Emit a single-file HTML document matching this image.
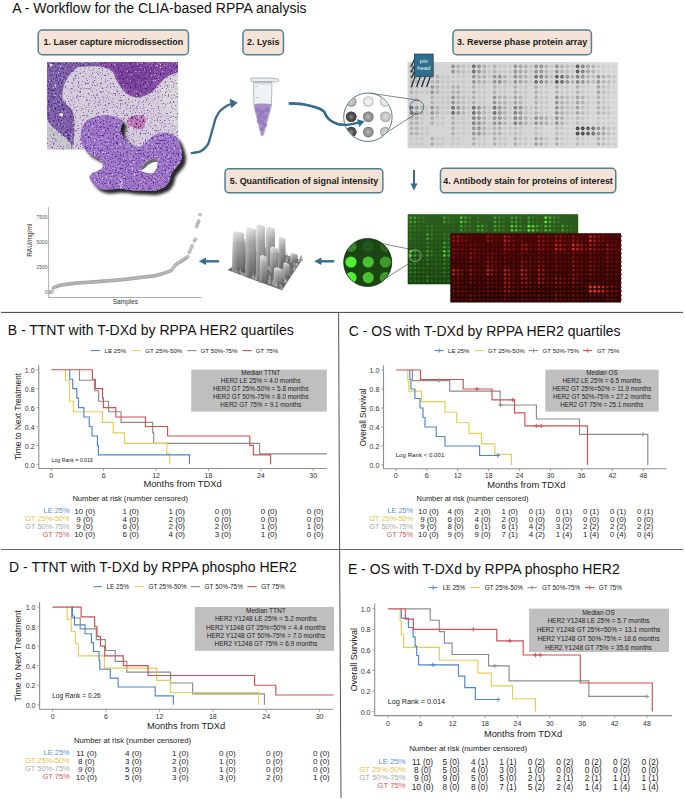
<!DOCTYPE html>
<html><head><meta charset="utf-8"><title>Figure</title>
<style>
html,body{margin:0;padding:0;background:#fff;}
svg{display:block;}
svg text{font-family:"Liberation Sans", sans-serif;}
</style></head>
<body>
<svg width="685" height="799" viewBox="0 0 685 799">
<rect x="0" y="0" width="685" height="799" fill="#ffffff"/>
<text x="12.20" y="12.70" font-size="14" fill="#111" text-anchor="start" font-weight="normal" >A - Workflow for the CLIA-based RPPA analysis</text>
<rect x="38.25" y="30.05" width="150.20" height="24.60" rx="4" ry="4" fill="#f4e3d6" stroke="#4f8196" stroke-width="1.5"/>
<text x="113.35" y="45.45" font-size="8.95" fill="#1a1a1a" text-anchor="middle" font-weight="bold" >1. Laser capture microdissection</text>
<rect x="242.95" y="30.05" width="40.50" height="24.60" rx="4" ry="4" fill="#f4e3d6" stroke="#4f8196" stroke-width="1.5"/>
<text x="263.20" y="45.45" font-size="8.95" fill="#1a1a1a" text-anchor="middle" font-weight="bold" >2. Lysis</text>
<rect x="452.95" y="30.05" width="138.50" height="24.60" rx="4" ry="4" fill="#f4e3d6" stroke="#4f8196" stroke-width="1.5"/>
<text x="522.20" y="45.45" font-size="8.95" fill="#1a1a1a" text-anchor="middle" font-weight="bold" >3. Reverse phase protein array</text>
<rect x="225.05" y="168.65" width="157.80" height="24.20" rx="4" ry="4" fill="#f4e3d6" stroke="#4f8196" stroke-width="1.5"/>
<text x="303.95" y="183.85" font-size="8.95" fill="#1a1a1a" text-anchor="middle" font-weight="bold" >5. Quantification of signal intensity</text>
<rect x="440.45" y="168.25" width="175.30" height="24.60" rx="4" ry="4" fill="#f4e3d6" stroke="#4f8196" stroke-width="1.5"/>
<text x="528.10" y="183.65" font-size="8.95" fill="#1a1a1a" text-anchor="middle" font-weight="bold" >4. Antibody stain for proteins of interest</text>
<defs>
<filter id="speck" x="0" y="0" width="100%" height="100%" color-interpolation-filters="sRGB">
 <feTurbulence type="fractalNoise" baseFrequency="0.6" numOctaves="2" seed="7" result="n"/>
 <feColorMatrix in="n" type="matrix" values="0 0 0 0 0.27  0 0 0 0 0.14  0 0 0 0 0.48  6.5 0 0 0 -3.6" result="m"/>
 <feComposite in="m" in2="SourceGraphic" operator="in" result="c"/>
 <feTurbulence type="fractalNoise" baseFrequency="0.55" numOctaves="2" seed="19" result="n2"/>
 <feColorMatrix in="n2" type="matrix" values="0 0 0 0 0.88  0 0 0 0 0.84  0 0 0 0 0.92  5 0 0 0 -3.1" result="m2"/>
 <feComposite in="m2" in2="SourceGraphic" operator="in" result="c2"/>
 <feMerge><feMergeNode in="SourceGraphic"/><feMergeNode in="c2"/><feMergeNode in="c"/></feMerge>
</filter>
<filter id="speckC" x="0" y="0" width="100%" height="100%" color-interpolation-filters="sRGB">
 <feTurbulence type="fractalNoise" baseFrequency="0.6" numOctaves="2" seed="5" result="n"/>
 <feColorMatrix in="n" type="matrix" values="0 0 0 0 0.36  0 0 0 0 0.18  0 0 0 0 0.60  6 0 0 0 -3.3" result="m"/>
 <feComposite in="m" in2="SourceGraphic" operator="in" result="c"/>
 <feTurbulence type="fractalNoise" baseFrequency="0.5" numOctaves="2" seed="23" result="n2"/>
 <feColorMatrix in="n2" type="matrix" values="0 0 0 0 0.86  0 0 0 0 0.80  0 0 0 0 0.92  5 0 0 0 -3.0" result="m2"/>
 <feComposite in="m2" in2="SourceGraphic" operator="in" result="c2"/>
 <feMerge><feMergeNode in="SourceGraphic"/><feMergeNode in="c2"/><feMergeNode in="c"/></feMerge>
</filter>
<filter id="speckL" x="0" y="0" width="100%" height="100%" color-interpolation-filters="sRGB">
 <feTurbulence type="fractalNoise" baseFrequency="0.6" numOctaves="2" seed="3" result="n"/>
 <feColorMatrix in="n" type="matrix" values="0 0 0 0 0.50  0 0 0 0 0.36  0 0 0 0 0.70  6 0 0 0 -3.45" result="m"/>
 <feComposite in="m" in2="SourceGraphic" operator="in" result="c"/>
 <feMerge><feMergeNode in="SourceGraphic"/><feMergeNode in="c"/></feMerge>
</filter>
<filter id="shadow" x="-20%" y="-20%" width="150%" height="150%">
 <feGaussianBlur in="SourceAlpha" stdDeviation="1.6"/>
 <feOffset dx="3.6" dy="4.0" result="ob"/>
 <feComponentTransfer><feFuncA type="linear" slope="0.85"/></feComponentTransfer>
 <feMerge><feMergeNode/><feMergeNode in="SourceGraphic"/></feMerge>
</filter>
<clipPath id="heclip"><rect x="46.9" y="62.1" width="131.3" height="87.3"/></clipPath>
<linearGradient id="prism" x1="0" y1="0" x2="0" y2="1">
 <stop offset="0" stop-color="#e4e4e4"/><stop offset="0.3" stop-color="#a8a8a8"/><stop offset="1" stop-color="#626262"/>
</linearGradient>
<linearGradient id="prism2" x1="0" y1="0" x2="1" y2="0">
 <stop offset="0" stop-color="#ffffff" stop-opacity="0.35"/><stop offset="0.5" stop-color="#ffffff" stop-opacity="0"/><stop offset="1" stop-color="#000" stop-opacity="0.18"/>
</linearGradient>
<radialGradient id="sph" cx="0.5" cy="0.5" r="0.5">
 <stop offset="0" stop-color="#fff" stop-opacity="0.4"/><stop offset="0.6" stop-color="#fff" stop-opacity="0.08"/><stop offset="1" stop-color="#000" stop-opacity="0.28"/>
</radialGradient>
<linearGradient id="greenbg" x1="0" y1="0" x2="0" y2="1">
 <stop offset="0" stop-color="#2b5f1d"/><stop offset="1" stop-color="#17430d"/>
</linearGradient>
<linearGradient id="redbg" x1="0" y1="0" x2="0" y2="1">
 <stop offset="0" stop-color="#440606"/><stop offset="1" stop-color="#240202"/>
</linearGradient>
<linearGradient id="graybg" x1="0" y1="0" x2="1" y2="0">
 <stop offset="0" stop-color="#d4d4d4"/><stop offset="1" stop-color="#dcdcdc"/>
</linearGradient>
</defs>
<g clip-path="url(#heclip)">
<g filter="url(#speck)">
<rect x="46.9" y="62.1" width="131.3" height="87.3" fill="#7f62aa"/>
<path d="M98,62.1 L178.2,62.1 L178.2,73 L173,74 L168,76 L163,80 L158,86 L152,92 L145,96 L136,97.5 L128,95 L122,89 L117,80 L113,72 L108,68 L100,66 Z" fill="#8a4ea6"/>
<path d="M116,64 C128,63 146,64 156,68 C152,78 144,88 132,90 C122,90 117,80 116,64 Z" fill="#7a3f9a" opacity="0.7"/>
</g>
<g filter="url(#speckL)">
<path d="M78.6,66.9 C84,66.2 94,65.8 100,66.5 C104,67 108,68 113,72 C115,76 118,84 122,89 C125,93 130,96.5 136,97.5 C141,98 147,95 152,92 C156,89 160,83 163,80 C166,77 170,75 173,74 L178.2,72 L178.2,149.4 L72,149.4 L73,143 C73.8,140 74.4,135 74.5,129.1 C74.6,124 74.6,120 74,117.6 C73.5,114 73,112 71.6,109.5 C70,107 67.5,105.5 65.9,103.8 C63.5,101 62.3,99 62.4,96.9 C62.3,94 62.4,91 63,88.8 C64,85 65.5,82 67,79.6 C68.5,76 70.5,73.5 72.8,71.5 C74.5,69.5 76.5,67.8 78.6,66.9 Z" fill="#d6cfdb"/>
<path d="M46.9,119.9 C50,124 53,128 55.5,129.1 C59,132 61,134 63.6,136 C66,138 68.5,141 70.5,143 L72,149.4 L46.9,149.4 Z" fill="#cacaca"/>
<path d="M178.2,73 L178.2,128 C174,124 168,116 163,106 C159,98 160,90 165,84 C169,79 174,75 178.2,73 Z" fill="#d9d9d9"/>
</g>
<ellipse cx="61.3" cy="114.7" rx="2" ry="1.7" fill="#eeeaf2"/><ellipse cx="55.5" cy="85.5" rx="1.1" ry="1" fill="#e6e0ee"/><ellipse cx="51" cy="65" rx="1.5" ry="1.2" fill="#e6e0ee"/>
<g filter="url(#speck)"><path d="M127,121 C129,116 137,114 144,115.5 C147,118 146,124 143,128 C140,131 136,129 133,127 C130,126 127,125 127,121 Z" fill="#c67ab6"/></g>
</g>
<g filter="url(#shadow)"><g filter="url(#speckC)"><path d="M81.4,129.3 C84,122 88,119 91,118.8 C96,116 100,115.3 103.3,115.3 C108,115 113,115.5 116.4,117 C120,118.5 123,120.5 122.6,123.1 C121.5,126 120.5,128.5 120.8,131 C121.5,134 122.5,136 124.3,138 C127,141 130,144 133.1,145 C136,146.5 138,147 140.1,146.8 C144,145 147,141 150.6,138 C154,135 158,133 161.1,132.8 C165,132.5 169,133 172.5,134.5 C176,136.5 178,139 178.6,141.5 C180.5,146 182,151 182.1,155.5 C182,159 180.5,162 178.6,164.3 C176,168 173,170.5 171.6,173.1 C170.5,175.5 170.5,178 169.9,180.1 C168.5,183 166.5,185.5 164.6,187.1 C160,189.5 156,190.5 152.3,190.9 C146,191 141,190.8 136.6,190.6 C131,190.2 127,189.2 122.6,188.8 C116,188.6 110,189.5 105,189.7 C99,189 95,187 92.8,183.6 C90.5,181 89.5,179 89.3,176.6 C90,174.5 92,173 94.5,172.2 C97.5,171 100.5,170 102.4,167.8 C103,165.5 103,163 101.5,160.8 C98,158 93,156.5 89.3,153.8 C86,151.5 83.5,148.5 82.3,145 C80.5,140 80.5,134 81.4,129.3 Z" fill="#9f78c8"/><path d="M92,124 C100,119 112,119 118,124 C116,132 108,137 98,137 C92,135 89,129 92,124 Z" fill="#a274c6" opacity="0.8"/><path d="M140,176 C150,174 160,176 166,180 C160,187 148,189 140,186 Z" fill="#a274c6" opacity="0.8"/><path d="M121,178 C122.8,180 123.5,185 123,189 L120,189 C119.5,185 119.8,181 121,178 Z" fill="#c6b4dc"/></g></g>
<path d="M141,170.5 C143,164 148,159.5 153,158.8 C156,158.5 157.5,160 157.6,162 C157.8,166 156.5,170 154,172.5 C150,173.5 145,173.5 141,170.5 Z" fill="#ffffff"/>
<path d="M141,170.5 C143,164 148,159.5 153,158.8 C156,158.5 157.5,160 157.6,162 C154,161.5 150,163 147,166 C145,168 143,170 141,170.5 Z" fill="#6a6a6a"/>
<path d="M190.90,153.20 C192.58,152.85 198.23,152.47 201.00,151.10 C203.77,149.73 206.03,147.05 207.50,145.00 C208.97,142.95 208.83,141.87 209.80,138.80 C210.77,135.73 212.28,130.10 213.30,126.60 C214.32,123.10 214.73,120.43 215.90,117.80 C217.07,115.17 218.40,112.85 220.30,110.80 C222.20,108.75 225.32,106.65 227.30,105.50 C229.28,104.35 231.38,104.17 232.20,103.90" fill="none" stroke="#346d8d" stroke-width="2.3"/>
<path d="M237.6,102.7 L229.6,98.6 L231.3,108.2 Z" fill="#346d8d"/>
<path d="M288.80,103.40 C291.27,103.55 299.07,103.63 303.60,104.30 C308.13,104.97 312.68,106.27 316.00,107.40 C319.32,108.53 321.83,109.75 323.50,111.10 C325.17,112.45 324.97,114.05 326.00,115.50 C327.03,116.95 327.85,118.42 329.70,119.80 C331.55,121.18 334.22,122.97 337.10,123.80 C339.98,124.63 343.43,125.00 347.00,124.80 C350.57,124.60 356.58,122.97 358.50,122.60" fill="none" stroke="#346d8d" stroke-width="2.3"/>
<path d="M364.6,121.2 L356.9,119.2 L359.3,127.0 Z" fill="#346d8d"/>
<path d="M414,170 L414,184.5" stroke="#346d8d" stroke-width="2"/><path d="M410.5,183.5 L417.5,183.5 L414,190.5 Z" fill="#346d8d"/>
<path d="M320.7,261.3 L334.2,261.3" stroke="#346d8d" stroke-width="2.4"/><path d="M314.2,261.3 L321.4,257.6 L321.4,265 Z" fill="#346d8d"/>
<path d="M205.3,261.3 L219.0,261.3" stroke="#346d8d" stroke-width="2.4"/><path d="M198.8,261.3 L206.0,257.6 L206.0,265 Z" fill="#346d8d"/>
<path d="M253.4,82.5 L272,82.5 L271.4,106 L263.6,134.8 C263,136.4 261.6,136.4 261,134.8 L254,106 Z" fill="#eef3f3" stroke="#9aa4a8" stroke-width="0.7"/>
<path d="M254.2,104 C258,103.2 266,103.2 271.2,104 L271,106 L263.4,134.6 C262.8,136 261.8,136 261.2,134.6 L254.2,106 Z" fill="#a98fcc"/>
<circle cx="257.5" cy="110" r="2.2" fill="#9a7cc2" stroke="#8a6cb2" stroke-width="0.5"/>
<circle cx="262" cy="112" r="2.2" fill="#9a7cc2" stroke="#8a6cb2" stroke-width="0.5"/>
<circle cx="267" cy="110" r="2.2" fill="#9a7cc2" stroke="#8a6cb2" stroke-width="0.5"/>
<circle cx="259.5" cy="116" r="2.1" fill="#9a7cc2" stroke="#8a6cb2" stroke-width="0.5"/>
<circle cx="264.5" cy="117" r="2.1" fill="#9a7cc2" stroke="#8a6cb2" stroke-width="0.5"/>
<circle cx="262" cy="122" r="2.0" fill="#9a7cc2" stroke="#8a6cb2" stroke-width="0.5"/>
<circle cx="259" cy="121" r="1.8" fill="#9a7cc2" stroke="#8a6cb2" stroke-width="0.5"/>
<circle cx="265" cy="125" r="1.7" fill="#9a7cc2" stroke="#8a6cb2" stroke-width="0.5"/>
<circle cx="262" cy="129" r="1.5" fill="#9a7cc2" stroke="#8a6cb2" stroke-width="0.5"/>
<rect x="251" y="78" width="22.5" height="3.6" rx="0.8" fill="#eceff0" stroke="#8f9a9e" stroke-width="0.7"/>
<path d="M273.5,78.6 L278,78.8 C279.2,79.3 279.2,81.4 278,81.8 L273.5,81.8" fill="#e8eced" stroke="#8f9a9e" stroke-width="0.6"/>
<path d="M254.5,84 L270.5,84" stroke="#b7c0c3" stroke-width="0.6"/>
<path d="M255.5,86.5 L258,86.5 M255.5,97.5 L259,97.5" stroke="#8f9a9e" stroke-width="0.5"/>
<rect x="407.5" y="62.0" width="210.5" height="86.3" fill="url(#graybg)"/>
<circle cx="411.54" cy="66.38" r="1.45" fill="#a3a3a3" stroke="#7b7b7b" stroke-width="0.8"/>
<circle cx="416.73" cy="66.38" r="1.45" fill="#a3a3a3" stroke="#7b7b7b" stroke-width="0.8"/>
<circle cx="421.92" cy="66.38" r="1.45" fill="#b9b9b9" stroke="#a3a3a3" stroke-width="0.8"/>
<circle cx="427.11" cy="66.38" r="1.45" fill="#b9b9b9" stroke="#a3a3a3" stroke-width="0.8"/>
<circle cx="432.30" cy="66.38" r="1.45" fill="#cbcbcb" stroke="#c3c3c3" stroke-width="0.8"/>
<circle cx="437.49" cy="66.38" r="1.45" fill="#d4d4d4" stroke="#d4d4d4" stroke-width="0.8"/>
<circle cx="442.68" cy="66.38" r="1.45" fill="#d4d4d4" stroke="#d4d4d4" stroke-width="0.8"/>
<circle cx="447.87" cy="66.38" r="1.45" fill="#d4d4d4" stroke="#d4d4d4" stroke-width="0.8"/>
<circle cx="453.06" cy="66.38" r="1.45" fill="#a3a3a3" stroke="#7b7b7b" stroke-width="0.8"/>
<circle cx="458.25" cy="66.38" r="1.45" fill="#b9b9b9" stroke="#a3a3a3" stroke-width="0.8"/>
<circle cx="463.44" cy="66.38" r="1.45" fill="#c3c3c3" stroke="#b4b4b4" stroke-width="0.8"/>
<circle cx="468.63" cy="66.38" r="1.45" fill="#cbcbcb" stroke="#c3c3c3" stroke-width="0.8"/>
<circle cx="473.82" cy="66.38" r="1.45" fill="#888888" stroke="#4b4b4b" stroke-width="0.8"/>
<circle cx="479.01" cy="66.38" r="1.45" fill="#a3a3a3" stroke="#7b7b7b" stroke-width="0.8"/>
<circle cx="484.20" cy="66.38" r="1.45" fill="#b9b9b9" stroke="#a3a3a3" stroke-width="0.8"/>
<circle cx="489.39" cy="66.38" r="1.45" fill="#cbcbcb" stroke="#c3c3c3" stroke-width="0.8"/>
<circle cx="494.58" cy="66.38" r="1.45" fill="#b9b9b9" stroke="#a3a3a3" stroke-width="0.8"/>
<circle cx="499.77" cy="66.38" r="1.45" fill="#cbcbcb" stroke="#c3c3c3" stroke-width="0.8"/>
<circle cx="504.96" cy="66.38" r="1.45" fill="#cbcbcb" stroke="#c3c3c3" stroke-width="0.8"/>
<circle cx="510.15" cy="66.38" r="1.45" fill="#cbcbcb" stroke="#c3c3c3" stroke-width="0.8"/>
<circle cx="515.35" cy="66.38" r="1.45" fill="#a3a3a3" stroke="#7b7b7b" stroke-width="0.8"/>
<circle cx="520.53" cy="66.38" r="1.45" fill="#afafaf" stroke="#909090" stroke-width="0.8"/>
<circle cx="525.72" cy="66.38" r="1.45" fill="#b9b9b9" stroke="#a3a3a3" stroke-width="0.8"/>
<circle cx="530.91" cy="66.38" r="1.45" fill="#cbcbcb" stroke="#c3c3c3" stroke-width="0.8"/>
<circle cx="536.11" cy="66.38" r="1.45" fill="#a3a3a3" stroke="#7b7b7b" stroke-width="0.8"/>
<circle cx="541.29" cy="66.38" r="1.45" fill="#a3a3a3" stroke="#7b7b7b" stroke-width="0.8"/>
<circle cx="546.48" cy="66.38" r="1.45" fill="#b9b9b9" stroke="#a3a3a3" stroke-width="0.8"/>
<circle cx="551.67" cy="66.38" r="1.45" fill="#cbcbcb" stroke="#c3c3c3" stroke-width="0.8"/>
<circle cx="556.87" cy="66.38" r="1.45" fill="#a3a3a3" stroke="#7b7b7b" stroke-width="0.8"/>
<circle cx="562.05" cy="66.38" r="1.45" fill="#b9b9b9" stroke="#a3a3a3" stroke-width="0.8"/>
<circle cx="567.25" cy="66.38" r="1.45" fill="#c3c3c3" stroke="#b4b4b4" stroke-width="0.8"/>
<circle cx="572.43" cy="66.38" r="1.45" fill="#cbcbcb" stroke="#c3c3c3" stroke-width="0.8"/>
<circle cx="577.62" cy="66.38" r="1.45" fill="#7a7a7a" stroke="#303030" stroke-width="0.8"/>
<circle cx="582.81" cy="66.38" r="1.45" fill="#969696" stroke="#646464" stroke-width="0.8"/>
<circle cx="588.00" cy="66.38" r="1.45" fill="#afafaf" stroke="#909090" stroke-width="0.8"/>
<circle cx="593.19" cy="66.38" r="1.45" fill="#b9b9b9" stroke="#a3a3a3" stroke-width="0.8"/>
<circle cx="598.38" cy="66.38" r="1.45" fill="#cbcbcb" stroke="#c3c3c3" stroke-width="0.8"/>
<circle cx="603.57" cy="66.38" r="1.45" fill="#d1d1d1" stroke="#cecece" stroke-width="0.8"/>
<circle cx="608.76" cy="66.38" r="1.45" fill="#d4d4d4" stroke="#d4d4d4" stroke-width="0.8"/>
<circle cx="613.95" cy="66.38" r="1.45" fill="#d4d4d4" stroke="#d4d4d4" stroke-width="0.8"/>
<circle cx="411.54" cy="71.55" r="1.45" fill="#a3a3a3" stroke="#7b7b7b" stroke-width="0.8"/>
<circle cx="416.73" cy="71.55" r="1.45" fill="#a3a3a3" stroke="#7b7b7b" stroke-width="0.8"/>
<circle cx="421.92" cy="71.55" r="1.45" fill="#b9b9b9" stroke="#a3a3a3" stroke-width="0.8"/>
<circle cx="427.11" cy="71.55" r="1.45" fill="#b9b9b9" stroke="#a3a3a3" stroke-width="0.8"/>
<circle cx="432.30" cy="71.55" r="1.45" fill="#cbcbcb" stroke="#c3c3c3" stroke-width="0.8"/>
<circle cx="437.49" cy="71.55" r="1.45" fill="#d4d4d4" stroke="#d4d4d4" stroke-width="0.8"/>
<circle cx="442.68" cy="71.55" r="1.45" fill="#d4d4d4" stroke="#d4d4d4" stroke-width="0.8"/>
<circle cx="447.87" cy="71.55" r="1.45" fill="#d4d4d4" stroke="#d4d4d4" stroke-width="0.8"/>
<circle cx="453.06" cy="71.55" r="1.45" fill="#a3a3a3" stroke="#7b7b7b" stroke-width="0.8"/>
<circle cx="458.25" cy="71.55" r="1.45" fill="#b9b9b9" stroke="#a3a3a3" stroke-width="0.8"/>
<circle cx="463.44" cy="71.55" r="1.45" fill="#c3c3c3" stroke="#b4b4b4" stroke-width="0.8"/>
<circle cx="468.63" cy="71.55" r="1.45" fill="#cbcbcb" stroke="#c3c3c3" stroke-width="0.8"/>
<circle cx="473.82" cy="71.55" r="1.45" fill="#888888" stroke="#4b4b4b" stroke-width="0.8"/>
<circle cx="479.01" cy="71.55" r="1.45" fill="#a3a3a3" stroke="#7b7b7b" stroke-width="0.8"/>
<circle cx="484.20" cy="71.55" r="1.45" fill="#b9b9b9" stroke="#a3a3a3" stroke-width="0.8"/>
<circle cx="489.39" cy="71.55" r="1.45" fill="#cbcbcb" stroke="#c3c3c3" stroke-width="0.8"/>
<circle cx="494.58" cy="71.55" r="1.45" fill="#b9b9b9" stroke="#a3a3a3" stroke-width="0.8"/>
<circle cx="499.77" cy="71.55" r="1.45" fill="#cbcbcb" stroke="#c3c3c3" stroke-width="0.8"/>
<circle cx="504.96" cy="71.55" r="1.45" fill="#cbcbcb" stroke="#c3c3c3" stroke-width="0.8"/>
<circle cx="510.15" cy="71.55" r="1.45" fill="#cbcbcb" stroke="#c3c3c3" stroke-width="0.8"/>
<circle cx="515.35" cy="71.55" r="1.45" fill="#a3a3a3" stroke="#7b7b7b" stroke-width="0.8"/>
<circle cx="520.53" cy="71.55" r="1.45" fill="#afafaf" stroke="#909090" stroke-width="0.8"/>
<circle cx="525.72" cy="71.55" r="1.45" fill="#b9b9b9" stroke="#a3a3a3" stroke-width="0.8"/>
<circle cx="530.91" cy="71.55" r="1.45" fill="#cbcbcb" stroke="#c3c3c3" stroke-width="0.8"/>
<circle cx="536.11" cy="71.55" r="1.45" fill="#a3a3a3" stroke="#7b7b7b" stroke-width="0.8"/>
<circle cx="541.29" cy="71.55" r="1.45" fill="#a3a3a3" stroke="#7b7b7b" stroke-width="0.8"/>
<circle cx="546.48" cy="71.55" r="1.45" fill="#b9b9b9" stroke="#a3a3a3" stroke-width="0.8"/>
<circle cx="551.67" cy="71.55" r="1.45" fill="#cbcbcb" stroke="#c3c3c3" stroke-width="0.8"/>
<circle cx="556.87" cy="71.55" r="1.45" fill="#a3a3a3" stroke="#7b7b7b" stroke-width="0.8"/>
<circle cx="562.05" cy="71.55" r="1.45" fill="#b9b9b9" stroke="#a3a3a3" stroke-width="0.8"/>
<circle cx="567.25" cy="71.55" r="1.45" fill="#c3c3c3" stroke="#b4b4b4" stroke-width="0.8"/>
<circle cx="572.43" cy="71.55" r="1.45" fill="#cbcbcb" stroke="#c3c3c3" stroke-width="0.8"/>
<circle cx="577.62" cy="71.55" r="1.45" fill="#7a7a7a" stroke="#303030" stroke-width="0.8"/>
<circle cx="582.81" cy="71.55" r="1.45" fill="#969696" stroke="#646464" stroke-width="0.8"/>
<circle cx="588.00" cy="71.55" r="1.45" fill="#afafaf" stroke="#909090" stroke-width="0.8"/>
<circle cx="593.19" cy="71.55" r="1.45" fill="#b9b9b9" stroke="#a3a3a3" stroke-width="0.8"/>
<circle cx="598.38" cy="71.55" r="1.45" fill="#cbcbcb" stroke="#c3c3c3" stroke-width="0.8"/>
<circle cx="603.57" cy="71.55" r="1.45" fill="#d1d1d1" stroke="#cecece" stroke-width="0.8"/>
<circle cx="608.76" cy="71.55" r="1.45" fill="#d4d4d4" stroke="#d4d4d4" stroke-width="0.8"/>
<circle cx="613.95" cy="71.55" r="1.45" fill="#d4d4d4" stroke="#d4d4d4" stroke-width="0.8"/>
<circle cx="411.54" cy="76.72" r="1.45" fill="#b9b9b9" stroke="#a3a3a3" stroke-width="0.8"/>
<circle cx="416.73" cy="76.72" r="1.45" fill="#b9b9b9" stroke="#a3a3a3" stroke-width="0.8"/>
<circle cx="421.92" cy="76.72" r="1.45" fill="#c3c3c3" stroke="#b4b4b4" stroke-width="0.8"/>
<circle cx="427.11" cy="76.72" r="1.45" fill="#cbcbcb" stroke="#c3c3c3" stroke-width="0.8"/>
<circle cx="432.30" cy="76.72" r="1.45" fill="#b9b9b9" stroke="#a3a3a3" stroke-width="0.8"/>
<circle cx="437.49" cy="76.72" r="1.45" fill="#b9b9b9" stroke="#a3a3a3" stroke-width="0.8"/>
<circle cx="442.68" cy="76.72" r="1.45" fill="#cbcbcb" stroke="#c3c3c3" stroke-width="0.8"/>
<circle cx="447.87" cy="76.72" r="1.45" fill="#cbcbcb" stroke="#c3c3c3" stroke-width="0.8"/>
<circle cx="453.06" cy="76.72" r="1.45" fill="#cbcbcb" stroke="#c3c3c3" stroke-width="0.8"/>
<circle cx="458.25" cy="76.72" r="1.45" fill="#cbcbcb" stroke="#c3c3c3" stroke-width="0.8"/>
<circle cx="463.44" cy="76.72" r="1.45" fill="#cbcbcb" stroke="#c3c3c3" stroke-width="0.8"/>
<circle cx="468.63" cy="76.72" r="1.45" fill="#d1d1d1" stroke="#cecece" stroke-width="0.8"/>
<circle cx="473.82" cy="76.72" r="1.45" fill="#a3a3a3" stroke="#7b7b7b" stroke-width="0.8"/>
<circle cx="479.01" cy="76.72" r="1.45" fill="#b9b9b9" stroke="#a3a3a3" stroke-width="0.8"/>
<circle cx="484.20" cy="76.72" r="1.45" fill="#b9b9b9" stroke="#a3a3a3" stroke-width="0.8"/>
<circle cx="489.39" cy="76.72" r="1.45" fill="#cbcbcb" stroke="#c3c3c3" stroke-width="0.8"/>
<circle cx="494.58" cy="76.72" r="1.45" fill="#a3a3a3" stroke="#7b7b7b" stroke-width="0.8"/>
<circle cx="499.77" cy="76.72" r="1.45" fill="#a3a3a3" stroke="#7b7b7b" stroke-width="0.8"/>
<circle cx="504.96" cy="76.72" r="1.45" fill="#b9b9b9" stroke="#a3a3a3" stroke-width="0.8"/>
<circle cx="510.15" cy="76.72" r="1.45" fill="#cbcbcb" stroke="#c3c3c3" stroke-width="0.8"/>
<circle cx="515.35" cy="76.72" r="1.45" fill="#a3a3a3" stroke="#7b7b7b" stroke-width="0.8"/>
<circle cx="520.53" cy="76.72" r="1.45" fill="#afafaf" stroke="#909090" stroke-width="0.8"/>
<circle cx="525.72" cy="76.72" r="1.45" fill="#b9b9b9" stroke="#a3a3a3" stroke-width="0.8"/>
<circle cx="530.91" cy="76.72" r="1.45" fill="#cbcbcb" stroke="#c3c3c3" stroke-width="0.8"/>
<circle cx="536.11" cy="76.72" r="1.45" fill="#888888" stroke="#4b4b4b" stroke-width="0.8"/>
<circle cx="541.29" cy="76.72" r="1.45" fill="#969696" stroke="#646464" stroke-width="0.8"/>
<circle cx="546.48" cy="76.72" r="1.45" fill="#afafaf" stroke="#909090" stroke-width="0.8"/>
<circle cx="551.67" cy="76.72" r="1.45" fill="#c3c3c3" stroke="#b4b4b4" stroke-width="0.8"/>
<circle cx="556.87" cy="76.72" r="1.45" fill="#7a7a7a" stroke="#303030" stroke-width="0.8"/>
<circle cx="562.05" cy="76.72" r="1.45" fill="#888888" stroke="#4b4b4b" stroke-width="0.8"/>
<circle cx="567.25" cy="76.72" r="1.45" fill="#a3a3a3" stroke="#7b7b7b" stroke-width="0.8"/>
<circle cx="572.43" cy="76.72" r="1.45" fill="#b9b9b9" stroke="#a3a3a3" stroke-width="0.8"/>
<circle cx="577.62" cy="76.72" r="1.45" fill="#969696" stroke="#646464" stroke-width="0.8"/>
<circle cx="582.81" cy="76.72" r="1.45" fill="#a3a3a3" stroke="#7b7b7b" stroke-width="0.8"/>
<circle cx="588.00" cy="76.72" r="1.45" fill="#b9b9b9" stroke="#a3a3a3" stroke-width="0.8"/>
<circle cx="593.19" cy="76.72" r="1.45" fill="#c3c3c3" stroke="#b4b4b4" stroke-width="0.8"/>
<circle cx="598.38" cy="76.72" r="1.45" fill="#a3a3a3" stroke="#7b7b7b" stroke-width="0.8"/>
<circle cx="603.57" cy="76.72" r="1.45" fill="#b9b9b9" stroke="#a3a3a3" stroke-width="0.8"/>
<circle cx="608.76" cy="76.72" r="1.45" fill="#c3c3c3" stroke="#b4b4b4" stroke-width="0.8"/>
<circle cx="613.95" cy="76.72" r="1.45" fill="#cbcbcb" stroke="#c3c3c3" stroke-width="0.8"/>
<circle cx="411.54" cy="81.89" r="1.45" fill="#b9b9b9" stroke="#a3a3a3" stroke-width="0.8"/>
<circle cx="416.73" cy="81.89" r="1.45" fill="#b9b9b9" stroke="#a3a3a3" stroke-width="0.8"/>
<circle cx="421.92" cy="81.89" r="1.45" fill="#c3c3c3" stroke="#b4b4b4" stroke-width="0.8"/>
<circle cx="427.11" cy="81.89" r="1.45" fill="#cbcbcb" stroke="#c3c3c3" stroke-width="0.8"/>
<circle cx="432.30" cy="81.89" r="1.45" fill="#b9b9b9" stroke="#a3a3a3" stroke-width="0.8"/>
<circle cx="437.49" cy="81.89" r="1.45" fill="#b9b9b9" stroke="#a3a3a3" stroke-width="0.8"/>
<circle cx="442.68" cy="81.89" r="1.45" fill="#cbcbcb" stroke="#c3c3c3" stroke-width="0.8"/>
<circle cx="447.87" cy="81.89" r="1.45" fill="#cbcbcb" stroke="#c3c3c3" stroke-width="0.8"/>
<circle cx="453.06" cy="81.89" r="1.45" fill="#cbcbcb" stroke="#c3c3c3" stroke-width="0.8"/>
<circle cx="458.25" cy="81.89" r="1.45" fill="#cbcbcb" stroke="#c3c3c3" stroke-width="0.8"/>
<circle cx="463.44" cy="81.89" r="1.45" fill="#cbcbcb" stroke="#c3c3c3" stroke-width="0.8"/>
<circle cx="468.63" cy="81.89" r="1.45" fill="#d1d1d1" stroke="#cecece" stroke-width="0.8"/>
<circle cx="473.82" cy="81.89" r="1.45" fill="#a3a3a3" stroke="#7b7b7b" stroke-width="0.8"/>
<circle cx="479.01" cy="81.89" r="1.45" fill="#b9b9b9" stroke="#a3a3a3" stroke-width="0.8"/>
<circle cx="484.20" cy="81.89" r="1.45" fill="#b9b9b9" stroke="#a3a3a3" stroke-width="0.8"/>
<circle cx="489.39" cy="81.89" r="1.45" fill="#cbcbcb" stroke="#c3c3c3" stroke-width="0.8"/>
<circle cx="494.58" cy="81.89" r="1.45" fill="#a3a3a3" stroke="#7b7b7b" stroke-width="0.8"/>
<circle cx="499.77" cy="81.89" r="1.45" fill="#a3a3a3" stroke="#7b7b7b" stroke-width="0.8"/>
<circle cx="504.96" cy="81.89" r="1.45" fill="#b9b9b9" stroke="#a3a3a3" stroke-width="0.8"/>
<circle cx="510.15" cy="81.89" r="1.45" fill="#cbcbcb" stroke="#c3c3c3" stroke-width="0.8"/>
<circle cx="515.35" cy="81.89" r="1.45" fill="#a3a3a3" stroke="#7b7b7b" stroke-width="0.8"/>
<circle cx="520.53" cy="81.89" r="1.45" fill="#afafaf" stroke="#909090" stroke-width="0.8"/>
<circle cx="525.72" cy="81.89" r="1.45" fill="#b9b9b9" stroke="#a3a3a3" stroke-width="0.8"/>
<circle cx="530.91" cy="81.89" r="1.45" fill="#cbcbcb" stroke="#c3c3c3" stroke-width="0.8"/>
<circle cx="536.11" cy="81.89" r="1.45" fill="#888888" stroke="#4b4b4b" stroke-width="0.8"/>
<circle cx="541.29" cy="81.89" r="1.45" fill="#969696" stroke="#646464" stroke-width="0.8"/>
<circle cx="546.48" cy="81.89" r="1.45" fill="#afafaf" stroke="#909090" stroke-width="0.8"/>
<circle cx="551.67" cy="81.89" r="1.45" fill="#c3c3c3" stroke="#b4b4b4" stroke-width="0.8"/>
<circle cx="556.87" cy="81.89" r="1.45" fill="#7a7a7a" stroke="#303030" stroke-width="0.8"/>
<circle cx="562.05" cy="81.89" r="1.45" fill="#888888" stroke="#4b4b4b" stroke-width="0.8"/>
<circle cx="567.25" cy="81.89" r="1.45" fill="#a3a3a3" stroke="#7b7b7b" stroke-width="0.8"/>
<circle cx="572.43" cy="81.89" r="1.45" fill="#b9b9b9" stroke="#a3a3a3" stroke-width="0.8"/>
<circle cx="577.62" cy="81.89" r="1.45" fill="#969696" stroke="#646464" stroke-width="0.8"/>
<circle cx="582.81" cy="81.89" r="1.45" fill="#a3a3a3" stroke="#7b7b7b" stroke-width="0.8"/>
<circle cx="588.00" cy="81.89" r="1.45" fill="#b9b9b9" stroke="#a3a3a3" stroke-width="0.8"/>
<circle cx="593.19" cy="81.89" r="1.45" fill="#c3c3c3" stroke="#b4b4b4" stroke-width="0.8"/>
<circle cx="598.38" cy="81.89" r="1.45" fill="#a3a3a3" stroke="#7b7b7b" stroke-width="0.8"/>
<circle cx="603.57" cy="81.89" r="1.45" fill="#b9b9b9" stroke="#a3a3a3" stroke-width="0.8"/>
<circle cx="608.76" cy="81.89" r="1.45" fill="#c3c3c3" stroke="#b4b4b4" stroke-width="0.8"/>
<circle cx="613.95" cy="81.89" r="1.45" fill="#cbcbcb" stroke="#c3c3c3" stroke-width="0.8"/>
<circle cx="411.54" cy="87.06" r="1.45" fill="#b9b9b9" stroke="#a3a3a3" stroke-width="0.8"/>
<circle cx="416.73" cy="87.06" r="1.45" fill="#c3c3c3" stroke="#b4b4b4" stroke-width="0.8"/>
<circle cx="421.92" cy="87.06" r="1.45" fill="#cbcbcb" stroke="#c3c3c3" stroke-width="0.8"/>
<circle cx="427.11" cy="87.06" r="1.45" fill="#cbcbcb" stroke="#c3c3c3" stroke-width="0.8"/>
<circle cx="432.30" cy="87.06" r="1.45" fill="#a3a3a3" stroke="#7b7b7b" stroke-width="0.8"/>
<circle cx="437.49" cy="87.06" r="1.45" fill="#b9b9b9" stroke="#a3a3a3" stroke-width="0.8"/>
<circle cx="442.68" cy="87.06" r="1.45" fill="#cbcbcb" stroke="#c3c3c3" stroke-width="0.8"/>
<circle cx="447.87" cy="87.06" r="1.45" fill="#cbcbcb" stroke="#c3c3c3" stroke-width="0.8"/>
<circle cx="453.06" cy="87.06" r="1.45" fill="#b9b9b9" stroke="#a3a3a3" stroke-width="0.8"/>
<circle cx="458.25" cy="87.06" r="1.45" fill="#b9b9b9" stroke="#a3a3a3" stroke-width="0.8"/>
<circle cx="463.44" cy="87.06" r="1.45" fill="#cbcbcb" stroke="#c3c3c3" stroke-width="0.8"/>
<circle cx="468.63" cy="87.06" r="1.45" fill="#d1d1d1" stroke="#cecece" stroke-width="0.8"/>
<circle cx="473.82" cy="87.06" r="1.45" fill="#b9b9b9" stroke="#a3a3a3" stroke-width="0.8"/>
<circle cx="479.01" cy="87.06" r="1.45" fill="#cbcbcb" stroke="#c3c3c3" stroke-width="0.8"/>
<circle cx="484.20" cy="87.06" r="1.45" fill="#cbcbcb" stroke="#c3c3c3" stroke-width="0.8"/>
<circle cx="489.39" cy="87.06" r="1.45" fill="#d4d4d4" stroke="#d4d4d4" stroke-width="0.8"/>
<circle cx="494.58" cy="87.06" r="1.45" fill="#b9b9b9" stroke="#a3a3a3" stroke-width="0.8"/>
<circle cx="499.77" cy="87.06" r="1.45" fill="#cbcbcb" stroke="#c3c3c3" stroke-width="0.8"/>
<circle cx="504.96" cy="87.06" r="1.45" fill="#cbcbcb" stroke="#c3c3c3" stroke-width="0.8"/>
<circle cx="510.15" cy="87.06" r="1.45" fill="#d4d4d4" stroke="#d4d4d4" stroke-width="0.8"/>
<circle cx="515.35" cy="87.06" r="1.45" fill="#b9b9b9" stroke="#a3a3a3" stroke-width="0.8"/>
<circle cx="520.53" cy="87.06" r="1.45" fill="#cbcbcb" stroke="#c3c3c3" stroke-width="0.8"/>
<circle cx="525.72" cy="87.06" r="1.45" fill="#cbcbcb" stroke="#c3c3c3" stroke-width="0.8"/>
<circle cx="530.91" cy="87.06" r="1.45" fill="#d4d4d4" stroke="#d4d4d4" stroke-width="0.8"/>
<circle cx="536.11" cy="87.06" r="1.45" fill="#b9b9b9" stroke="#a3a3a3" stroke-width="0.8"/>
<circle cx="541.29" cy="87.06" r="1.45" fill="#cbcbcb" stroke="#c3c3c3" stroke-width="0.8"/>
<circle cx="546.48" cy="87.06" r="1.45" fill="#cbcbcb" stroke="#c3c3c3" stroke-width="0.8"/>
<circle cx="551.67" cy="87.06" r="1.45" fill="#d4d4d4" stroke="#d4d4d4" stroke-width="0.8"/>
<circle cx="556.87" cy="87.06" r="1.45" fill="#b9b9b9" stroke="#a3a3a3" stroke-width="0.8"/>
<circle cx="562.05" cy="87.06" r="1.45" fill="#cbcbcb" stroke="#c3c3c3" stroke-width="0.8"/>
<circle cx="567.25" cy="87.06" r="1.45" fill="#cbcbcb" stroke="#c3c3c3" stroke-width="0.8"/>
<circle cx="572.43" cy="87.06" r="1.45" fill="#d1d1d1" stroke="#cecece" stroke-width="0.8"/>
<circle cx="577.62" cy="87.06" r="1.45" fill="#b9b9b9" stroke="#a3a3a3" stroke-width="0.8"/>
<circle cx="582.81" cy="87.06" r="1.45" fill="#cbcbcb" stroke="#c3c3c3" stroke-width="0.8"/>
<circle cx="588.00" cy="87.06" r="1.45" fill="#d1d1d1" stroke="#cecece" stroke-width="0.8"/>
<circle cx="593.19" cy="87.06" r="1.45" fill="#d4d4d4" stroke="#d4d4d4" stroke-width="0.8"/>
<circle cx="598.38" cy="87.06" r="1.45" fill="#afafaf" stroke="#909090" stroke-width="0.8"/>
<circle cx="603.57" cy="87.06" r="1.45" fill="#c3c3c3" stroke="#b4b4b4" stroke-width="0.8"/>
<circle cx="608.76" cy="87.06" r="1.45" fill="#cbcbcb" stroke="#c3c3c3" stroke-width="0.8"/>
<circle cx="613.95" cy="87.06" r="1.45" fill="#d1d1d1" stroke="#cecece" stroke-width="0.8"/>
<circle cx="411.54" cy="92.22" r="1.45" fill="#b9b9b9" stroke="#a3a3a3" stroke-width="0.8"/>
<circle cx="416.73" cy="92.22" r="1.45" fill="#c3c3c3" stroke="#b4b4b4" stroke-width="0.8"/>
<circle cx="421.92" cy="92.22" r="1.45" fill="#cbcbcb" stroke="#c3c3c3" stroke-width="0.8"/>
<circle cx="427.11" cy="92.22" r="1.45" fill="#cbcbcb" stroke="#c3c3c3" stroke-width="0.8"/>
<circle cx="432.30" cy="92.22" r="1.45" fill="#a3a3a3" stroke="#7b7b7b" stroke-width="0.8"/>
<circle cx="437.49" cy="92.22" r="1.45" fill="#b9b9b9" stroke="#a3a3a3" stroke-width="0.8"/>
<circle cx="442.68" cy="92.22" r="1.45" fill="#cbcbcb" stroke="#c3c3c3" stroke-width="0.8"/>
<circle cx="447.87" cy="92.22" r="1.45" fill="#cbcbcb" stroke="#c3c3c3" stroke-width="0.8"/>
<circle cx="453.06" cy="92.22" r="1.45" fill="#b9b9b9" stroke="#a3a3a3" stroke-width="0.8"/>
<circle cx="458.25" cy="92.22" r="1.45" fill="#b9b9b9" stroke="#a3a3a3" stroke-width="0.8"/>
<circle cx="463.44" cy="92.22" r="1.45" fill="#cbcbcb" stroke="#c3c3c3" stroke-width="0.8"/>
<circle cx="468.63" cy="92.22" r="1.45" fill="#d1d1d1" stroke="#cecece" stroke-width="0.8"/>
<circle cx="473.82" cy="92.22" r="1.45" fill="#b9b9b9" stroke="#a3a3a3" stroke-width="0.8"/>
<circle cx="479.01" cy="92.22" r="1.45" fill="#cbcbcb" stroke="#c3c3c3" stroke-width="0.8"/>
<circle cx="484.20" cy="92.22" r="1.45" fill="#cbcbcb" stroke="#c3c3c3" stroke-width="0.8"/>
<circle cx="489.39" cy="92.22" r="1.45" fill="#d4d4d4" stroke="#d4d4d4" stroke-width="0.8"/>
<circle cx="494.58" cy="92.22" r="1.45" fill="#b9b9b9" stroke="#a3a3a3" stroke-width="0.8"/>
<circle cx="499.77" cy="92.22" r="1.45" fill="#cbcbcb" stroke="#c3c3c3" stroke-width="0.8"/>
<circle cx="504.96" cy="92.22" r="1.45" fill="#cbcbcb" stroke="#c3c3c3" stroke-width="0.8"/>
<circle cx="510.15" cy="92.22" r="1.45" fill="#d4d4d4" stroke="#d4d4d4" stroke-width="0.8"/>
<circle cx="515.35" cy="92.22" r="1.45" fill="#b9b9b9" stroke="#a3a3a3" stroke-width="0.8"/>
<circle cx="520.53" cy="92.22" r="1.45" fill="#cbcbcb" stroke="#c3c3c3" stroke-width="0.8"/>
<circle cx="525.72" cy="92.22" r="1.45" fill="#cbcbcb" stroke="#c3c3c3" stroke-width="0.8"/>
<circle cx="530.91" cy="92.22" r="1.45" fill="#d4d4d4" stroke="#d4d4d4" stroke-width="0.8"/>
<circle cx="536.11" cy="92.22" r="1.45" fill="#b9b9b9" stroke="#a3a3a3" stroke-width="0.8"/>
<circle cx="541.29" cy="92.22" r="1.45" fill="#cbcbcb" stroke="#c3c3c3" stroke-width="0.8"/>
<circle cx="546.48" cy="92.22" r="1.45" fill="#cbcbcb" stroke="#c3c3c3" stroke-width="0.8"/>
<circle cx="551.67" cy="92.22" r="1.45" fill="#d4d4d4" stroke="#d4d4d4" stroke-width="0.8"/>
<circle cx="556.87" cy="92.22" r="1.45" fill="#b9b9b9" stroke="#a3a3a3" stroke-width="0.8"/>
<circle cx="562.05" cy="92.22" r="1.45" fill="#cbcbcb" stroke="#c3c3c3" stroke-width="0.8"/>
<circle cx="567.25" cy="92.22" r="1.45" fill="#cbcbcb" stroke="#c3c3c3" stroke-width="0.8"/>
<circle cx="572.43" cy="92.22" r="1.45" fill="#d1d1d1" stroke="#cecece" stroke-width="0.8"/>
<circle cx="577.62" cy="92.22" r="1.45" fill="#b9b9b9" stroke="#a3a3a3" stroke-width="0.8"/>
<circle cx="582.81" cy="92.22" r="1.45" fill="#cbcbcb" stroke="#c3c3c3" stroke-width="0.8"/>
<circle cx="588.00" cy="92.22" r="1.45" fill="#d1d1d1" stroke="#cecece" stroke-width="0.8"/>
<circle cx="593.19" cy="92.22" r="1.45" fill="#d4d4d4" stroke="#d4d4d4" stroke-width="0.8"/>
<circle cx="598.38" cy="92.22" r="1.45" fill="#afafaf" stroke="#909090" stroke-width="0.8"/>
<circle cx="603.57" cy="92.22" r="1.45" fill="#c3c3c3" stroke="#b4b4b4" stroke-width="0.8"/>
<circle cx="608.76" cy="92.22" r="1.45" fill="#cbcbcb" stroke="#c3c3c3" stroke-width="0.8"/>
<circle cx="613.95" cy="92.22" r="1.45" fill="#d1d1d1" stroke="#cecece" stroke-width="0.8"/>
<circle cx="411.54" cy="97.39" r="1.45" fill="#cbcbcb" stroke="#c3c3c3" stroke-width="0.8"/>
<circle cx="416.73" cy="97.39" r="1.45" fill="#cbcbcb" stroke="#c3c3c3" stroke-width="0.8"/>
<circle cx="421.92" cy="97.39" r="1.45" fill="#d4d4d4" stroke="#d4d4d4" stroke-width="0.8"/>
<circle cx="427.11" cy="97.39" r="1.45" fill="#d4d4d4" stroke="#d4d4d4" stroke-width="0.8"/>
<circle cx="432.30" cy="97.39" r="1.45" fill="#b9b9b9" stroke="#a3a3a3" stroke-width="0.8"/>
<circle cx="437.49" cy="97.39" r="1.45" fill="#cbcbcb" stroke="#c3c3c3" stroke-width="0.8"/>
<circle cx="442.68" cy="97.39" r="1.45" fill="#cbcbcb" stroke="#c3c3c3" stroke-width="0.8"/>
<circle cx="447.87" cy="97.39" r="1.45" fill="#cbcbcb" stroke="#c3c3c3" stroke-width="0.8"/>
<circle cx="453.06" cy="97.39" r="1.45" fill="#a3a3a3" stroke="#7b7b7b" stroke-width="0.8"/>
<circle cx="458.25" cy="97.39" r="1.45" fill="#b9b9b9" stroke="#a3a3a3" stroke-width="0.8"/>
<circle cx="463.44" cy="97.39" r="1.45" fill="#c3c3c3" stroke="#b4b4b4" stroke-width="0.8"/>
<circle cx="468.63" cy="97.39" r="1.45" fill="#cbcbcb" stroke="#c3c3c3" stroke-width="0.8"/>
<circle cx="473.82" cy="97.39" r="1.45" fill="#b9b9b9" stroke="#a3a3a3" stroke-width="0.8"/>
<circle cx="479.01" cy="97.39" r="1.45" fill="#cbcbcb" stroke="#c3c3c3" stroke-width="0.8"/>
<circle cx="484.20" cy="97.39" r="1.45" fill="#cbcbcb" stroke="#c3c3c3" stroke-width="0.8"/>
<circle cx="489.39" cy="97.39" r="1.45" fill="#d4d4d4" stroke="#d4d4d4" stroke-width="0.8"/>
<circle cx="494.58" cy="97.39" r="1.45" fill="#a3a3a3" stroke="#7b7b7b" stroke-width="0.8"/>
<circle cx="499.77" cy="97.39" r="1.45" fill="#b9b9b9" stroke="#a3a3a3" stroke-width="0.8"/>
<circle cx="504.96" cy="97.39" r="1.45" fill="#b9b9b9" stroke="#a3a3a3" stroke-width="0.8"/>
<circle cx="510.15" cy="97.39" r="1.45" fill="#cbcbcb" stroke="#c3c3c3" stroke-width="0.8"/>
<circle cx="515.35" cy="97.39" r="1.45" fill="#afafaf" stroke="#909090" stroke-width="0.8"/>
<circle cx="520.53" cy="97.39" r="1.45" fill="#b9b9b9" stroke="#a3a3a3" stroke-width="0.8"/>
<circle cx="525.72" cy="97.39" r="1.45" fill="#cbcbcb" stroke="#c3c3c3" stroke-width="0.8"/>
<circle cx="530.91" cy="97.39" r="1.45" fill="#d4d4d4" stroke="#d4d4d4" stroke-width="0.8"/>
<circle cx="536.11" cy="97.39" r="1.45" fill="#b9b9b9" stroke="#a3a3a3" stroke-width="0.8"/>
<circle cx="541.29" cy="97.39" r="1.45" fill="#cbcbcb" stroke="#c3c3c3" stroke-width="0.8"/>
<circle cx="546.48" cy="97.39" r="1.45" fill="#cbcbcb" stroke="#c3c3c3" stroke-width="0.8"/>
<circle cx="551.67" cy="97.39" r="1.45" fill="#d4d4d4" stroke="#d4d4d4" stroke-width="0.8"/>
<circle cx="556.87" cy="97.39" r="1.45" fill="#a3a3a3" stroke="#7b7b7b" stroke-width="0.8"/>
<circle cx="562.05" cy="97.39" r="1.45" fill="#b9b9b9" stroke="#a3a3a3" stroke-width="0.8"/>
<circle cx="567.25" cy="97.39" r="1.45" fill="#c3c3c3" stroke="#b4b4b4" stroke-width="0.8"/>
<circle cx="572.43" cy="97.39" r="1.45" fill="#cbcbcb" stroke="#c3c3c3" stroke-width="0.8"/>
<circle cx="577.62" cy="97.39" r="1.45" fill="#afafaf" stroke="#909090" stroke-width="0.8"/>
<circle cx="582.81" cy="97.39" r="1.45" fill="#b9b9b9" stroke="#a3a3a3" stroke-width="0.8"/>
<circle cx="588.00" cy="97.39" r="1.45" fill="#cbcbcb" stroke="#c3c3c3" stroke-width="0.8"/>
<circle cx="593.19" cy="97.39" r="1.45" fill="#d1d1d1" stroke="#cecece" stroke-width="0.8"/>
<circle cx="598.38" cy="97.39" r="1.45" fill="#b9b9b9" stroke="#a3a3a3" stroke-width="0.8"/>
<circle cx="603.57" cy="97.39" r="1.45" fill="#cbcbcb" stroke="#c3c3c3" stroke-width="0.8"/>
<circle cx="608.76" cy="97.39" r="1.45" fill="#d1d1d1" stroke="#cecece" stroke-width="0.8"/>
<circle cx="613.95" cy="97.39" r="1.45" fill="#d4d4d4" stroke="#d4d4d4" stroke-width="0.8"/>
<circle cx="411.54" cy="102.56" r="1.45" fill="#cbcbcb" stroke="#c3c3c3" stroke-width="0.8"/>
<circle cx="416.73" cy="102.56" r="1.45" fill="#cbcbcb" stroke="#c3c3c3" stroke-width="0.8"/>
<circle cx="421.92" cy="102.56" r="1.45" fill="#d4d4d4" stroke="#d4d4d4" stroke-width="0.8"/>
<circle cx="427.11" cy="102.56" r="1.45" fill="#d4d4d4" stroke="#d4d4d4" stroke-width="0.8"/>
<circle cx="432.30" cy="102.56" r="1.45" fill="#b9b9b9" stroke="#a3a3a3" stroke-width="0.8"/>
<circle cx="437.49" cy="102.56" r="1.45" fill="#cbcbcb" stroke="#c3c3c3" stroke-width="0.8"/>
<circle cx="442.68" cy="102.56" r="1.45" fill="#cbcbcb" stroke="#c3c3c3" stroke-width="0.8"/>
<circle cx="447.87" cy="102.56" r="1.45" fill="#cbcbcb" stroke="#c3c3c3" stroke-width="0.8"/>
<circle cx="453.06" cy="102.56" r="1.45" fill="#a3a3a3" stroke="#7b7b7b" stroke-width="0.8"/>
<circle cx="458.25" cy="102.56" r="1.45" fill="#b9b9b9" stroke="#a3a3a3" stroke-width="0.8"/>
<circle cx="463.44" cy="102.56" r="1.45" fill="#c3c3c3" stroke="#b4b4b4" stroke-width="0.8"/>
<circle cx="468.63" cy="102.56" r="1.45" fill="#cbcbcb" stroke="#c3c3c3" stroke-width="0.8"/>
<circle cx="473.82" cy="102.56" r="1.45" fill="#b9b9b9" stroke="#a3a3a3" stroke-width="0.8"/>
<circle cx="479.01" cy="102.56" r="1.45" fill="#cbcbcb" stroke="#c3c3c3" stroke-width="0.8"/>
<circle cx="484.20" cy="102.56" r="1.45" fill="#cbcbcb" stroke="#c3c3c3" stroke-width="0.8"/>
<circle cx="489.39" cy="102.56" r="1.45" fill="#d4d4d4" stroke="#d4d4d4" stroke-width="0.8"/>
<circle cx="494.58" cy="102.56" r="1.45" fill="#a3a3a3" stroke="#7b7b7b" stroke-width="0.8"/>
<circle cx="499.77" cy="102.56" r="1.45" fill="#b9b9b9" stroke="#a3a3a3" stroke-width="0.8"/>
<circle cx="504.96" cy="102.56" r="1.45" fill="#b9b9b9" stroke="#a3a3a3" stroke-width="0.8"/>
<circle cx="510.15" cy="102.56" r="1.45" fill="#cbcbcb" stroke="#c3c3c3" stroke-width="0.8"/>
<circle cx="515.35" cy="102.56" r="1.45" fill="#afafaf" stroke="#909090" stroke-width="0.8"/>
<circle cx="520.53" cy="102.56" r="1.45" fill="#b9b9b9" stroke="#a3a3a3" stroke-width="0.8"/>
<circle cx="525.72" cy="102.56" r="1.45" fill="#cbcbcb" stroke="#c3c3c3" stroke-width="0.8"/>
<circle cx="530.91" cy="102.56" r="1.45" fill="#d4d4d4" stroke="#d4d4d4" stroke-width="0.8"/>
<circle cx="536.11" cy="102.56" r="1.45" fill="#b9b9b9" stroke="#a3a3a3" stroke-width="0.8"/>
<circle cx="541.29" cy="102.56" r="1.45" fill="#cbcbcb" stroke="#c3c3c3" stroke-width="0.8"/>
<circle cx="546.48" cy="102.56" r="1.45" fill="#cbcbcb" stroke="#c3c3c3" stroke-width="0.8"/>
<circle cx="551.67" cy="102.56" r="1.45" fill="#d4d4d4" stroke="#d4d4d4" stroke-width="0.8"/>
<circle cx="556.87" cy="102.56" r="1.45" fill="#a3a3a3" stroke="#7b7b7b" stroke-width="0.8"/>
<circle cx="562.05" cy="102.56" r="1.45" fill="#b9b9b9" stroke="#a3a3a3" stroke-width="0.8"/>
<circle cx="567.25" cy="102.56" r="1.45" fill="#c3c3c3" stroke="#b4b4b4" stroke-width="0.8"/>
<circle cx="572.43" cy="102.56" r="1.45" fill="#cbcbcb" stroke="#c3c3c3" stroke-width="0.8"/>
<circle cx="577.62" cy="102.56" r="1.45" fill="#afafaf" stroke="#909090" stroke-width="0.8"/>
<circle cx="582.81" cy="102.56" r="1.45" fill="#b9b9b9" stroke="#a3a3a3" stroke-width="0.8"/>
<circle cx="588.00" cy="102.56" r="1.45" fill="#cbcbcb" stroke="#c3c3c3" stroke-width="0.8"/>
<circle cx="593.19" cy="102.56" r="1.45" fill="#d1d1d1" stroke="#cecece" stroke-width="0.8"/>
<circle cx="598.38" cy="102.56" r="1.45" fill="#b9b9b9" stroke="#a3a3a3" stroke-width="0.8"/>
<circle cx="603.57" cy="102.56" r="1.45" fill="#cbcbcb" stroke="#c3c3c3" stroke-width="0.8"/>
<circle cx="608.76" cy="102.56" r="1.45" fill="#d1d1d1" stroke="#cecece" stroke-width="0.8"/>
<circle cx="613.95" cy="102.56" r="1.45" fill="#d4d4d4" stroke="#d4d4d4" stroke-width="0.8"/>
<circle cx="411.54" cy="107.73" r="1.45" fill="#888888" stroke="#4b4b4b" stroke-width="0.8"/>
<circle cx="416.73" cy="107.73" r="1.45" fill="#a3a3a3" stroke="#7b7b7b" stroke-width="0.8"/>
<circle cx="421.92" cy="107.73" r="1.45" fill="#b9b9b9" stroke="#a3a3a3" stroke-width="0.8"/>
<circle cx="427.11" cy="107.73" r="1.45" fill="#cbcbcb" stroke="#c3c3c3" stroke-width="0.8"/>
<circle cx="432.30" cy="107.73" r="1.45" fill="#a3a3a3" stroke="#7b7b7b" stroke-width="0.8"/>
<circle cx="437.49" cy="107.73" r="1.45" fill="#b9b9b9" stroke="#a3a3a3" stroke-width="0.8"/>
<circle cx="442.68" cy="107.73" r="1.45" fill="#cbcbcb" stroke="#c3c3c3" stroke-width="0.8"/>
<circle cx="447.87" cy="107.73" r="1.45" fill="#cbcbcb" stroke="#c3c3c3" stroke-width="0.8"/>
<circle cx="453.06" cy="107.73" r="1.45" fill="#888888" stroke="#4b4b4b" stroke-width="0.8"/>
<circle cx="458.25" cy="107.73" r="1.45" fill="#a3a3a3" stroke="#7b7b7b" stroke-width="0.8"/>
<circle cx="463.44" cy="107.73" r="1.45" fill="#b9b9b9" stroke="#a3a3a3" stroke-width="0.8"/>
<circle cx="468.63" cy="107.73" r="1.45" fill="#cbcbcb" stroke="#c3c3c3" stroke-width="0.8"/>
<circle cx="473.82" cy="107.73" r="1.45" fill="#888888" stroke="#4b4b4b" stroke-width="0.8"/>
<circle cx="479.01" cy="107.73" r="1.45" fill="#a3a3a3" stroke="#7b7b7b" stroke-width="0.8"/>
<circle cx="484.20" cy="107.73" r="1.45" fill="#b9b9b9" stroke="#a3a3a3" stroke-width="0.8"/>
<circle cx="489.39" cy="107.73" r="1.45" fill="#cbcbcb" stroke="#c3c3c3" stroke-width="0.8"/>
<circle cx="494.58" cy="107.73" r="1.45" fill="#888888" stroke="#4b4b4b" stroke-width="0.8"/>
<circle cx="499.77" cy="107.73" r="1.45" fill="#a3a3a3" stroke="#7b7b7b" stroke-width="0.8"/>
<circle cx="504.96" cy="107.73" r="1.45" fill="#b9b9b9" stroke="#a3a3a3" stroke-width="0.8"/>
<circle cx="510.15" cy="107.73" r="1.45" fill="#cbcbcb" stroke="#c3c3c3" stroke-width="0.8"/>
<circle cx="515.35" cy="107.73" r="1.45" fill="#969696" stroke="#646464" stroke-width="0.8"/>
<circle cx="520.53" cy="107.73" r="1.45" fill="#a3a3a3" stroke="#7b7b7b" stroke-width="0.8"/>
<circle cx="525.72" cy="107.73" r="1.45" fill="#c3c3c3" stroke="#b4b4b4" stroke-width="0.8"/>
<circle cx="530.91" cy="107.73" r="1.45" fill="#cbcbcb" stroke="#c3c3c3" stroke-width="0.8"/>
<circle cx="536.11" cy="107.73" r="1.45" fill="#b9b9b9" stroke="#a3a3a3" stroke-width="0.8"/>
<circle cx="541.29" cy="107.73" r="1.45" fill="#cbcbcb" stroke="#c3c3c3" stroke-width="0.8"/>
<circle cx="546.48" cy="107.73" r="1.45" fill="#cbcbcb" stroke="#c3c3c3" stroke-width="0.8"/>
<circle cx="551.67" cy="107.73" r="1.45" fill="#d4d4d4" stroke="#d4d4d4" stroke-width="0.8"/>
<circle cx="556.87" cy="107.73" r="1.45" fill="#a3a3a3" stroke="#7b7b7b" stroke-width="0.8"/>
<circle cx="562.05" cy="107.73" r="1.45" fill="#b9b9b9" stroke="#a3a3a3" stroke-width="0.8"/>
<circle cx="567.25" cy="107.73" r="1.45" fill="#c3c3c3" stroke="#b4b4b4" stroke-width="0.8"/>
<circle cx="572.43" cy="107.73" r="1.45" fill="#cbcbcb" stroke="#c3c3c3" stroke-width="0.8"/>
<circle cx="577.62" cy="107.73" r="1.45" fill="#afafaf" stroke="#909090" stroke-width="0.8"/>
<circle cx="582.81" cy="107.73" r="1.45" fill="#c3c3c3" stroke="#b4b4b4" stroke-width="0.8"/>
<circle cx="588.00" cy="107.73" r="1.45" fill="#cbcbcb" stroke="#c3c3c3" stroke-width="0.8"/>
<circle cx="593.19" cy="107.73" r="1.45" fill="#d4d4d4" stroke="#d4d4d4" stroke-width="0.8"/>
<circle cx="598.38" cy="107.73" r="1.45" fill="#b9b9b9" stroke="#a3a3a3" stroke-width="0.8"/>
<circle cx="603.57" cy="107.73" r="1.45" fill="#c3c3c3" stroke="#b4b4b4" stroke-width="0.8"/>
<circle cx="608.76" cy="107.73" r="1.45" fill="#cbcbcb" stroke="#c3c3c3" stroke-width="0.8"/>
<circle cx="613.95" cy="107.73" r="1.45" fill="#d4d4d4" stroke="#d4d4d4" stroke-width="0.8"/>
<circle cx="411.54" cy="112.91" r="1.45" fill="#888888" stroke="#4b4b4b" stroke-width="0.8"/>
<circle cx="416.73" cy="112.91" r="1.45" fill="#a3a3a3" stroke="#7b7b7b" stroke-width="0.8"/>
<circle cx="421.92" cy="112.91" r="1.45" fill="#b9b9b9" stroke="#a3a3a3" stroke-width="0.8"/>
<circle cx="427.11" cy="112.91" r="1.45" fill="#cbcbcb" stroke="#c3c3c3" stroke-width="0.8"/>
<circle cx="432.30" cy="112.91" r="1.45" fill="#a3a3a3" stroke="#7b7b7b" stroke-width="0.8"/>
<circle cx="437.49" cy="112.91" r="1.45" fill="#b9b9b9" stroke="#a3a3a3" stroke-width="0.8"/>
<circle cx="442.68" cy="112.91" r="1.45" fill="#cbcbcb" stroke="#c3c3c3" stroke-width="0.8"/>
<circle cx="447.87" cy="112.91" r="1.45" fill="#cbcbcb" stroke="#c3c3c3" stroke-width="0.8"/>
<circle cx="453.06" cy="112.91" r="1.45" fill="#888888" stroke="#4b4b4b" stroke-width="0.8"/>
<circle cx="458.25" cy="112.91" r="1.45" fill="#a3a3a3" stroke="#7b7b7b" stroke-width="0.8"/>
<circle cx="463.44" cy="112.91" r="1.45" fill="#b9b9b9" stroke="#a3a3a3" stroke-width="0.8"/>
<circle cx="468.63" cy="112.91" r="1.45" fill="#cbcbcb" stroke="#c3c3c3" stroke-width="0.8"/>
<circle cx="473.82" cy="112.91" r="1.45" fill="#888888" stroke="#4b4b4b" stroke-width="0.8"/>
<circle cx="479.01" cy="112.91" r="1.45" fill="#a3a3a3" stroke="#7b7b7b" stroke-width="0.8"/>
<circle cx="484.20" cy="112.91" r="1.45" fill="#b9b9b9" stroke="#a3a3a3" stroke-width="0.8"/>
<circle cx="489.39" cy="112.91" r="1.45" fill="#cbcbcb" stroke="#c3c3c3" stroke-width="0.8"/>
<circle cx="494.58" cy="112.91" r="1.45" fill="#888888" stroke="#4b4b4b" stroke-width="0.8"/>
<circle cx="499.77" cy="112.91" r="1.45" fill="#a3a3a3" stroke="#7b7b7b" stroke-width="0.8"/>
<circle cx="504.96" cy="112.91" r="1.45" fill="#b9b9b9" stroke="#a3a3a3" stroke-width="0.8"/>
<circle cx="510.15" cy="112.91" r="1.45" fill="#cbcbcb" stroke="#c3c3c3" stroke-width="0.8"/>
<circle cx="515.35" cy="112.91" r="1.45" fill="#969696" stroke="#646464" stroke-width="0.8"/>
<circle cx="520.53" cy="112.91" r="1.45" fill="#a3a3a3" stroke="#7b7b7b" stroke-width="0.8"/>
<circle cx="525.72" cy="112.91" r="1.45" fill="#c3c3c3" stroke="#b4b4b4" stroke-width="0.8"/>
<circle cx="530.91" cy="112.91" r="1.45" fill="#cbcbcb" stroke="#c3c3c3" stroke-width="0.8"/>
<circle cx="536.11" cy="112.91" r="1.45" fill="#b9b9b9" stroke="#a3a3a3" stroke-width="0.8"/>
<circle cx="541.29" cy="112.91" r="1.45" fill="#cbcbcb" stroke="#c3c3c3" stroke-width="0.8"/>
<circle cx="546.48" cy="112.91" r="1.45" fill="#cbcbcb" stroke="#c3c3c3" stroke-width="0.8"/>
<circle cx="551.67" cy="112.91" r="1.45" fill="#d4d4d4" stroke="#d4d4d4" stroke-width="0.8"/>
<circle cx="556.87" cy="112.91" r="1.45" fill="#a3a3a3" stroke="#7b7b7b" stroke-width="0.8"/>
<circle cx="562.05" cy="112.91" r="1.45" fill="#b9b9b9" stroke="#a3a3a3" stroke-width="0.8"/>
<circle cx="567.25" cy="112.91" r="1.45" fill="#c3c3c3" stroke="#b4b4b4" stroke-width="0.8"/>
<circle cx="572.43" cy="112.91" r="1.45" fill="#cbcbcb" stroke="#c3c3c3" stroke-width="0.8"/>
<circle cx="577.62" cy="112.91" r="1.45" fill="#afafaf" stroke="#909090" stroke-width="0.8"/>
<circle cx="582.81" cy="112.91" r="1.45" fill="#c3c3c3" stroke="#b4b4b4" stroke-width="0.8"/>
<circle cx="588.00" cy="112.91" r="1.45" fill="#cbcbcb" stroke="#c3c3c3" stroke-width="0.8"/>
<circle cx="593.19" cy="112.91" r="1.45" fill="#d4d4d4" stroke="#d4d4d4" stroke-width="0.8"/>
<circle cx="598.38" cy="112.91" r="1.45" fill="#b9b9b9" stroke="#a3a3a3" stroke-width="0.8"/>
<circle cx="603.57" cy="112.91" r="1.45" fill="#c3c3c3" stroke="#b4b4b4" stroke-width="0.8"/>
<circle cx="608.76" cy="112.91" r="1.45" fill="#cbcbcb" stroke="#c3c3c3" stroke-width="0.8"/>
<circle cx="613.95" cy="112.91" r="1.45" fill="#d4d4d4" stroke="#d4d4d4" stroke-width="0.8"/>
<circle cx="411.54" cy="118.08" r="1.45" fill="#b9b9b9" stroke="#a3a3a3" stroke-width="0.8"/>
<circle cx="416.73" cy="118.08" r="1.45" fill="#b9b9b9" stroke="#a3a3a3" stroke-width="0.8"/>
<circle cx="421.92" cy="118.08" r="1.45" fill="#cbcbcb" stroke="#c3c3c3" stroke-width="0.8"/>
<circle cx="427.11" cy="118.08" r="1.45" fill="#d4d4d4" stroke="#d4d4d4" stroke-width="0.8"/>
<circle cx="432.30" cy="118.08" r="1.45" fill="#b9b9b9" stroke="#a3a3a3" stroke-width="0.8"/>
<circle cx="437.49" cy="118.08" r="1.45" fill="#cbcbcb" stroke="#c3c3c3" stroke-width="0.8"/>
<circle cx="442.68" cy="118.08" r="1.45" fill="#cbcbcb" stroke="#c3c3c3" stroke-width="0.8"/>
<circle cx="447.87" cy="118.08" r="1.45" fill="#d4d4d4" stroke="#d4d4d4" stroke-width="0.8"/>
<circle cx="453.06" cy="118.08" r="1.45" fill="#b9b9b9" stroke="#a3a3a3" stroke-width="0.8"/>
<circle cx="458.25" cy="118.08" r="1.45" fill="#cbcbcb" stroke="#c3c3c3" stroke-width="0.8"/>
<circle cx="463.44" cy="118.08" r="1.45" fill="#cbcbcb" stroke="#c3c3c3" stroke-width="0.8"/>
<circle cx="468.63" cy="118.08" r="1.45" fill="#d1d1d1" stroke="#cecece" stroke-width="0.8"/>
<circle cx="473.82" cy="118.08" r="1.45" fill="#969696" stroke="#646464" stroke-width="0.8"/>
<circle cx="479.01" cy="118.08" r="1.45" fill="#a3a3a3" stroke="#7b7b7b" stroke-width="0.8"/>
<circle cx="484.20" cy="118.08" r="1.45" fill="#b9b9b9" stroke="#a3a3a3" stroke-width="0.8"/>
<circle cx="489.39" cy="118.08" r="1.45" fill="#cbcbcb" stroke="#c3c3c3" stroke-width="0.8"/>
<circle cx="494.58" cy="118.08" r="1.45" fill="#a3a3a3" stroke="#7b7b7b" stroke-width="0.8"/>
<circle cx="499.77" cy="118.08" r="1.45" fill="#a3a3a3" stroke="#7b7b7b" stroke-width="0.8"/>
<circle cx="504.96" cy="118.08" r="1.45" fill="#b9b9b9" stroke="#a3a3a3" stroke-width="0.8"/>
<circle cx="510.15" cy="118.08" r="1.45" fill="#cbcbcb" stroke="#c3c3c3" stroke-width="0.8"/>
<circle cx="515.35" cy="118.08" r="1.45" fill="#969696" stroke="#646464" stroke-width="0.8"/>
<circle cx="520.53" cy="118.08" r="1.45" fill="#a3a3a3" stroke="#7b7b7b" stroke-width="0.8"/>
<circle cx="525.72" cy="118.08" r="1.45" fill="#b9b9b9" stroke="#a3a3a3" stroke-width="0.8"/>
<circle cx="530.91" cy="118.08" r="1.45" fill="#cbcbcb" stroke="#c3c3c3" stroke-width="0.8"/>
<circle cx="536.11" cy="118.08" r="1.45" fill="#a3a3a3" stroke="#7b7b7b" stroke-width="0.8"/>
<circle cx="541.29" cy="118.08" r="1.45" fill="#afafaf" stroke="#909090" stroke-width="0.8"/>
<circle cx="546.48" cy="118.08" r="1.45" fill="#b9b9b9" stroke="#a3a3a3" stroke-width="0.8"/>
<circle cx="551.67" cy="118.08" r="1.45" fill="#cbcbcb" stroke="#c3c3c3" stroke-width="0.8"/>
<circle cx="556.87" cy="118.08" r="1.45" fill="#a3a3a3" stroke="#7b7b7b" stroke-width="0.8"/>
<circle cx="562.05" cy="118.08" r="1.45" fill="#b9b9b9" stroke="#a3a3a3" stroke-width="0.8"/>
<circle cx="567.25" cy="118.08" r="1.45" fill="#cbcbcb" stroke="#c3c3c3" stroke-width="0.8"/>
<circle cx="572.43" cy="118.08" r="1.45" fill="#d1d1d1" stroke="#cecece" stroke-width="0.8"/>
<circle cx="577.62" cy="118.08" r="1.45" fill="#c3c3c3" stroke="#b4b4b4" stroke-width="0.8"/>
<circle cx="582.81" cy="118.08" r="1.45" fill="#cbcbcb" stroke="#c3c3c3" stroke-width="0.8"/>
<circle cx="588.00" cy="118.08" r="1.45" fill="#d1d1d1" stroke="#cecece" stroke-width="0.8"/>
<circle cx="593.19" cy="118.08" r="1.45" fill="#d4d4d4" stroke="#d4d4d4" stroke-width="0.8"/>
<circle cx="598.38" cy="118.08" r="1.45" fill="#cbcbcb" stroke="#c3c3c3" stroke-width="0.8"/>
<circle cx="603.57" cy="118.08" r="1.45" fill="#d1d1d1" stroke="#cecece" stroke-width="0.8"/>
<circle cx="608.76" cy="118.08" r="1.45" fill="#d1d1d1" stroke="#cecece" stroke-width="0.8"/>
<circle cx="613.95" cy="118.08" r="1.45" fill="#d4d4d4" stroke="#d4d4d4" stroke-width="0.8"/>
<circle cx="411.54" cy="123.25" r="1.45" fill="#b9b9b9" stroke="#a3a3a3" stroke-width="0.8"/>
<circle cx="416.73" cy="123.25" r="1.45" fill="#b9b9b9" stroke="#a3a3a3" stroke-width="0.8"/>
<circle cx="421.92" cy="123.25" r="1.45" fill="#cbcbcb" stroke="#c3c3c3" stroke-width="0.8"/>
<circle cx="427.11" cy="123.25" r="1.45" fill="#d4d4d4" stroke="#d4d4d4" stroke-width="0.8"/>
<circle cx="432.30" cy="123.25" r="1.45" fill="#b9b9b9" stroke="#a3a3a3" stroke-width="0.8"/>
<circle cx="437.49" cy="123.25" r="1.45" fill="#cbcbcb" stroke="#c3c3c3" stroke-width="0.8"/>
<circle cx="442.68" cy="123.25" r="1.45" fill="#cbcbcb" stroke="#c3c3c3" stroke-width="0.8"/>
<circle cx="447.87" cy="123.25" r="1.45" fill="#d4d4d4" stroke="#d4d4d4" stroke-width="0.8"/>
<circle cx="453.06" cy="123.25" r="1.45" fill="#b9b9b9" stroke="#a3a3a3" stroke-width="0.8"/>
<circle cx="458.25" cy="123.25" r="1.45" fill="#cbcbcb" stroke="#c3c3c3" stroke-width="0.8"/>
<circle cx="463.44" cy="123.25" r="1.45" fill="#cbcbcb" stroke="#c3c3c3" stroke-width="0.8"/>
<circle cx="468.63" cy="123.25" r="1.45" fill="#d1d1d1" stroke="#cecece" stroke-width="0.8"/>
<circle cx="473.82" cy="123.25" r="1.45" fill="#969696" stroke="#646464" stroke-width="0.8"/>
<circle cx="479.01" cy="123.25" r="1.45" fill="#a3a3a3" stroke="#7b7b7b" stroke-width="0.8"/>
<circle cx="484.20" cy="123.25" r="1.45" fill="#b9b9b9" stroke="#a3a3a3" stroke-width="0.8"/>
<circle cx="489.39" cy="123.25" r="1.45" fill="#cbcbcb" stroke="#c3c3c3" stroke-width="0.8"/>
<circle cx="494.58" cy="123.25" r="1.45" fill="#a3a3a3" stroke="#7b7b7b" stroke-width="0.8"/>
<circle cx="499.77" cy="123.25" r="1.45" fill="#a3a3a3" stroke="#7b7b7b" stroke-width="0.8"/>
<circle cx="504.96" cy="123.25" r="1.45" fill="#b9b9b9" stroke="#a3a3a3" stroke-width="0.8"/>
<circle cx="510.15" cy="123.25" r="1.45" fill="#cbcbcb" stroke="#c3c3c3" stroke-width="0.8"/>
<circle cx="515.35" cy="123.25" r="1.45" fill="#969696" stroke="#646464" stroke-width="0.8"/>
<circle cx="520.53" cy="123.25" r="1.45" fill="#a3a3a3" stroke="#7b7b7b" stroke-width="0.8"/>
<circle cx="525.72" cy="123.25" r="1.45" fill="#b9b9b9" stroke="#a3a3a3" stroke-width="0.8"/>
<circle cx="530.91" cy="123.25" r="1.45" fill="#cbcbcb" stroke="#c3c3c3" stroke-width="0.8"/>
<circle cx="536.11" cy="123.25" r="1.45" fill="#a3a3a3" stroke="#7b7b7b" stroke-width="0.8"/>
<circle cx="541.29" cy="123.25" r="1.45" fill="#afafaf" stroke="#909090" stroke-width="0.8"/>
<circle cx="546.48" cy="123.25" r="1.45" fill="#b9b9b9" stroke="#a3a3a3" stroke-width="0.8"/>
<circle cx="551.67" cy="123.25" r="1.45" fill="#cbcbcb" stroke="#c3c3c3" stroke-width="0.8"/>
<circle cx="556.87" cy="123.25" r="1.45" fill="#a3a3a3" stroke="#7b7b7b" stroke-width="0.8"/>
<circle cx="562.05" cy="123.25" r="1.45" fill="#b9b9b9" stroke="#a3a3a3" stroke-width="0.8"/>
<circle cx="567.25" cy="123.25" r="1.45" fill="#cbcbcb" stroke="#c3c3c3" stroke-width="0.8"/>
<circle cx="572.43" cy="123.25" r="1.45" fill="#d1d1d1" stroke="#cecece" stroke-width="0.8"/>
<circle cx="577.62" cy="123.25" r="1.45" fill="#c3c3c3" stroke="#b4b4b4" stroke-width="0.8"/>
<circle cx="582.81" cy="123.25" r="1.45" fill="#cbcbcb" stroke="#c3c3c3" stroke-width="0.8"/>
<circle cx="588.00" cy="123.25" r="1.45" fill="#d1d1d1" stroke="#cecece" stroke-width="0.8"/>
<circle cx="593.19" cy="123.25" r="1.45" fill="#d4d4d4" stroke="#d4d4d4" stroke-width="0.8"/>
<circle cx="598.38" cy="123.25" r="1.45" fill="#cbcbcb" stroke="#c3c3c3" stroke-width="0.8"/>
<circle cx="603.57" cy="123.25" r="1.45" fill="#d1d1d1" stroke="#cecece" stroke-width="0.8"/>
<circle cx="608.76" cy="123.25" r="1.45" fill="#d1d1d1" stroke="#cecece" stroke-width="0.8"/>
<circle cx="613.95" cy="123.25" r="1.45" fill="#d4d4d4" stroke="#d4d4d4" stroke-width="0.8"/>
<circle cx="411.54" cy="128.41" r="1.45" fill="#b9b9b9" stroke="#a3a3a3" stroke-width="0.8"/>
<circle cx="416.73" cy="128.41" r="1.45" fill="#b9b9b9" stroke="#a3a3a3" stroke-width="0.8"/>
<circle cx="421.92" cy="128.41" r="1.45" fill="#cbcbcb" stroke="#c3c3c3" stroke-width="0.8"/>
<circle cx="427.11" cy="128.41" r="1.45" fill="#cbcbcb" stroke="#c3c3c3" stroke-width="0.8"/>
<circle cx="432.30" cy="128.41" r="1.45" fill="#d4d4d4" stroke="#d4d4d4" stroke-width="0.8"/>
<circle cx="437.49" cy="128.41" r="1.45" fill="#d4d4d4" stroke="#d4d4d4" stroke-width="0.8"/>
<circle cx="442.68" cy="128.41" r="1.45" fill="#d4d4d4" stroke="#d4d4d4" stroke-width="0.8"/>
<circle cx="447.87" cy="128.41" r="1.45" fill="#d4d4d4" stroke="#d4d4d4" stroke-width="0.8"/>
<circle cx="453.06" cy="128.41" r="1.45" fill="#b9b9b9" stroke="#a3a3a3" stroke-width="0.8"/>
<circle cx="458.25" cy="128.41" r="1.45" fill="#cbcbcb" stroke="#c3c3c3" stroke-width="0.8"/>
<circle cx="463.44" cy="128.41" r="1.45" fill="#cbcbcb" stroke="#c3c3c3" stroke-width="0.8"/>
<circle cx="468.63" cy="128.41" r="1.45" fill="#d1d1d1" stroke="#cecece" stroke-width="0.8"/>
<circle cx="473.82" cy="128.41" r="1.45" fill="#a3a3a3" stroke="#7b7b7b" stroke-width="0.8"/>
<circle cx="479.01" cy="128.41" r="1.45" fill="#a3a3a3" stroke="#7b7b7b" stroke-width="0.8"/>
<circle cx="484.20" cy="128.41" r="1.45" fill="#b9b9b9" stroke="#a3a3a3" stroke-width="0.8"/>
<circle cx="489.39" cy="128.41" r="1.45" fill="#cbcbcb" stroke="#c3c3c3" stroke-width="0.8"/>
<circle cx="494.58" cy="128.41" r="1.45" fill="#b9b9b9" stroke="#a3a3a3" stroke-width="0.8"/>
<circle cx="499.77" cy="128.41" r="1.45" fill="#b9b9b9" stroke="#a3a3a3" stroke-width="0.8"/>
<circle cx="504.96" cy="128.41" r="1.45" fill="#cbcbcb" stroke="#c3c3c3" stroke-width="0.8"/>
<circle cx="510.15" cy="128.41" r="1.45" fill="#cbcbcb" stroke="#c3c3c3" stroke-width="0.8"/>
<circle cx="515.35" cy="128.41" r="1.45" fill="#c3c3c3" stroke="#b4b4b4" stroke-width="0.8"/>
<circle cx="520.53" cy="128.41" r="1.45" fill="#cbcbcb" stroke="#c3c3c3" stroke-width="0.8"/>
<circle cx="525.72" cy="128.41" r="1.45" fill="#d4d4d4" stroke="#d4d4d4" stroke-width="0.8"/>
<circle cx="530.91" cy="128.41" r="1.45" fill="#d4d4d4" stroke="#d4d4d4" stroke-width="0.8"/>
<circle cx="536.11" cy="128.41" r="1.45" fill="#c3c3c3" stroke="#b4b4b4" stroke-width="0.8"/>
<circle cx="541.29" cy="128.41" r="1.45" fill="#cbcbcb" stroke="#c3c3c3" stroke-width="0.8"/>
<circle cx="546.48" cy="128.41" r="1.45" fill="#d4d4d4" stroke="#d4d4d4" stroke-width="0.8"/>
<circle cx="551.67" cy="128.41" r="1.45" fill="#d4d4d4" stroke="#d4d4d4" stroke-width="0.8"/>
<circle cx="556.87" cy="128.41" r="1.45" fill="#c3c3c3" stroke="#b4b4b4" stroke-width="0.8"/>
<circle cx="562.05" cy="128.41" r="1.45" fill="#cbcbcb" stroke="#c3c3c3" stroke-width="0.8"/>
<circle cx="567.25" cy="128.41" r="1.45" fill="#d1d1d1" stroke="#cecece" stroke-width="0.8"/>
<circle cx="572.43" cy="128.41" r="1.45" fill="#d4d4d4" stroke="#d4d4d4" stroke-width="0.8"/>
<circle cx="577.62" cy="128.41" r="1.45" fill="#6a6a6a" stroke="#141414" stroke-width="0.8"/>
<circle cx="582.81" cy="128.41" r="1.45" fill="#6a6a6a" stroke="#141414" stroke-width="0.8"/>
<circle cx="588.00" cy="128.41" r="1.45" fill="#7a7a7a" stroke="#303030" stroke-width="0.8"/>
<circle cx="593.19" cy="128.41" r="1.45" fill="#888888" stroke="#4b4b4b" stroke-width="0.8"/>
<circle cx="598.38" cy="128.41" r="1.45" fill="#a3a3a3" stroke="#7b7b7b" stroke-width="0.8"/>
<circle cx="603.57" cy="128.41" r="1.45" fill="#afafaf" stroke="#909090" stroke-width="0.8"/>
<circle cx="608.76" cy="128.41" r="1.45" fill="#c3c3c3" stroke="#b4b4b4" stroke-width="0.8"/>
<circle cx="613.95" cy="128.41" r="1.45" fill="#cbcbcb" stroke="#c3c3c3" stroke-width="0.8"/>
<circle cx="411.54" cy="133.58" r="1.45" fill="#b9b9b9" stroke="#a3a3a3" stroke-width="0.8"/>
<circle cx="416.73" cy="133.58" r="1.45" fill="#b9b9b9" stroke="#a3a3a3" stroke-width="0.8"/>
<circle cx="421.92" cy="133.58" r="1.45" fill="#cbcbcb" stroke="#c3c3c3" stroke-width="0.8"/>
<circle cx="427.11" cy="133.58" r="1.45" fill="#cbcbcb" stroke="#c3c3c3" stroke-width="0.8"/>
<circle cx="432.30" cy="133.58" r="1.45" fill="#d4d4d4" stroke="#d4d4d4" stroke-width="0.8"/>
<circle cx="437.49" cy="133.58" r="1.45" fill="#d4d4d4" stroke="#d4d4d4" stroke-width="0.8"/>
<circle cx="442.68" cy="133.58" r="1.45" fill="#d4d4d4" stroke="#d4d4d4" stroke-width="0.8"/>
<circle cx="447.87" cy="133.58" r="1.45" fill="#d4d4d4" stroke="#d4d4d4" stroke-width="0.8"/>
<circle cx="453.06" cy="133.58" r="1.45" fill="#b9b9b9" stroke="#a3a3a3" stroke-width="0.8"/>
<circle cx="458.25" cy="133.58" r="1.45" fill="#cbcbcb" stroke="#c3c3c3" stroke-width="0.8"/>
<circle cx="463.44" cy="133.58" r="1.45" fill="#cbcbcb" stroke="#c3c3c3" stroke-width="0.8"/>
<circle cx="468.63" cy="133.58" r="1.45" fill="#d1d1d1" stroke="#cecece" stroke-width="0.8"/>
<circle cx="473.82" cy="133.58" r="1.45" fill="#a3a3a3" stroke="#7b7b7b" stroke-width="0.8"/>
<circle cx="479.01" cy="133.58" r="1.45" fill="#a3a3a3" stroke="#7b7b7b" stroke-width="0.8"/>
<circle cx="484.20" cy="133.58" r="1.45" fill="#b9b9b9" stroke="#a3a3a3" stroke-width="0.8"/>
<circle cx="489.39" cy="133.58" r="1.45" fill="#cbcbcb" stroke="#c3c3c3" stroke-width="0.8"/>
<circle cx="494.58" cy="133.58" r="1.45" fill="#b9b9b9" stroke="#a3a3a3" stroke-width="0.8"/>
<circle cx="499.77" cy="133.58" r="1.45" fill="#b9b9b9" stroke="#a3a3a3" stroke-width="0.8"/>
<circle cx="504.96" cy="133.58" r="1.45" fill="#cbcbcb" stroke="#c3c3c3" stroke-width="0.8"/>
<circle cx="510.15" cy="133.58" r="1.45" fill="#cbcbcb" stroke="#c3c3c3" stroke-width="0.8"/>
<circle cx="515.35" cy="133.58" r="1.45" fill="#c3c3c3" stroke="#b4b4b4" stroke-width="0.8"/>
<circle cx="520.53" cy="133.58" r="1.45" fill="#cbcbcb" stroke="#c3c3c3" stroke-width="0.8"/>
<circle cx="525.72" cy="133.58" r="1.45" fill="#d4d4d4" stroke="#d4d4d4" stroke-width="0.8"/>
<circle cx="530.91" cy="133.58" r="1.45" fill="#d4d4d4" stroke="#d4d4d4" stroke-width="0.8"/>
<circle cx="536.11" cy="133.58" r="1.45" fill="#c3c3c3" stroke="#b4b4b4" stroke-width="0.8"/>
<circle cx="541.29" cy="133.58" r="1.45" fill="#cbcbcb" stroke="#c3c3c3" stroke-width="0.8"/>
<circle cx="546.48" cy="133.58" r="1.45" fill="#d4d4d4" stroke="#d4d4d4" stroke-width="0.8"/>
<circle cx="551.67" cy="133.58" r="1.45" fill="#d4d4d4" stroke="#d4d4d4" stroke-width="0.8"/>
<circle cx="556.87" cy="133.58" r="1.45" fill="#c3c3c3" stroke="#b4b4b4" stroke-width="0.8"/>
<circle cx="562.05" cy="133.58" r="1.45" fill="#cbcbcb" stroke="#c3c3c3" stroke-width="0.8"/>
<circle cx="567.25" cy="133.58" r="1.45" fill="#d1d1d1" stroke="#cecece" stroke-width="0.8"/>
<circle cx="572.43" cy="133.58" r="1.45" fill="#d4d4d4" stroke="#d4d4d4" stroke-width="0.8"/>
<circle cx="577.62" cy="133.58" r="1.45" fill="#6a6a6a" stroke="#141414" stroke-width="0.8"/>
<circle cx="582.81" cy="133.58" r="1.45" fill="#6a6a6a" stroke="#141414" stroke-width="0.8"/>
<circle cx="588.00" cy="133.58" r="1.45" fill="#7a7a7a" stroke="#303030" stroke-width="0.8"/>
<circle cx="593.19" cy="133.58" r="1.45" fill="#888888" stroke="#4b4b4b" stroke-width="0.8"/>
<circle cx="598.38" cy="133.58" r="1.45" fill="#a3a3a3" stroke="#7b7b7b" stroke-width="0.8"/>
<circle cx="603.57" cy="133.58" r="1.45" fill="#afafaf" stroke="#909090" stroke-width="0.8"/>
<circle cx="608.76" cy="133.58" r="1.45" fill="#c3c3c3" stroke="#b4b4b4" stroke-width="0.8"/>
<circle cx="613.95" cy="133.58" r="1.45" fill="#cbcbcb" stroke="#c3c3c3" stroke-width="0.8"/>
<circle cx="411.54" cy="138.75" r="1.45" fill="#cbcbcb" stroke="#c3c3c3" stroke-width="0.8"/>
<circle cx="416.73" cy="138.75" r="1.45" fill="#cbcbcb" stroke="#c3c3c3" stroke-width="0.8"/>
<circle cx="421.92" cy="138.75" r="1.45" fill="#cbcbcb" stroke="#c3c3c3" stroke-width="0.8"/>
<circle cx="427.11" cy="138.75" r="1.45" fill="#d4d4d4" stroke="#d4d4d4" stroke-width="0.8"/>
<circle cx="432.30" cy="138.75" r="1.45" fill="#b9b9b9" stroke="#a3a3a3" stroke-width="0.8"/>
<circle cx="437.49" cy="138.75" r="1.45" fill="#cbcbcb" stroke="#c3c3c3" stroke-width="0.8"/>
<circle cx="442.68" cy="138.75" r="1.45" fill="#cbcbcb" stroke="#c3c3c3" stroke-width="0.8"/>
<circle cx="447.87" cy="138.75" r="1.45" fill="#d4d4d4" stroke="#d4d4d4" stroke-width="0.8"/>
<circle cx="453.06" cy="138.75" r="1.45" fill="#cbcbcb" stroke="#c3c3c3" stroke-width="0.8"/>
<circle cx="458.25" cy="138.75" r="1.45" fill="#cbcbcb" stroke="#c3c3c3" stroke-width="0.8"/>
<circle cx="463.44" cy="138.75" r="1.45" fill="#d1d1d1" stroke="#cecece" stroke-width="0.8"/>
<circle cx="468.63" cy="138.75" r="1.45" fill="#d4d4d4" stroke="#d4d4d4" stroke-width="0.8"/>
<circle cx="473.82" cy="138.75" r="1.45" fill="#b9b9b9" stroke="#a3a3a3" stroke-width="0.8"/>
<circle cx="479.01" cy="138.75" r="1.45" fill="#cbcbcb" stroke="#c3c3c3" stroke-width="0.8"/>
<circle cx="484.20" cy="138.75" r="1.45" fill="#cbcbcb" stroke="#c3c3c3" stroke-width="0.8"/>
<circle cx="489.39" cy="138.75" r="1.45" fill="#d4d4d4" stroke="#d4d4d4" stroke-width="0.8"/>
<circle cx="494.58" cy="138.75" r="1.45" fill="#b9b9b9" stroke="#a3a3a3" stroke-width="0.8"/>
<circle cx="499.77" cy="138.75" r="1.45" fill="#cbcbcb" stroke="#c3c3c3" stroke-width="0.8"/>
<circle cx="504.96" cy="138.75" r="1.45" fill="#cbcbcb" stroke="#c3c3c3" stroke-width="0.8"/>
<circle cx="510.15" cy="138.75" r="1.45" fill="#d4d4d4" stroke="#d4d4d4" stroke-width="0.8"/>
<circle cx="515.35" cy="138.75" r="1.45" fill="#b9b9b9" stroke="#a3a3a3" stroke-width="0.8"/>
<circle cx="520.53" cy="138.75" r="1.45" fill="#cbcbcb" stroke="#c3c3c3" stroke-width="0.8"/>
<circle cx="525.72" cy="138.75" r="1.45" fill="#cbcbcb" stroke="#c3c3c3" stroke-width="0.8"/>
<circle cx="530.91" cy="138.75" r="1.45" fill="#d4d4d4" stroke="#d4d4d4" stroke-width="0.8"/>
<circle cx="536.11" cy="138.75" r="1.45" fill="#afafaf" stroke="#909090" stroke-width="0.8"/>
<circle cx="541.29" cy="138.75" r="1.45" fill="#b9b9b9" stroke="#a3a3a3" stroke-width="0.8"/>
<circle cx="546.48" cy="138.75" r="1.45" fill="#cbcbcb" stroke="#c3c3c3" stroke-width="0.8"/>
<circle cx="551.67" cy="138.75" r="1.45" fill="#d4d4d4" stroke="#d4d4d4" stroke-width="0.8"/>
<circle cx="556.87" cy="138.75" r="1.45" fill="#b9b9b9" stroke="#a3a3a3" stroke-width="0.8"/>
<circle cx="562.05" cy="138.75" r="1.45" fill="#cbcbcb" stroke="#c3c3c3" stroke-width="0.8"/>
<circle cx="567.25" cy="138.75" r="1.45" fill="#d1d1d1" stroke="#cecece" stroke-width="0.8"/>
<circle cx="572.43" cy="138.75" r="1.45" fill="#d4d4d4" stroke="#d4d4d4" stroke-width="0.8"/>
<circle cx="577.62" cy="138.75" r="1.45" fill="#c3c3c3" stroke="#b4b4b4" stroke-width="0.8"/>
<circle cx="582.81" cy="138.75" r="1.45" fill="#cbcbcb" stroke="#c3c3c3" stroke-width="0.8"/>
<circle cx="588.00" cy="138.75" r="1.45" fill="#d1d1d1" stroke="#cecece" stroke-width="0.8"/>
<circle cx="593.19" cy="138.75" r="1.45" fill="#d4d4d4" stroke="#d4d4d4" stroke-width="0.8"/>
<circle cx="598.38" cy="138.75" r="1.45" fill="#b9b9b9" stroke="#a3a3a3" stroke-width="0.8"/>
<circle cx="603.57" cy="138.75" r="1.45" fill="#c3c3c3" stroke="#b4b4b4" stroke-width="0.8"/>
<circle cx="608.76" cy="138.75" r="1.45" fill="#cbcbcb" stroke="#c3c3c3" stroke-width="0.8"/>
<circle cx="613.95" cy="138.75" r="1.45" fill="#d1d1d1" stroke="#cecece" stroke-width="0.8"/>
<circle cx="411.54" cy="143.93" r="1.45" fill="#cbcbcb" stroke="#c3c3c3" stroke-width="0.8"/>
<circle cx="416.73" cy="143.93" r="1.45" fill="#cbcbcb" stroke="#c3c3c3" stroke-width="0.8"/>
<circle cx="421.92" cy="143.93" r="1.45" fill="#cbcbcb" stroke="#c3c3c3" stroke-width="0.8"/>
<circle cx="427.11" cy="143.93" r="1.45" fill="#d4d4d4" stroke="#d4d4d4" stroke-width="0.8"/>
<circle cx="432.30" cy="143.93" r="1.45" fill="#b9b9b9" stroke="#a3a3a3" stroke-width="0.8"/>
<circle cx="437.49" cy="143.93" r="1.45" fill="#cbcbcb" stroke="#c3c3c3" stroke-width="0.8"/>
<circle cx="442.68" cy="143.93" r="1.45" fill="#cbcbcb" stroke="#c3c3c3" stroke-width="0.8"/>
<circle cx="447.87" cy="143.93" r="1.45" fill="#d4d4d4" stroke="#d4d4d4" stroke-width="0.8"/>
<circle cx="453.06" cy="143.93" r="1.45" fill="#cbcbcb" stroke="#c3c3c3" stroke-width="0.8"/>
<circle cx="458.25" cy="143.93" r="1.45" fill="#cbcbcb" stroke="#c3c3c3" stroke-width="0.8"/>
<circle cx="463.44" cy="143.93" r="1.45" fill="#d1d1d1" stroke="#cecece" stroke-width="0.8"/>
<circle cx="468.63" cy="143.93" r="1.45" fill="#d4d4d4" stroke="#d4d4d4" stroke-width="0.8"/>
<circle cx="473.82" cy="143.93" r="1.45" fill="#b9b9b9" stroke="#a3a3a3" stroke-width="0.8"/>
<circle cx="479.01" cy="143.93" r="1.45" fill="#cbcbcb" stroke="#c3c3c3" stroke-width="0.8"/>
<circle cx="484.20" cy="143.93" r="1.45" fill="#cbcbcb" stroke="#c3c3c3" stroke-width="0.8"/>
<circle cx="489.39" cy="143.93" r="1.45" fill="#d4d4d4" stroke="#d4d4d4" stroke-width="0.8"/>
<circle cx="494.58" cy="143.93" r="1.45" fill="#b9b9b9" stroke="#a3a3a3" stroke-width="0.8"/>
<circle cx="499.77" cy="143.93" r="1.45" fill="#cbcbcb" stroke="#c3c3c3" stroke-width="0.8"/>
<circle cx="504.96" cy="143.93" r="1.45" fill="#cbcbcb" stroke="#c3c3c3" stroke-width="0.8"/>
<circle cx="510.15" cy="143.93" r="1.45" fill="#d4d4d4" stroke="#d4d4d4" stroke-width="0.8"/>
<circle cx="515.35" cy="143.93" r="1.45" fill="#b9b9b9" stroke="#a3a3a3" stroke-width="0.8"/>
<circle cx="520.53" cy="143.93" r="1.45" fill="#cbcbcb" stroke="#c3c3c3" stroke-width="0.8"/>
<circle cx="525.72" cy="143.93" r="1.45" fill="#cbcbcb" stroke="#c3c3c3" stroke-width="0.8"/>
<circle cx="530.91" cy="143.93" r="1.45" fill="#d4d4d4" stroke="#d4d4d4" stroke-width="0.8"/>
<circle cx="536.11" cy="143.93" r="1.45" fill="#afafaf" stroke="#909090" stroke-width="0.8"/>
<circle cx="541.29" cy="143.93" r="1.45" fill="#b9b9b9" stroke="#a3a3a3" stroke-width="0.8"/>
<circle cx="546.48" cy="143.93" r="1.45" fill="#cbcbcb" stroke="#c3c3c3" stroke-width="0.8"/>
<circle cx="551.67" cy="143.93" r="1.45" fill="#d4d4d4" stroke="#d4d4d4" stroke-width="0.8"/>
<circle cx="556.87" cy="143.93" r="1.45" fill="#b9b9b9" stroke="#a3a3a3" stroke-width="0.8"/>
<circle cx="562.05" cy="143.93" r="1.45" fill="#cbcbcb" stroke="#c3c3c3" stroke-width="0.8"/>
<circle cx="567.25" cy="143.93" r="1.45" fill="#d1d1d1" stroke="#cecece" stroke-width="0.8"/>
<circle cx="572.43" cy="143.93" r="1.45" fill="#d4d4d4" stroke="#d4d4d4" stroke-width="0.8"/>
<circle cx="577.62" cy="143.93" r="1.45" fill="#c3c3c3" stroke="#b4b4b4" stroke-width="0.8"/>
<circle cx="582.81" cy="143.93" r="1.45" fill="#cbcbcb" stroke="#c3c3c3" stroke-width="0.8"/>
<circle cx="588.00" cy="143.93" r="1.45" fill="#d1d1d1" stroke="#cecece" stroke-width="0.8"/>
<circle cx="593.19" cy="143.93" r="1.45" fill="#d4d4d4" stroke="#d4d4d4" stroke-width="0.8"/>
<circle cx="598.38" cy="143.93" r="1.45" fill="#b9b9b9" stroke="#a3a3a3" stroke-width="0.8"/>
<circle cx="603.57" cy="143.93" r="1.45" fill="#c3c3c3" stroke="#b4b4b4" stroke-width="0.8"/>
<circle cx="608.76" cy="143.93" r="1.45" fill="#cbcbcb" stroke="#c3c3c3" stroke-width="0.8"/>
<circle cx="613.95" cy="143.93" r="1.45" fill="#d1d1d1" stroke="#cecece" stroke-width="0.8"/>
<g stroke="#1d2a30" stroke-width="1.3"><path d="M415.1,76.6 L411.4,87"/><path d="M420.3,76.6 L416.6,87"/><path d="M425.3,76.6 L421.6,87"/><path d="M430.3,76.6 L426.6,87"/><path d="M414.4,59.5 L411.3,66"/><path d="M414.4,66 L411.3,72"/><path d="M414.4,72 L411.3,78"/></g>
<rect x="414.4" y="54" width="18.8" height="22.3" fill="#2f6f8e" stroke="#1d3440" stroke-width="0.7"/>
<text x="423.80" y="62.60" font-size="5.9" fill="#eef4f7" text-anchor="middle" font-weight="normal" >pin</text>
<text x="423.80" y="70.40" font-size="5.9" fill="#eef4f7" text-anchor="middle" font-weight="normal" >head</text>
<circle cx="416.8" cy="107.2" r="7" fill="none" stroke="#2f5868" stroke-width="0.7"/>
<path d="M370,93.2 L419,100.3 M385,133.5 L416,113.7" stroke="#333" stroke-width="0.6"/>
<circle cx="367.9" cy="117.2" r="24.2" fill="#ffffff" stroke="#2f5868" stroke-width="0.8"/>
<clipPath id="gc"><circle cx="367.9" cy="117.2" r="23.8"/></clipPath><g clip-path="url(#gc)">
<circle cx="351.2" cy="101.5" r="5.3" fill="#b4b4b4"/><circle cx="351.2" cy="101.5" r="5.3" fill="url(#sph)"/>
<circle cx="368.3" cy="101.5" r="5.3" fill="#e8e8e8"/><circle cx="368.3" cy="101.5" r="5.3" fill="url(#sph)"/>
<circle cx="385.4" cy="101.5" r="5.3" fill="#e4e4e4"/><circle cx="385.4" cy="101.5" r="5.3" fill="url(#sph)"/>
<circle cx="351.2" cy="116.8" r="5.3" fill="#3a3a3a"/><circle cx="351.2" cy="116.8" r="5.3" fill="url(#sph)"/>
<circle cx="368.3" cy="116.8" r="5.3" fill="#8c8c8c"/><circle cx="368.3" cy="116.8" r="5.3" fill="url(#sph)"/>
<circle cx="385.4" cy="116.8" r="5.3" fill="#c4c4c4"/><circle cx="385.4" cy="116.8" r="5.3" fill="url(#sph)"/>
<circle cx="351.2" cy="132.1" r="5.3" fill="#404040"/><circle cx="351.2" cy="132.1" r="5.3" fill="url(#sph)"/>
<circle cx="368.3" cy="132.1" r="5.3" fill="#8c8c8c"/><circle cx="368.3" cy="132.1" r="5.3" fill="url(#sph)"/>
<circle cx="385.4" cy="132.1" r="5.3" fill="#bcbcbc"/><circle cx="385.4" cy="132.1" r="5.3" fill="url(#sph)"/>
</g>
<path d="M288.80,103.40 C291.27,103.55 299.07,103.63 303.60,104.30 C308.13,104.97 312.68,106.27 316.00,107.40 C319.32,108.53 321.83,109.75 323.50,111.10 C325.17,112.45 324.97,114.05 326.00,115.50 C327.03,116.95 327.85,118.42 329.70,119.80 C331.55,121.18 334.22,122.97 337.10,123.80 C339.98,124.63 343.43,125.00 347.00,124.80 C350.57,124.60 356.58,122.97 358.50,122.60" fill="none" stroke="#346d8d" stroke-width="2.3"/>
<path d="M364.6,121.2 L356.9,119.2 L359.3,127.0 Z" fill="#346d8d"/>
<rect x="407.7" y="214.2" width="170.5" height="70.1" fill="url(#greenbg)"/>
<circle cx="410.66" cy="217.75" r="1.45" fill="#45972e"/>
<circle cx="414.88" cy="217.75" r="1.45" fill="#45972e"/>
<circle cx="419.10" cy="217.75" r="1.45" fill="#367525"/>
<circle cx="423.32" cy="217.75" r="1.45" fill="#367525"/>
<circle cx="427.54" cy="217.75" r="1.45" fill="#2d6020"/>
<circle cx="431.76" cy="217.75" r="1.45" fill="#2a581e"/>
<circle cx="435.98" cy="217.75" r="1.45" fill="#2a581e"/>
<circle cx="440.20" cy="217.75" r="1.45" fill="#2a581e"/>
<circle cx="444.42" cy="217.75" r="1.45" fill="#45972e"/>
<circle cx="448.64" cy="217.75" r="1.45" fill="#367525"/>
<circle cx="452.86" cy="217.75" r="1.45" fill="#316922"/>
<circle cx="457.08" cy="217.75" r="1.45" fill="#2d6020"/>
<circle cx="461.30" cy="217.75" r="1.45" fill="#58c539"/>
<circle cx="465.52" cy="217.75" r="1.45" fill="#45972e"/>
<circle cx="469.74" cy="217.75" r="1.45" fill="#367525"/>
<circle cx="473.96" cy="217.75" r="1.45" fill="#2d6020"/>
<circle cx="478.18" cy="217.75" r="1.45" fill="#367525"/>
<circle cx="482.40" cy="217.75" r="1.45" fill="#2d6020"/>
<circle cx="486.62" cy="217.75" r="1.45" fill="#2d6020"/>
<circle cx="490.84" cy="217.75" r="1.45" fill="#2d6020"/>
<circle cx="495.06" cy="217.75" r="1.45" fill="#45972e"/>
<circle cx="499.28" cy="217.75" r="1.45" fill="#3d8529"/>
<circle cx="503.50" cy="217.75" r="1.45" fill="#367525"/>
<circle cx="507.72" cy="217.75" r="1.45" fill="#2d6020"/>
<circle cx="511.94" cy="217.75" r="1.45" fill="#45972e"/>
<circle cx="516.16" cy="217.75" r="1.45" fill="#45972e"/>
<circle cx="520.38" cy="217.75" r="1.45" fill="#367525"/>
<circle cx="524.60" cy="217.75" r="1.45" fill="#2d6020"/>
<circle cx="528.82" cy="217.75" r="1.45" fill="#45972e"/>
<circle cx="533.04" cy="217.75" r="1.45" fill="#367525"/>
<circle cx="537.26" cy="217.75" r="1.45" fill="#316922"/>
<circle cx="541.48" cy="217.75" r="1.45" fill="#2d6020"/>
<circle cx="545.70" cy="217.75" r="1.45" fill="#63e140"/>
<circle cx="549.92" cy="217.75" r="1.45" fill="#4ead33"/>
<circle cx="554.14" cy="217.75" r="1.45" fill="#3d8529"/>
<circle cx="558.36" cy="217.75" r="1.45" fill="#367525"/>
<circle cx="562.58" cy="217.75" r="1.45" fill="#2d6020"/>
<circle cx="566.80" cy="217.75" r="1.45" fill="#2b5a1f"/>
<circle cx="571.02" cy="217.75" r="1.45" fill="#2a581e"/>
<circle cx="575.24" cy="217.75" r="1.45" fill="#2a581e"/>
<circle cx="410.66" cy="221.95" r="1.45" fill="#45972e"/>
<circle cx="414.88" cy="221.95" r="1.45" fill="#45972e"/>
<circle cx="419.10" cy="221.95" r="1.45" fill="#367525"/>
<circle cx="423.32" cy="221.95" r="1.45" fill="#367525"/>
<circle cx="427.54" cy="221.95" r="1.45" fill="#2d6020"/>
<circle cx="431.76" cy="221.95" r="1.45" fill="#2a581e"/>
<circle cx="435.98" cy="221.95" r="1.45" fill="#2a581e"/>
<circle cx="440.20" cy="221.95" r="1.45" fill="#2a581e"/>
<circle cx="444.42" cy="221.95" r="1.45" fill="#45972e"/>
<circle cx="448.64" cy="221.95" r="1.45" fill="#367525"/>
<circle cx="452.86" cy="221.95" r="1.45" fill="#316922"/>
<circle cx="457.08" cy="221.95" r="1.45" fill="#2d6020"/>
<circle cx="461.30" cy="221.95" r="1.45" fill="#58c539"/>
<circle cx="465.52" cy="221.95" r="1.45" fill="#45972e"/>
<circle cx="469.74" cy="221.95" r="1.45" fill="#367525"/>
<circle cx="473.96" cy="221.95" r="1.45" fill="#2d6020"/>
<circle cx="478.18" cy="221.95" r="1.45" fill="#367525"/>
<circle cx="482.40" cy="221.95" r="1.45" fill="#2d6020"/>
<circle cx="486.62" cy="221.95" r="1.45" fill="#2d6020"/>
<circle cx="490.84" cy="221.95" r="1.45" fill="#2d6020"/>
<circle cx="495.06" cy="221.95" r="1.45" fill="#45972e"/>
<circle cx="499.28" cy="221.95" r="1.45" fill="#3d8529"/>
<circle cx="503.50" cy="221.95" r="1.45" fill="#367525"/>
<circle cx="507.72" cy="221.95" r="1.45" fill="#2d6020"/>
<circle cx="511.94" cy="221.95" r="1.45" fill="#45972e"/>
<circle cx="516.16" cy="221.95" r="1.45" fill="#45972e"/>
<circle cx="520.38" cy="221.95" r="1.45" fill="#367525"/>
<circle cx="524.60" cy="221.95" r="1.45" fill="#2d6020"/>
<circle cx="528.82" cy="221.95" r="1.45" fill="#45972e"/>
<circle cx="533.04" cy="221.95" r="1.45" fill="#367525"/>
<circle cx="537.26" cy="221.95" r="1.45" fill="#316922"/>
<circle cx="541.48" cy="221.95" r="1.45" fill="#2d6020"/>
<circle cx="545.70" cy="221.95" r="1.45" fill="#63e140"/>
<circle cx="549.92" cy="221.95" r="1.45" fill="#4ead33"/>
<circle cx="554.14" cy="221.95" r="1.45" fill="#3d8529"/>
<circle cx="558.36" cy="221.95" r="1.45" fill="#367525"/>
<circle cx="562.58" cy="221.95" r="1.45" fill="#2d6020"/>
<circle cx="566.80" cy="221.95" r="1.45" fill="#2b5a1f"/>
<circle cx="571.02" cy="221.95" r="1.45" fill="#2a581e"/>
<circle cx="575.24" cy="221.95" r="1.45" fill="#2a581e"/>
<circle cx="410.66" cy="226.15" r="1.45" fill="#367525"/>
<circle cx="414.88" cy="226.15" r="1.45" fill="#367525"/>
<circle cx="419.10" cy="226.15" r="1.45" fill="#316922"/>
<circle cx="423.32" cy="226.15" r="1.45" fill="#2d6020"/>
<circle cx="427.54" cy="226.15" r="1.45" fill="#367525"/>
<circle cx="431.76" cy="226.15" r="1.45" fill="#367525"/>
<circle cx="435.98" cy="226.15" r="1.45" fill="#2d6020"/>
<circle cx="440.20" cy="226.15" r="1.45" fill="#2d6020"/>
<circle cx="444.42" cy="226.15" r="1.45" fill="#2d6020"/>
<circle cx="448.64" cy="226.15" r="1.45" fill="#2d6020"/>
<circle cx="452.86" cy="226.15" r="1.45" fill="#2d6020"/>
<circle cx="457.08" cy="226.15" r="1.45" fill="#2b5a1f"/>
<circle cx="461.30" cy="226.15" r="1.45" fill="#45972e"/>
<circle cx="465.52" cy="226.15" r="1.45" fill="#367525"/>
<circle cx="469.74" cy="226.15" r="1.45" fill="#367525"/>
<circle cx="473.96" cy="226.15" r="1.45" fill="#2d6020"/>
<circle cx="478.18" cy="226.15" r="1.45" fill="#45972e"/>
<circle cx="482.40" cy="226.15" r="1.45" fill="#45972e"/>
<circle cx="486.62" cy="226.15" r="1.45" fill="#367525"/>
<circle cx="490.84" cy="226.15" r="1.45" fill="#2d6020"/>
<circle cx="495.06" cy="226.15" r="1.45" fill="#45972e"/>
<circle cx="499.28" cy="226.15" r="1.45" fill="#3d8529"/>
<circle cx="503.50" cy="226.15" r="1.45" fill="#367525"/>
<circle cx="507.72" cy="226.15" r="1.45" fill="#2d6020"/>
<circle cx="511.94" cy="226.15" r="1.45" fill="#58c539"/>
<circle cx="516.16" cy="226.15" r="1.45" fill="#4ead33"/>
<circle cx="520.38" cy="226.15" r="1.45" fill="#3d8529"/>
<circle cx="524.60" cy="226.15" r="1.45" fill="#316922"/>
<circle cx="528.82" cy="226.15" r="1.45" fill="#63e140"/>
<circle cx="533.04" cy="226.15" r="1.45" fill="#58c539"/>
<circle cx="537.26" cy="226.15" r="1.45" fill="#45972e"/>
<circle cx="541.48" cy="226.15" r="1.45" fill="#367525"/>
<circle cx="545.70" cy="226.15" r="1.45" fill="#4ead33"/>
<circle cx="549.92" cy="226.15" r="1.45" fill="#45972e"/>
<circle cx="554.14" cy="226.15" r="1.45" fill="#367525"/>
<circle cx="558.36" cy="226.15" r="1.45" fill="#316922"/>
<circle cx="562.58" cy="226.15" r="1.45" fill="#45972e"/>
<circle cx="566.80" cy="226.15" r="1.45" fill="#367525"/>
<circle cx="571.02" cy="226.15" r="1.45" fill="#316922"/>
<circle cx="575.24" cy="226.15" r="1.45" fill="#2d6020"/>
<circle cx="410.66" cy="230.35" r="1.45" fill="#367525"/>
<circle cx="414.88" cy="230.35" r="1.45" fill="#367525"/>
<circle cx="419.10" cy="230.35" r="1.45" fill="#316922"/>
<circle cx="423.32" cy="230.35" r="1.45" fill="#2d6020"/>
<circle cx="427.54" cy="230.35" r="1.45" fill="#367525"/>
<circle cx="431.76" cy="230.35" r="1.45" fill="#367525"/>
<circle cx="435.98" cy="230.35" r="1.45" fill="#2d6020"/>
<circle cx="440.20" cy="230.35" r="1.45" fill="#2d6020"/>
<circle cx="444.42" cy="230.35" r="1.45" fill="#2d6020"/>
<circle cx="448.64" cy="230.35" r="1.45" fill="#2d6020"/>
<circle cx="452.86" cy="230.35" r="1.45" fill="#2d6020"/>
<circle cx="457.08" cy="230.35" r="1.45" fill="#2b5a1f"/>
<circle cx="461.30" cy="230.35" r="1.45" fill="#45972e"/>
<circle cx="465.52" cy="230.35" r="1.45" fill="#367525"/>
<circle cx="469.74" cy="230.35" r="1.45" fill="#367525"/>
<circle cx="473.96" cy="230.35" r="1.45" fill="#2d6020"/>
<circle cx="478.18" cy="230.35" r="1.45" fill="#45972e"/>
<circle cx="482.40" cy="230.35" r="1.45" fill="#45972e"/>
<circle cx="486.62" cy="230.35" r="1.45" fill="#367525"/>
<circle cx="490.84" cy="230.35" r="1.45" fill="#2d6020"/>
<circle cx="495.06" cy="230.35" r="1.45" fill="#45972e"/>
<circle cx="499.28" cy="230.35" r="1.45" fill="#3d8529"/>
<circle cx="503.50" cy="230.35" r="1.45" fill="#367525"/>
<circle cx="507.72" cy="230.35" r="1.45" fill="#2d6020"/>
<circle cx="511.94" cy="230.35" r="1.45" fill="#58c539"/>
<circle cx="516.16" cy="230.35" r="1.45" fill="#4ead33"/>
<circle cx="520.38" cy="230.35" r="1.45" fill="#3d8529"/>
<circle cx="524.60" cy="230.35" r="1.45" fill="#316922"/>
<circle cx="528.82" cy="230.35" r="1.45" fill="#63e140"/>
<circle cx="533.04" cy="230.35" r="1.45" fill="#58c539"/>
<circle cx="537.26" cy="230.35" r="1.45" fill="#45972e"/>
<circle cx="541.48" cy="230.35" r="1.45" fill="#367525"/>
<circle cx="545.70" cy="230.35" r="1.45" fill="#4ead33"/>
<circle cx="549.92" cy="230.35" r="1.45" fill="#45972e"/>
<circle cx="554.14" cy="230.35" r="1.45" fill="#367525"/>
<circle cx="558.36" cy="230.35" r="1.45" fill="#316922"/>
<circle cx="562.58" cy="230.35" r="1.45" fill="#45972e"/>
<circle cx="566.80" cy="230.35" r="1.45" fill="#367525"/>
<circle cx="571.02" cy="230.35" r="1.45" fill="#316922"/>
<circle cx="575.24" cy="230.35" r="1.45" fill="#2d6020"/>
<circle cx="410.66" cy="234.55" r="1.45" fill="#367525"/>
<circle cx="414.88" cy="234.55" r="1.45" fill="#316922"/>
<circle cx="419.10" cy="234.55" r="1.45" fill="#2d6020"/>
<circle cx="423.32" cy="234.55" r="1.45" fill="#2d6020"/>
<circle cx="427.54" cy="234.55" r="1.45" fill="#45972e"/>
<circle cx="431.76" cy="234.55" r="1.45" fill="#367525"/>
<circle cx="435.98" cy="234.55" r="1.45" fill="#2d6020"/>
<circle cx="440.20" cy="234.55" r="1.45" fill="#2d6020"/>
<circle cx="444.42" cy="234.55" r="1.45" fill="#367525"/>
<circle cx="448.64" cy="234.55" r="1.45" fill="#367525"/>
<circle cx="452.86" cy="234.55" r="1.45" fill="#2d6020"/>
<circle cx="457.08" cy="234.55" r="1.45" fill="#2b5a1f"/>
<circle cx="461.30" cy="234.55" r="1.45" fill="#367525"/>
<circle cx="465.52" cy="234.55" r="1.45" fill="#2d6020"/>
<circle cx="469.74" cy="234.55" r="1.45" fill="#2d6020"/>
<circle cx="473.96" cy="234.55" r="1.45" fill="#2a581e"/>
<circle cx="478.18" cy="234.55" r="1.45" fill="#367525"/>
<circle cx="482.40" cy="234.55" r="1.45" fill="#2d6020"/>
<circle cx="486.62" cy="234.55" r="1.45" fill="#2d6020"/>
<circle cx="490.84" cy="234.55" r="1.45" fill="#2a581e"/>
<circle cx="495.06" cy="234.55" r="1.45" fill="#367525"/>
<circle cx="499.28" cy="234.55" r="1.45" fill="#2d6020"/>
<circle cx="503.50" cy="234.55" r="1.45" fill="#2d6020"/>
<circle cx="507.72" cy="234.55" r="1.45" fill="#2a581e"/>
<circle cx="511.94" cy="234.55" r="1.45" fill="#367525"/>
<circle cx="516.16" cy="234.55" r="1.45" fill="#2d6020"/>
<circle cx="520.38" cy="234.55" r="1.45" fill="#2d6020"/>
<circle cx="524.60" cy="234.55" r="1.45" fill="#2a581e"/>
<circle cx="528.82" cy="234.55" r="1.45" fill="#367525"/>
<circle cx="533.04" cy="234.55" r="1.45" fill="#2d6020"/>
<circle cx="537.26" cy="234.55" r="1.45" fill="#2d6020"/>
<circle cx="541.48" cy="234.55" r="1.45" fill="#2b5a1f"/>
<circle cx="545.70" cy="234.55" r="1.45" fill="#367525"/>
<circle cx="549.92" cy="234.55" r="1.45" fill="#2d6020"/>
<circle cx="554.14" cy="234.55" r="1.45" fill="#2b5a1f"/>
<circle cx="558.36" cy="234.55" r="1.45" fill="#2a581e"/>
<circle cx="562.58" cy="234.55" r="1.45" fill="#3d8529"/>
<circle cx="566.80" cy="234.55" r="1.45" fill="#316922"/>
<circle cx="571.02" cy="234.55" r="1.45" fill="#2d6020"/>
<circle cx="575.24" cy="234.55" r="1.45" fill="#2b5a1f"/>
<circle cx="410.66" cy="238.75" r="1.45" fill="#367525"/>
<circle cx="414.88" cy="238.75" r="1.45" fill="#316922"/>
<circle cx="419.10" cy="238.75" r="1.45" fill="#2d6020"/>
<circle cx="423.32" cy="238.75" r="1.45" fill="#2d6020"/>
<circle cx="427.54" cy="238.75" r="1.45" fill="#45972e"/>
<circle cx="431.76" cy="238.75" r="1.45" fill="#367525"/>
<circle cx="435.98" cy="238.75" r="1.45" fill="#2d6020"/>
<circle cx="440.20" cy="238.75" r="1.45" fill="#2d6020"/>
<circle cx="444.42" cy="238.75" r="1.45" fill="#367525"/>
<circle cx="448.64" cy="238.75" r="1.45" fill="#367525"/>
<circle cx="452.86" cy="238.75" r="1.45" fill="#2d6020"/>
<circle cx="457.08" cy="238.75" r="1.45" fill="#2b5a1f"/>
<circle cx="461.30" cy="238.75" r="1.45" fill="#367525"/>
<circle cx="465.52" cy="238.75" r="1.45" fill="#2d6020"/>
<circle cx="469.74" cy="238.75" r="1.45" fill="#2d6020"/>
<circle cx="473.96" cy="238.75" r="1.45" fill="#2a581e"/>
<circle cx="478.18" cy="238.75" r="1.45" fill="#367525"/>
<circle cx="482.40" cy="238.75" r="1.45" fill="#2d6020"/>
<circle cx="486.62" cy="238.75" r="1.45" fill="#2d6020"/>
<circle cx="490.84" cy="238.75" r="1.45" fill="#2a581e"/>
<circle cx="495.06" cy="238.75" r="1.45" fill="#367525"/>
<circle cx="499.28" cy="238.75" r="1.45" fill="#2d6020"/>
<circle cx="503.50" cy="238.75" r="1.45" fill="#2d6020"/>
<circle cx="507.72" cy="238.75" r="1.45" fill="#2a581e"/>
<circle cx="511.94" cy="238.75" r="1.45" fill="#367525"/>
<circle cx="516.16" cy="238.75" r="1.45" fill="#2d6020"/>
<circle cx="520.38" cy="238.75" r="1.45" fill="#2d6020"/>
<circle cx="524.60" cy="238.75" r="1.45" fill="#2a581e"/>
<circle cx="528.82" cy="238.75" r="1.45" fill="#367525"/>
<circle cx="533.04" cy="238.75" r="1.45" fill="#2d6020"/>
<circle cx="537.26" cy="238.75" r="1.45" fill="#2d6020"/>
<circle cx="541.48" cy="238.75" r="1.45" fill="#2b5a1f"/>
<circle cx="545.70" cy="238.75" r="1.45" fill="#367525"/>
<circle cx="549.92" cy="238.75" r="1.45" fill="#2d6020"/>
<circle cx="554.14" cy="238.75" r="1.45" fill="#2b5a1f"/>
<circle cx="558.36" cy="238.75" r="1.45" fill="#2a581e"/>
<circle cx="562.58" cy="238.75" r="1.45" fill="#3d8529"/>
<circle cx="566.80" cy="238.75" r="1.45" fill="#316922"/>
<circle cx="571.02" cy="238.75" r="1.45" fill="#2d6020"/>
<circle cx="575.24" cy="238.75" r="1.45" fill="#2b5a1f"/>
<circle cx="410.66" cy="242.95" r="1.45" fill="#2d6020"/>
<circle cx="414.88" cy="242.95" r="1.45" fill="#2d6020"/>
<circle cx="419.10" cy="242.95" r="1.45" fill="#2a581e"/>
<circle cx="423.32" cy="242.95" r="1.45" fill="#2a581e"/>
<circle cx="427.54" cy="242.95" r="1.45" fill="#367525"/>
<circle cx="431.76" cy="242.95" r="1.45" fill="#2d6020"/>
<circle cx="435.98" cy="242.95" r="1.45" fill="#2d6020"/>
<circle cx="440.20" cy="242.95" r="1.45" fill="#2d6020"/>
<circle cx="444.42" cy="242.95" r="1.45" fill="#45972e"/>
<circle cx="448.64" cy="242.95" r="1.45" fill="#367525"/>
<circle cx="452.86" cy="242.95" r="1.45" fill="#316922"/>
<circle cx="457.08" cy="242.95" r="1.45" fill="#2d6020"/>
<circle cx="461.30" cy="242.95" r="1.45" fill="#367525"/>
<circle cx="465.52" cy="242.95" r="1.45" fill="#2d6020"/>
<circle cx="469.74" cy="242.95" r="1.45" fill="#2d6020"/>
<circle cx="473.96" cy="242.95" r="1.45" fill="#2a581e"/>
<circle cx="478.18" cy="242.95" r="1.45" fill="#45972e"/>
<circle cx="482.40" cy="242.95" r="1.45" fill="#367525"/>
<circle cx="486.62" cy="242.95" r="1.45" fill="#367525"/>
<circle cx="490.84" cy="242.95" r="1.45" fill="#2d6020"/>
<circle cx="495.06" cy="242.95" r="1.45" fill="#3d8529"/>
<circle cx="499.28" cy="242.95" r="1.45" fill="#367525"/>
<circle cx="503.50" cy="242.95" r="1.45" fill="#2d6020"/>
<circle cx="507.72" cy="242.95" r="1.45" fill="#2a581e"/>
<circle cx="511.94" cy="242.95" r="1.45" fill="#367525"/>
<circle cx="516.16" cy="242.95" r="1.45" fill="#2d6020"/>
<circle cx="520.38" cy="242.95" r="1.45" fill="#2d6020"/>
<circle cx="524.60" cy="242.95" r="1.45" fill="#2a581e"/>
<circle cx="528.82" cy="242.95" r="1.45" fill="#45972e"/>
<circle cx="533.04" cy="242.95" r="1.45" fill="#367525"/>
<circle cx="537.26" cy="242.95" r="1.45" fill="#316922"/>
<circle cx="541.48" cy="242.95" r="1.45" fill="#2d6020"/>
<circle cx="545.70" cy="242.95" r="1.45" fill="#3d8529"/>
<circle cx="549.92" cy="242.95" r="1.45" fill="#367525"/>
<circle cx="554.14" cy="242.95" r="1.45" fill="#2d6020"/>
<circle cx="558.36" cy="242.95" r="1.45" fill="#2b5a1f"/>
<circle cx="562.58" cy="242.95" r="1.45" fill="#367525"/>
<circle cx="566.80" cy="242.95" r="1.45" fill="#2d6020"/>
<circle cx="571.02" cy="242.95" r="1.45" fill="#2b5a1f"/>
<circle cx="575.24" cy="242.95" r="1.45" fill="#2a581e"/>
<circle cx="410.66" cy="247.15" r="1.45" fill="#2d6020"/>
<circle cx="414.88" cy="247.15" r="1.45" fill="#2d6020"/>
<circle cx="419.10" cy="247.15" r="1.45" fill="#2a581e"/>
<circle cx="423.32" cy="247.15" r="1.45" fill="#2a581e"/>
<circle cx="427.54" cy="247.15" r="1.45" fill="#367525"/>
<circle cx="431.76" cy="247.15" r="1.45" fill="#2d6020"/>
<circle cx="435.98" cy="247.15" r="1.45" fill="#2d6020"/>
<circle cx="440.20" cy="247.15" r="1.45" fill="#2d6020"/>
<circle cx="444.42" cy="247.15" r="1.45" fill="#45972e"/>
<circle cx="448.64" cy="247.15" r="1.45" fill="#367525"/>
<circle cx="452.86" cy="247.15" r="1.45" fill="#316922"/>
<circle cx="457.08" cy="247.15" r="1.45" fill="#2d6020"/>
<circle cx="461.30" cy="247.15" r="1.45" fill="#367525"/>
<circle cx="465.52" cy="247.15" r="1.45" fill="#2d6020"/>
<circle cx="469.74" cy="247.15" r="1.45" fill="#2d6020"/>
<circle cx="473.96" cy="247.15" r="1.45" fill="#2a581e"/>
<circle cx="478.18" cy="247.15" r="1.45" fill="#45972e"/>
<circle cx="482.40" cy="247.15" r="1.45" fill="#367525"/>
<circle cx="486.62" cy="247.15" r="1.45" fill="#367525"/>
<circle cx="490.84" cy="247.15" r="1.45" fill="#2d6020"/>
<circle cx="495.06" cy="247.15" r="1.45" fill="#3d8529"/>
<circle cx="499.28" cy="247.15" r="1.45" fill="#367525"/>
<circle cx="503.50" cy="247.15" r="1.45" fill="#2d6020"/>
<circle cx="507.72" cy="247.15" r="1.45" fill="#2a581e"/>
<circle cx="511.94" cy="247.15" r="1.45" fill="#367525"/>
<circle cx="516.16" cy="247.15" r="1.45" fill="#2d6020"/>
<circle cx="520.38" cy="247.15" r="1.45" fill="#2d6020"/>
<circle cx="524.60" cy="247.15" r="1.45" fill="#2a581e"/>
<circle cx="528.82" cy="247.15" r="1.45" fill="#45972e"/>
<circle cx="533.04" cy="247.15" r="1.45" fill="#367525"/>
<circle cx="537.26" cy="247.15" r="1.45" fill="#316922"/>
<circle cx="541.48" cy="247.15" r="1.45" fill="#2d6020"/>
<circle cx="545.70" cy="247.15" r="1.45" fill="#3d8529"/>
<circle cx="549.92" cy="247.15" r="1.45" fill="#367525"/>
<circle cx="554.14" cy="247.15" r="1.45" fill="#2d6020"/>
<circle cx="558.36" cy="247.15" r="1.45" fill="#2b5a1f"/>
<circle cx="562.58" cy="247.15" r="1.45" fill="#367525"/>
<circle cx="566.80" cy="247.15" r="1.45" fill="#2d6020"/>
<circle cx="571.02" cy="247.15" r="1.45" fill="#2b5a1f"/>
<circle cx="575.24" cy="247.15" r="1.45" fill="#2a581e"/>
<circle cx="410.66" cy="251.35" r="1.45" fill="#58c539"/>
<circle cx="414.88" cy="251.35" r="1.45" fill="#45972e"/>
<circle cx="419.10" cy="251.35" r="1.45" fill="#367525"/>
<circle cx="423.32" cy="251.35" r="1.45" fill="#2d6020"/>
<circle cx="427.54" cy="251.35" r="1.45" fill="#45972e"/>
<circle cx="431.76" cy="251.35" r="1.45" fill="#367525"/>
<circle cx="435.98" cy="251.35" r="1.45" fill="#2d6020"/>
<circle cx="440.20" cy="251.35" r="1.45" fill="#2d6020"/>
<circle cx="444.42" cy="251.35" r="1.45" fill="#58c539"/>
<circle cx="448.64" cy="251.35" r="1.45" fill="#45972e"/>
<circle cx="452.86" cy="251.35" r="1.45" fill="#367525"/>
<circle cx="457.08" cy="251.35" r="1.45" fill="#2d6020"/>
<circle cx="461.30" cy="251.35" r="1.45" fill="#58c539"/>
<circle cx="465.52" cy="251.35" r="1.45" fill="#45972e"/>
<circle cx="469.74" cy="251.35" r="1.45" fill="#367525"/>
<circle cx="473.96" cy="251.35" r="1.45" fill="#2d6020"/>
<circle cx="478.18" cy="251.35" r="1.45" fill="#58c539"/>
<circle cx="482.40" cy="251.35" r="1.45" fill="#45972e"/>
<circle cx="486.62" cy="251.35" r="1.45" fill="#367525"/>
<circle cx="490.84" cy="251.35" r="1.45" fill="#2d6020"/>
<circle cx="495.06" cy="251.35" r="1.45" fill="#4ead33"/>
<circle cx="499.28" cy="251.35" r="1.45" fill="#45972e"/>
<circle cx="503.50" cy="251.35" r="1.45" fill="#316922"/>
<circle cx="507.72" cy="251.35" r="1.45" fill="#2d6020"/>
<circle cx="511.94" cy="251.35" r="1.45" fill="#367525"/>
<circle cx="516.16" cy="251.35" r="1.45" fill="#2d6020"/>
<circle cx="520.38" cy="251.35" r="1.45" fill="#2d6020"/>
<circle cx="524.60" cy="251.35" r="1.45" fill="#2a581e"/>
<circle cx="528.82" cy="251.35" r="1.45" fill="#45972e"/>
<circle cx="533.04" cy="251.35" r="1.45" fill="#367525"/>
<circle cx="537.26" cy="251.35" r="1.45" fill="#316922"/>
<circle cx="541.48" cy="251.35" r="1.45" fill="#2d6020"/>
<circle cx="545.70" cy="251.35" r="1.45" fill="#3d8529"/>
<circle cx="549.92" cy="251.35" r="1.45" fill="#316922"/>
<circle cx="554.14" cy="251.35" r="1.45" fill="#2d6020"/>
<circle cx="558.36" cy="251.35" r="1.45" fill="#2a581e"/>
<circle cx="562.58" cy="251.35" r="1.45" fill="#367525"/>
<circle cx="566.80" cy="251.35" r="1.45" fill="#316922"/>
<circle cx="571.02" cy="251.35" r="1.45" fill="#2d6020"/>
<circle cx="575.24" cy="251.35" r="1.45" fill="#2a581e"/>
<circle cx="410.66" cy="255.55" r="1.45" fill="#58c539"/>
<circle cx="414.88" cy="255.55" r="1.45" fill="#45972e"/>
<circle cx="419.10" cy="255.55" r="1.45" fill="#367525"/>
<circle cx="423.32" cy="255.55" r="1.45" fill="#2d6020"/>
<circle cx="427.54" cy="255.55" r="1.45" fill="#45972e"/>
<circle cx="431.76" cy="255.55" r="1.45" fill="#367525"/>
<circle cx="435.98" cy="255.55" r="1.45" fill="#2d6020"/>
<circle cx="440.20" cy="255.55" r="1.45" fill="#2d6020"/>
<circle cx="444.42" cy="255.55" r="1.45" fill="#58c539"/>
<circle cx="448.64" cy="255.55" r="1.45" fill="#45972e"/>
<circle cx="452.86" cy="255.55" r="1.45" fill="#367525"/>
<circle cx="457.08" cy="255.55" r="1.45" fill="#2d6020"/>
<circle cx="461.30" cy="255.55" r="1.45" fill="#58c539"/>
<circle cx="465.52" cy="255.55" r="1.45" fill="#45972e"/>
<circle cx="469.74" cy="255.55" r="1.45" fill="#367525"/>
<circle cx="473.96" cy="255.55" r="1.45" fill="#2d6020"/>
<circle cx="478.18" cy="255.55" r="1.45" fill="#58c539"/>
<circle cx="482.40" cy="255.55" r="1.45" fill="#45972e"/>
<circle cx="486.62" cy="255.55" r="1.45" fill="#367525"/>
<circle cx="490.84" cy="255.55" r="1.45" fill="#2d6020"/>
<circle cx="495.06" cy="255.55" r="1.45" fill="#4ead33"/>
<circle cx="499.28" cy="255.55" r="1.45" fill="#45972e"/>
<circle cx="503.50" cy="255.55" r="1.45" fill="#316922"/>
<circle cx="507.72" cy="255.55" r="1.45" fill="#2d6020"/>
<circle cx="511.94" cy="255.55" r="1.45" fill="#367525"/>
<circle cx="516.16" cy="255.55" r="1.45" fill="#2d6020"/>
<circle cx="520.38" cy="255.55" r="1.45" fill="#2d6020"/>
<circle cx="524.60" cy="255.55" r="1.45" fill="#2a581e"/>
<circle cx="528.82" cy="255.55" r="1.45" fill="#45972e"/>
<circle cx="533.04" cy="255.55" r="1.45" fill="#367525"/>
<circle cx="537.26" cy="255.55" r="1.45" fill="#316922"/>
<circle cx="541.48" cy="255.55" r="1.45" fill="#2d6020"/>
<circle cx="545.70" cy="255.55" r="1.45" fill="#3d8529"/>
<circle cx="549.92" cy="255.55" r="1.45" fill="#316922"/>
<circle cx="554.14" cy="255.55" r="1.45" fill="#2d6020"/>
<circle cx="558.36" cy="255.55" r="1.45" fill="#2a581e"/>
<circle cx="562.58" cy="255.55" r="1.45" fill="#367525"/>
<circle cx="566.80" cy="255.55" r="1.45" fill="#316922"/>
<circle cx="571.02" cy="255.55" r="1.45" fill="#2d6020"/>
<circle cx="575.24" cy="255.55" r="1.45" fill="#2a581e"/>
<circle cx="410.66" cy="259.75" r="1.45" fill="#367525"/>
<circle cx="414.88" cy="259.75" r="1.45" fill="#367525"/>
<circle cx="419.10" cy="259.75" r="1.45" fill="#2d6020"/>
<circle cx="423.32" cy="259.75" r="1.45" fill="#2a581e"/>
<circle cx="427.54" cy="259.75" r="1.45" fill="#367525"/>
<circle cx="431.76" cy="259.75" r="1.45" fill="#2d6020"/>
<circle cx="435.98" cy="259.75" r="1.45" fill="#2d6020"/>
<circle cx="440.20" cy="259.75" r="1.45" fill="#2a581e"/>
<circle cx="444.42" cy="259.75" r="1.45" fill="#367525"/>
<circle cx="448.64" cy="259.75" r="1.45" fill="#2d6020"/>
<circle cx="452.86" cy="259.75" r="1.45" fill="#2d6020"/>
<circle cx="457.08" cy="259.75" r="1.45" fill="#2b5a1f"/>
<circle cx="461.30" cy="259.75" r="1.45" fill="#4ead33"/>
<circle cx="465.52" cy="259.75" r="1.45" fill="#45972e"/>
<circle cx="469.74" cy="259.75" r="1.45" fill="#367525"/>
<circle cx="473.96" cy="259.75" r="1.45" fill="#2d6020"/>
<circle cx="478.18" cy="259.75" r="1.45" fill="#45972e"/>
<circle cx="482.40" cy="259.75" r="1.45" fill="#45972e"/>
<circle cx="486.62" cy="259.75" r="1.45" fill="#367525"/>
<circle cx="490.84" cy="259.75" r="1.45" fill="#2d6020"/>
<circle cx="495.06" cy="259.75" r="1.45" fill="#4ead33"/>
<circle cx="499.28" cy="259.75" r="1.45" fill="#45972e"/>
<circle cx="503.50" cy="259.75" r="1.45" fill="#367525"/>
<circle cx="507.72" cy="259.75" r="1.45" fill="#2d6020"/>
<circle cx="511.94" cy="259.75" r="1.45" fill="#45972e"/>
<circle cx="516.16" cy="259.75" r="1.45" fill="#3d8529"/>
<circle cx="520.38" cy="259.75" r="1.45" fill="#367525"/>
<circle cx="524.60" cy="259.75" r="1.45" fill="#2d6020"/>
<circle cx="528.82" cy="259.75" r="1.45" fill="#45972e"/>
<circle cx="533.04" cy="259.75" r="1.45" fill="#367525"/>
<circle cx="537.26" cy="259.75" r="1.45" fill="#2d6020"/>
<circle cx="541.48" cy="259.75" r="1.45" fill="#2b5a1f"/>
<circle cx="545.70" cy="259.75" r="1.45" fill="#316922"/>
<circle cx="549.92" cy="259.75" r="1.45" fill="#2d6020"/>
<circle cx="554.14" cy="259.75" r="1.45" fill="#2b5a1f"/>
<circle cx="558.36" cy="259.75" r="1.45" fill="#2a581e"/>
<circle cx="562.58" cy="259.75" r="1.45" fill="#2d6020"/>
<circle cx="566.80" cy="259.75" r="1.45" fill="#2b5a1f"/>
<circle cx="571.02" cy="259.75" r="1.45" fill="#2b5a1f"/>
<circle cx="575.24" cy="259.75" r="1.45" fill="#2a581e"/>
<circle cx="410.66" cy="263.95" r="1.45" fill="#367525"/>
<circle cx="414.88" cy="263.95" r="1.45" fill="#367525"/>
<circle cx="419.10" cy="263.95" r="1.45" fill="#2d6020"/>
<circle cx="423.32" cy="263.95" r="1.45" fill="#2a581e"/>
<circle cx="427.54" cy="263.95" r="1.45" fill="#367525"/>
<circle cx="431.76" cy="263.95" r="1.45" fill="#2d6020"/>
<circle cx="435.98" cy="263.95" r="1.45" fill="#2d6020"/>
<circle cx="440.20" cy="263.95" r="1.45" fill="#2a581e"/>
<circle cx="444.42" cy="263.95" r="1.45" fill="#367525"/>
<circle cx="448.64" cy="263.95" r="1.45" fill="#2d6020"/>
<circle cx="452.86" cy="263.95" r="1.45" fill="#2d6020"/>
<circle cx="457.08" cy="263.95" r="1.45" fill="#2b5a1f"/>
<circle cx="461.30" cy="263.95" r="1.45" fill="#4ead33"/>
<circle cx="465.52" cy="263.95" r="1.45" fill="#45972e"/>
<circle cx="469.74" cy="263.95" r="1.45" fill="#367525"/>
<circle cx="473.96" cy="263.95" r="1.45" fill="#2d6020"/>
<circle cx="478.18" cy="263.95" r="1.45" fill="#45972e"/>
<circle cx="482.40" cy="263.95" r="1.45" fill="#45972e"/>
<circle cx="486.62" cy="263.95" r="1.45" fill="#367525"/>
<circle cx="490.84" cy="263.95" r="1.45" fill="#2d6020"/>
<circle cx="495.06" cy="263.95" r="1.45" fill="#4ead33"/>
<circle cx="499.28" cy="263.95" r="1.45" fill="#45972e"/>
<circle cx="503.50" cy="263.95" r="1.45" fill="#367525"/>
<circle cx="507.72" cy="263.95" r="1.45" fill="#2d6020"/>
<circle cx="511.94" cy="263.95" r="1.45" fill="#45972e"/>
<circle cx="516.16" cy="263.95" r="1.45" fill="#3d8529"/>
<circle cx="520.38" cy="263.95" r="1.45" fill="#367525"/>
<circle cx="524.60" cy="263.95" r="1.45" fill="#2d6020"/>
<circle cx="528.82" cy="263.95" r="1.45" fill="#45972e"/>
<circle cx="533.04" cy="263.95" r="1.45" fill="#367525"/>
<circle cx="537.26" cy="263.95" r="1.45" fill="#2d6020"/>
<circle cx="541.48" cy="263.95" r="1.45" fill="#2b5a1f"/>
<circle cx="545.70" cy="263.95" r="1.45" fill="#316922"/>
<circle cx="549.92" cy="263.95" r="1.45" fill="#2d6020"/>
<circle cx="554.14" cy="263.95" r="1.45" fill="#2b5a1f"/>
<circle cx="558.36" cy="263.95" r="1.45" fill="#2a581e"/>
<circle cx="562.58" cy="263.95" r="1.45" fill="#2d6020"/>
<circle cx="566.80" cy="263.95" r="1.45" fill="#2b5a1f"/>
<circle cx="571.02" cy="263.95" r="1.45" fill="#2b5a1f"/>
<circle cx="575.24" cy="263.95" r="1.45" fill="#2a581e"/>
<circle cx="410.66" cy="268.15" r="1.45" fill="#367525"/>
<circle cx="414.88" cy="268.15" r="1.45" fill="#367525"/>
<circle cx="419.10" cy="268.15" r="1.45" fill="#2d6020"/>
<circle cx="423.32" cy="268.15" r="1.45" fill="#2d6020"/>
<circle cx="427.54" cy="268.15" r="1.45" fill="#2a581e"/>
<circle cx="431.76" cy="268.15" r="1.45" fill="#2a581e"/>
<circle cx="435.98" cy="268.15" r="1.45" fill="#2a581e"/>
<circle cx="440.20" cy="268.15" r="1.45" fill="#2a581e"/>
<circle cx="444.42" cy="268.15" r="1.45" fill="#367525"/>
<circle cx="448.64" cy="268.15" r="1.45" fill="#2d6020"/>
<circle cx="452.86" cy="268.15" r="1.45" fill="#2d6020"/>
<circle cx="457.08" cy="268.15" r="1.45" fill="#2b5a1f"/>
<circle cx="461.30" cy="268.15" r="1.45" fill="#45972e"/>
<circle cx="465.52" cy="268.15" r="1.45" fill="#45972e"/>
<circle cx="469.74" cy="268.15" r="1.45" fill="#367525"/>
<circle cx="473.96" cy="268.15" r="1.45" fill="#2d6020"/>
<circle cx="478.18" cy="268.15" r="1.45" fill="#367525"/>
<circle cx="482.40" cy="268.15" r="1.45" fill="#367525"/>
<circle cx="486.62" cy="268.15" r="1.45" fill="#2d6020"/>
<circle cx="490.84" cy="268.15" r="1.45" fill="#2d6020"/>
<circle cx="495.06" cy="268.15" r="1.45" fill="#316922"/>
<circle cx="499.28" cy="268.15" r="1.45" fill="#2d6020"/>
<circle cx="503.50" cy="268.15" r="1.45" fill="#2a581e"/>
<circle cx="507.72" cy="268.15" r="1.45" fill="#2a581e"/>
<circle cx="511.94" cy="268.15" r="1.45" fill="#316922"/>
<circle cx="516.16" cy="268.15" r="1.45" fill="#2d6020"/>
<circle cx="520.38" cy="268.15" r="1.45" fill="#2a581e"/>
<circle cx="524.60" cy="268.15" r="1.45" fill="#2a581e"/>
<circle cx="528.82" cy="268.15" r="1.45" fill="#316922"/>
<circle cx="533.04" cy="268.15" r="1.45" fill="#2d6020"/>
<circle cx="537.26" cy="268.15" r="1.45" fill="#2b5a1f"/>
<circle cx="541.48" cy="268.15" r="1.45" fill="#2a581e"/>
<circle cx="545.70" cy="268.15" r="1.45" fill="#70ff48"/>
<circle cx="549.92" cy="268.15" r="1.45" fill="#70ff48"/>
<circle cx="554.14" cy="268.15" r="1.45" fill="#63e140"/>
<circle cx="558.36" cy="268.15" r="1.45" fill="#58c539"/>
<circle cx="562.58" cy="268.15" r="1.45" fill="#45972e"/>
<circle cx="566.80" cy="268.15" r="1.45" fill="#3d8529"/>
<circle cx="571.02" cy="268.15" r="1.45" fill="#316922"/>
<circle cx="575.24" cy="268.15" r="1.45" fill="#2d6020"/>
<circle cx="410.66" cy="272.35" r="1.45" fill="#367525"/>
<circle cx="414.88" cy="272.35" r="1.45" fill="#367525"/>
<circle cx="419.10" cy="272.35" r="1.45" fill="#2d6020"/>
<circle cx="423.32" cy="272.35" r="1.45" fill="#2d6020"/>
<circle cx="427.54" cy="272.35" r="1.45" fill="#2a581e"/>
<circle cx="431.76" cy="272.35" r="1.45" fill="#2a581e"/>
<circle cx="435.98" cy="272.35" r="1.45" fill="#2a581e"/>
<circle cx="440.20" cy="272.35" r="1.45" fill="#2a581e"/>
<circle cx="444.42" cy="272.35" r="1.45" fill="#367525"/>
<circle cx="448.64" cy="272.35" r="1.45" fill="#2d6020"/>
<circle cx="452.86" cy="272.35" r="1.45" fill="#2d6020"/>
<circle cx="457.08" cy="272.35" r="1.45" fill="#2b5a1f"/>
<circle cx="461.30" cy="272.35" r="1.45" fill="#45972e"/>
<circle cx="465.52" cy="272.35" r="1.45" fill="#45972e"/>
<circle cx="469.74" cy="272.35" r="1.45" fill="#367525"/>
<circle cx="473.96" cy="272.35" r="1.45" fill="#2d6020"/>
<circle cx="478.18" cy="272.35" r="1.45" fill="#367525"/>
<circle cx="482.40" cy="272.35" r="1.45" fill="#367525"/>
<circle cx="486.62" cy="272.35" r="1.45" fill="#2d6020"/>
<circle cx="490.84" cy="272.35" r="1.45" fill="#2d6020"/>
<circle cx="495.06" cy="272.35" r="1.45" fill="#316922"/>
<circle cx="499.28" cy="272.35" r="1.45" fill="#2d6020"/>
<circle cx="503.50" cy="272.35" r="1.45" fill="#2a581e"/>
<circle cx="507.72" cy="272.35" r="1.45" fill="#2a581e"/>
<circle cx="511.94" cy="272.35" r="1.45" fill="#316922"/>
<circle cx="516.16" cy="272.35" r="1.45" fill="#2d6020"/>
<circle cx="520.38" cy="272.35" r="1.45" fill="#2a581e"/>
<circle cx="524.60" cy="272.35" r="1.45" fill="#2a581e"/>
<circle cx="528.82" cy="272.35" r="1.45" fill="#316922"/>
<circle cx="533.04" cy="272.35" r="1.45" fill="#2d6020"/>
<circle cx="537.26" cy="272.35" r="1.45" fill="#2b5a1f"/>
<circle cx="541.48" cy="272.35" r="1.45" fill="#2a581e"/>
<circle cx="545.70" cy="272.35" r="1.45" fill="#70ff48"/>
<circle cx="549.92" cy="272.35" r="1.45" fill="#70ff48"/>
<circle cx="554.14" cy="272.35" r="1.45" fill="#63e140"/>
<circle cx="558.36" cy="272.35" r="1.45" fill="#58c539"/>
<circle cx="562.58" cy="272.35" r="1.45" fill="#45972e"/>
<circle cx="566.80" cy="272.35" r="1.45" fill="#3d8529"/>
<circle cx="571.02" cy="272.35" r="1.45" fill="#316922"/>
<circle cx="575.24" cy="272.35" r="1.45" fill="#2d6020"/>
<circle cx="410.66" cy="276.55" r="1.45" fill="#2d6020"/>
<circle cx="414.88" cy="276.55" r="1.45" fill="#2d6020"/>
<circle cx="419.10" cy="276.55" r="1.45" fill="#2d6020"/>
<circle cx="423.32" cy="276.55" r="1.45" fill="#2a581e"/>
<circle cx="427.54" cy="276.55" r="1.45" fill="#367525"/>
<circle cx="431.76" cy="276.55" r="1.45" fill="#2d6020"/>
<circle cx="435.98" cy="276.55" r="1.45" fill="#2d6020"/>
<circle cx="440.20" cy="276.55" r="1.45" fill="#2a581e"/>
<circle cx="444.42" cy="276.55" r="1.45" fill="#2d6020"/>
<circle cx="448.64" cy="276.55" r="1.45" fill="#2d6020"/>
<circle cx="452.86" cy="276.55" r="1.45" fill="#2b5a1f"/>
<circle cx="457.08" cy="276.55" r="1.45" fill="#2a581e"/>
<circle cx="461.30" cy="276.55" r="1.45" fill="#367525"/>
<circle cx="465.52" cy="276.55" r="1.45" fill="#2d6020"/>
<circle cx="469.74" cy="276.55" r="1.45" fill="#2d6020"/>
<circle cx="473.96" cy="276.55" r="1.45" fill="#2a581e"/>
<circle cx="478.18" cy="276.55" r="1.45" fill="#367525"/>
<circle cx="482.40" cy="276.55" r="1.45" fill="#2d6020"/>
<circle cx="486.62" cy="276.55" r="1.45" fill="#2d6020"/>
<circle cx="490.84" cy="276.55" r="1.45" fill="#2a581e"/>
<circle cx="495.06" cy="276.55" r="1.45" fill="#367525"/>
<circle cx="499.28" cy="276.55" r="1.45" fill="#2d6020"/>
<circle cx="503.50" cy="276.55" r="1.45" fill="#2d6020"/>
<circle cx="507.72" cy="276.55" r="1.45" fill="#2a581e"/>
<circle cx="511.94" cy="276.55" r="1.45" fill="#3d8529"/>
<circle cx="516.16" cy="276.55" r="1.45" fill="#367525"/>
<circle cx="520.38" cy="276.55" r="1.45" fill="#2d6020"/>
<circle cx="524.60" cy="276.55" r="1.45" fill="#2a581e"/>
<circle cx="528.82" cy="276.55" r="1.45" fill="#367525"/>
<circle cx="533.04" cy="276.55" r="1.45" fill="#2d6020"/>
<circle cx="537.26" cy="276.55" r="1.45" fill="#2b5a1f"/>
<circle cx="541.48" cy="276.55" r="1.45" fill="#2a581e"/>
<circle cx="545.70" cy="276.55" r="1.45" fill="#316922"/>
<circle cx="549.92" cy="276.55" r="1.45" fill="#2d6020"/>
<circle cx="554.14" cy="276.55" r="1.45" fill="#2b5a1f"/>
<circle cx="558.36" cy="276.55" r="1.45" fill="#2a581e"/>
<circle cx="562.58" cy="276.55" r="1.45" fill="#367525"/>
<circle cx="566.80" cy="276.55" r="1.45" fill="#316922"/>
<circle cx="571.02" cy="276.55" r="1.45" fill="#2d6020"/>
<circle cx="575.24" cy="276.55" r="1.45" fill="#2b5a1f"/>
<circle cx="410.66" cy="280.75" r="1.45" fill="#2d6020"/>
<circle cx="414.88" cy="280.75" r="1.45" fill="#2d6020"/>
<circle cx="419.10" cy="280.75" r="1.45" fill="#2d6020"/>
<circle cx="423.32" cy="280.75" r="1.45" fill="#2a581e"/>
<circle cx="427.54" cy="280.75" r="1.45" fill="#367525"/>
<circle cx="431.76" cy="280.75" r="1.45" fill="#2d6020"/>
<circle cx="435.98" cy="280.75" r="1.45" fill="#2d6020"/>
<circle cx="440.20" cy="280.75" r="1.45" fill="#2a581e"/>
<circle cx="444.42" cy="280.75" r="1.45" fill="#2d6020"/>
<circle cx="448.64" cy="280.75" r="1.45" fill="#2d6020"/>
<circle cx="452.86" cy="280.75" r="1.45" fill="#2b5a1f"/>
<circle cx="457.08" cy="280.75" r="1.45" fill="#2a581e"/>
<circle cx="461.30" cy="280.75" r="1.45" fill="#367525"/>
<circle cx="465.52" cy="280.75" r="1.45" fill="#2d6020"/>
<circle cx="469.74" cy="280.75" r="1.45" fill="#2d6020"/>
<circle cx="473.96" cy="280.75" r="1.45" fill="#2a581e"/>
<circle cx="478.18" cy="280.75" r="1.45" fill="#367525"/>
<circle cx="482.40" cy="280.75" r="1.45" fill="#2d6020"/>
<circle cx="486.62" cy="280.75" r="1.45" fill="#2d6020"/>
<circle cx="490.84" cy="280.75" r="1.45" fill="#2a581e"/>
<circle cx="495.06" cy="280.75" r="1.45" fill="#367525"/>
<circle cx="499.28" cy="280.75" r="1.45" fill="#2d6020"/>
<circle cx="503.50" cy="280.75" r="1.45" fill="#2d6020"/>
<circle cx="507.72" cy="280.75" r="1.45" fill="#2a581e"/>
<circle cx="511.94" cy="280.75" r="1.45" fill="#3d8529"/>
<circle cx="516.16" cy="280.75" r="1.45" fill="#367525"/>
<circle cx="520.38" cy="280.75" r="1.45" fill="#2d6020"/>
<circle cx="524.60" cy="280.75" r="1.45" fill="#2a581e"/>
<circle cx="528.82" cy="280.75" r="1.45" fill="#367525"/>
<circle cx="533.04" cy="280.75" r="1.45" fill="#2d6020"/>
<circle cx="537.26" cy="280.75" r="1.45" fill="#2b5a1f"/>
<circle cx="541.48" cy="280.75" r="1.45" fill="#2a581e"/>
<circle cx="545.70" cy="280.75" r="1.45" fill="#316922"/>
<circle cx="549.92" cy="280.75" r="1.45" fill="#2d6020"/>
<circle cx="554.14" cy="280.75" r="1.45" fill="#2b5a1f"/>
<circle cx="558.36" cy="280.75" r="1.45" fill="#2a581e"/>
<circle cx="562.58" cy="280.75" r="1.45" fill="#367525"/>
<circle cx="566.80" cy="280.75" r="1.45" fill="#316922"/>
<circle cx="571.02" cy="280.75" r="1.45" fill="#2d6020"/>
<circle cx="575.24" cy="280.75" r="1.45" fill="#2b5a1f"/>
<rect x="450.3" y="233.2" width="170.7" height="69.3" fill="url(#redbg)"/>
<circle cx="453.70" cy="236.60" r="1.45" fill="#921711"/>
<circle cx="457.97" cy="236.60" r="1.45" fill="#921711"/>
<circle cx="462.24" cy="236.60" r="1.45" fill="#6f0f0c"/>
<circle cx="466.51" cy="236.60" r="1.45" fill="#6f0f0c"/>
<circle cx="470.78" cy="236.60" r="1.45" fill="#580b09"/>
<circle cx="475.05" cy="236.60" r="1.45" fill="#500908"/>
<circle cx="479.32" cy="236.60" r="1.45" fill="#500908"/>
<circle cx="483.59" cy="236.60" r="1.45" fill="#500908"/>
<circle cx="487.86" cy="236.60" r="1.45" fill="#921711"/>
<circle cx="492.13" cy="236.60" r="1.45" fill="#6f0f0c"/>
<circle cx="496.40" cy="236.60" r="1.45" fill="#620d0a"/>
<circle cx="500.67" cy="236.60" r="1.45" fill="#580b09"/>
<circle cx="504.94" cy="236.60" r="1.45" fill="#c32118"/>
<circle cx="509.21" cy="236.60" r="1.45" fill="#921711"/>
<circle cx="513.48" cy="236.60" r="1.45" fill="#6f0f0c"/>
<circle cx="517.75" cy="236.60" r="1.45" fill="#580b09"/>
<circle cx="522.02" cy="236.60" r="1.45" fill="#6f0f0c"/>
<circle cx="526.29" cy="236.60" r="1.45" fill="#580b09"/>
<circle cx="530.56" cy="236.60" r="1.45" fill="#580b09"/>
<circle cx="534.83" cy="236.60" r="1.45" fill="#580b09"/>
<circle cx="539.10" cy="236.60" r="1.45" fill="#921711"/>
<circle cx="543.37" cy="236.60" r="1.45" fill="#7f130e"/>
<circle cx="547.64" cy="236.60" r="1.45" fill="#6f0f0c"/>
<circle cx="551.91" cy="236.60" r="1.45" fill="#580b09"/>
<circle cx="556.18" cy="236.60" r="1.45" fill="#921711"/>
<circle cx="560.45" cy="236.60" r="1.45" fill="#921711"/>
<circle cx="564.72" cy="236.60" r="1.45" fill="#6f0f0c"/>
<circle cx="568.99" cy="236.60" r="1.45" fill="#580b09"/>
<circle cx="573.26" cy="236.60" r="1.45" fill="#921711"/>
<circle cx="577.53" cy="236.60" r="1.45" fill="#6f0f0c"/>
<circle cx="581.80" cy="236.60" r="1.45" fill="#620d0a"/>
<circle cx="586.07" cy="236.60" r="1.45" fill="#580b09"/>
<circle cx="590.34" cy="236.60" r="1.45" fill="#df271c"/>
<circle cx="594.61" cy="236.60" r="1.45" fill="#a91c14"/>
<circle cx="598.88" cy="236.60" r="1.45" fill="#7f130e"/>
<circle cx="603.15" cy="236.60" r="1.45" fill="#6f0f0c"/>
<circle cx="607.42" cy="236.60" r="1.45" fill="#580b09"/>
<circle cx="611.69" cy="236.60" r="1.45" fill="#520908"/>
<circle cx="615.96" cy="236.60" r="1.45" fill="#500908"/>
<circle cx="620.23" cy="236.60" r="1.45" fill="#500908"/>
<circle cx="453.70" cy="240.80" r="1.45" fill="#921711"/>
<circle cx="457.97" cy="240.80" r="1.45" fill="#921711"/>
<circle cx="462.24" cy="240.80" r="1.45" fill="#6f0f0c"/>
<circle cx="466.51" cy="240.80" r="1.45" fill="#6f0f0c"/>
<circle cx="470.78" cy="240.80" r="1.45" fill="#580b09"/>
<circle cx="475.05" cy="240.80" r="1.45" fill="#500908"/>
<circle cx="479.32" cy="240.80" r="1.45" fill="#500908"/>
<circle cx="483.59" cy="240.80" r="1.45" fill="#500908"/>
<circle cx="487.86" cy="240.80" r="1.45" fill="#921711"/>
<circle cx="492.13" cy="240.80" r="1.45" fill="#6f0f0c"/>
<circle cx="496.40" cy="240.80" r="1.45" fill="#620d0a"/>
<circle cx="500.67" cy="240.80" r="1.45" fill="#580b09"/>
<circle cx="504.94" cy="240.80" r="1.45" fill="#c32118"/>
<circle cx="509.21" cy="240.80" r="1.45" fill="#921711"/>
<circle cx="513.48" cy="240.80" r="1.45" fill="#6f0f0c"/>
<circle cx="517.75" cy="240.80" r="1.45" fill="#580b09"/>
<circle cx="522.02" cy="240.80" r="1.45" fill="#6f0f0c"/>
<circle cx="526.29" cy="240.80" r="1.45" fill="#580b09"/>
<circle cx="530.56" cy="240.80" r="1.45" fill="#580b09"/>
<circle cx="534.83" cy="240.80" r="1.45" fill="#580b09"/>
<circle cx="539.10" cy="240.80" r="1.45" fill="#921711"/>
<circle cx="543.37" cy="240.80" r="1.45" fill="#7f130e"/>
<circle cx="547.64" cy="240.80" r="1.45" fill="#6f0f0c"/>
<circle cx="551.91" cy="240.80" r="1.45" fill="#580b09"/>
<circle cx="556.18" cy="240.80" r="1.45" fill="#921711"/>
<circle cx="560.45" cy="240.80" r="1.45" fill="#921711"/>
<circle cx="564.72" cy="240.80" r="1.45" fill="#6f0f0c"/>
<circle cx="568.99" cy="240.80" r="1.45" fill="#580b09"/>
<circle cx="573.26" cy="240.80" r="1.45" fill="#921711"/>
<circle cx="577.53" cy="240.80" r="1.45" fill="#6f0f0c"/>
<circle cx="581.80" cy="240.80" r="1.45" fill="#620d0a"/>
<circle cx="586.07" cy="240.80" r="1.45" fill="#580b09"/>
<circle cx="590.34" cy="240.80" r="1.45" fill="#df271c"/>
<circle cx="594.61" cy="240.80" r="1.45" fill="#a91c14"/>
<circle cx="598.88" cy="240.80" r="1.45" fill="#7f130e"/>
<circle cx="603.15" cy="240.80" r="1.45" fill="#6f0f0c"/>
<circle cx="607.42" cy="240.80" r="1.45" fill="#580b09"/>
<circle cx="611.69" cy="240.80" r="1.45" fill="#520908"/>
<circle cx="615.96" cy="240.80" r="1.45" fill="#500908"/>
<circle cx="620.23" cy="240.80" r="1.45" fill="#500908"/>
<circle cx="453.70" cy="245.00" r="1.45" fill="#6f0f0c"/>
<circle cx="457.97" cy="245.00" r="1.45" fill="#6f0f0c"/>
<circle cx="462.24" cy="245.00" r="1.45" fill="#620d0a"/>
<circle cx="466.51" cy="245.00" r="1.45" fill="#580b09"/>
<circle cx="470.78" cy="245.00" r="1.45" fill="#6f0f0c"/>
<circle cx="475.05" cy="245.00" r="1.45" fill="#6f0f0c"/>
<circle cx="479.32" cy="245.00" r="1.45" fill="#580b09"/>
<circle cx="483.59" cy="245.00" r="1.45" fill="#580b09"/>
<circle cx="487.86" cy="245.00" r="1.45" fill="#580b09"/>
<circle cx="492.13" cy="245.00" r="1.45" fill="#580b09"/>
<circle cx="496.40" cy="245.00" r="1.45" fill="#580b09"/>
<circle cx="500.67" cy="245.00" r="1.45" fill="#520908"/>
<circle cx="504.94" cy="245.00" r="1.45" fill="#921711"/>
<circle cx="509.21" cy="245.00" r="1.45" fill="#6f0f0c"/>
<circle cx="513.48" cy="245.00" r="1.45" fill="#6f0f0c"/>
<circle cx="517.75" cy="245.00" r="1.45" fill="#580b09"/>
<circle cx="522.02" cy="245.00" r="1.45" fill="#921711"/>
<circle cx="526.29" cy="245.00" r="1.45" fill="#921711"/>
<circle cx="530.56" cy="245.00" r="1.45" fill="#6f0f0c"/>
<circle cx="534.83" cy="245.00" r="1.45" fill="#580b09"/>
<circle cx="539.10" cy="245.00" r="1.45" fill="#921711"/>
<circle cx="543.37" cy="245.00" r="1.45" fill="#7f130e"/>
<circle cx="547.64" cy="245.00" r="1.45" fill="#6f0f0c"/>
<circle cx="551.91" cy="245.00" r="1.45" fill="#580b09"/>
<circle cx="556.18" cy="245.00" r="1.45" fill="#c32118"/>
<circle cx="560.45" cy="245.00" r="1.45" fill="#a91c14"/>
<circle cx="564.72" cy="245.00" r="1.45" fill="#7f130e"/>
<circle cx="568.99" cy="245.00" r="1.45" fill="#620d0a"/>
<circle cx="573.26" cy="245.00" r="1.45" fill="#df271c"/>
<circle cx="577.53" cy="245.00" r="1.45" fill="#c32118"/>
<circle cx="581.80" cy="245.00" r="1.45" fill="#921711"/>
<circle cx="586.07" cy="245.00" r="1.45" fill="#6f0f0c"/>
<circle cx="590.34" cy="245.00" r="1.45" fill="#a91c14"/>
<circle cx="594.61" cy="245.00" r="1.45" fill="#921711"/>
<circle cx="598.88" cy="245.00" r="1.45" fill="#6f0f0c"/>
<circle cx="603.15" cy="245.00" r="1.45" fill="#620d0a"/>
<circle cx="607.42" cy="245.00" r="1.45" fill="#921711"/>
<circle cx="611.69" cy="245.00" r="1.45" fill="#6f0f0c"/>
<circle cx="615.96" cy="245.00" r="1.45" fill="#620d0a"/>
<circle cx="620.23" cy="245.00" r="1.45" fill="#580b09"/>
<circle cx="453.70" cy="249.20" r="1.45" fill="#6f0f0c"/>
<circle cx="457.97" cy="249.20" r="1.45" fill="#6f0f0c"/>
<circle cx="462.24" cy="249.20" r="1.45" fill="#620d0a"/>
<circle cx="466.51" cy="249.20" r="1.45" fill="#580b09"/>
<circle cx="470.78" cy="249.20" r="1.45" fill="#6f0f0c"/>
<circle cx="475.05" cy="249.20" r="1.45" fill="#6f0f0c"/>
<circle cx="479.32" cy="249.20" r="1.45" fill="#580b09"/>
<circle cx="483.59" cy="249.20" r="1.45" fill="#580b09"/>
<circle cx="487.86" cy="249.20" r="1.45" fill="#580b09"/>
<circle cx="492.13" cy="249.20" r="1.45" fill="#580b09"/>
<circle cx="496.40" cy="249.20" r="1.45" fill="#580b09"/>
<circle cx="500.67" cy="249.20" r="1.45" fill="#520908"/>
<circle cx="504.94" cy="249.20" r="1.45" fill="#921711"/>
<circle cx="509.21" cy="249.20" r="1.45" fill="#6f0f0c"/>
<circle cx="513.48" cy="249.20" r="1.45" fill="#6f0f0c"/>
<circle cx="517.75" cy="249.20" r="1.45" fill="#580b09"/>
<circle cx="522.02" cy="249.20" r="1.45" fill="#921711"/>
<circle cx="526.29" cy="249.20" r="1.45" fill="#921711"/>
<circle cx="530.56" cy="249.20" r="1.45" fill="#6f0f0c"/>
<circle cx="534.83" cy="249.20" r="1.45" fill="#580b09"/>
<circle cx="539.10" cy="249.20" r="1.45" fill="#921711"/>
<circle cx="543.37" cy="249.20" r="1.45" fill="#7f130e"/>
<circle cx="547.64" cy="249.20" r="1.45" fill="#6f0f0c"/>
<circle cx="551.91" cy="249.20" r="1.45" fill="#580b09"/>
<circle cx="556.18" cy="249.20" r="1.45" fill="#c32118"/>
<circle cx="560.45" cy="249.20" r="1.45" fill="#a91c14"/>
<circle cx="564.72" cy="249.20" r="1.45" fill="#7f130e"/>
<circle cx="568.99" cy="249.20" r="1.45" fill="#620d0a"/>
<circle cx="573.26" cy="249.20" r="1.45" fill="#df271c"/>
<circle cx="577.53" cy="249.20" r="1.45" fill="#c32118"/>
<circle cx="581.80" cy="249.20" r="1.45" fill="#921711"/>
<circle cx="586.07" cy="249.20" r="1.45" fill="#6f0f0c"/>
<circle cx="590.34" cy="249.20" r="1.45" fill="#a91c14"/>
<circle cx="594.61" cy="249.20" r="1.45" fill="#921711"/>
<circle cx="598.88" cy="249.20" r="1.45" fill="#6f0f0c"/>
<circle cx="603.15" cy="249.20" r="1.45" fill="#620d0a"/>
<circle cx="607.42" cy="249.20" r="1.45" fill="#921711"/>
<circle cx="611.69" cy="249.20" r="1.45" fill="#6f0f0c"/>
<circle cx="615.96" cy="249.20" r="1.45" fill="#620d0a"/>
<circle cx="620.23" cy="249.20" r="1.45" fill="#580b09"/>
<circle cx="453.70" cy="253.40" r="1.45" fill="#6f0f0c"/>
<circle cx="457.97" cy="253.40" r="1.45" fill="#620d0a"/>
<circle cx="462.24" cy="253.40" r="1.45" fill="#580b09"/>
<circle cx="466.51" cy="253.40" r="1.45" fill="#580b09"/>
<circle cx="470.78" cy="253.40" r="1.45" fill="#921711"/>
<circle cx="475.05" cy="253.40" r="1.45" fill="#6f0f0c"/>
<circle cx="479.32" cy="253.40" r="1.45" fill="#580b09"/>
<circle cx="483.59" cy="253.40" r="1.45" fill="#580b09"/>
<circle cx="487.86" cy="253.40" r="1.45" fill="#6f0f0c"/>
<circle cx="492.13" cy="253.40" r="1.45" fill="#6f0f0c"/>
<circle cx="496.40" cy="253.40" r="1.45" fill="#580b09"/>
<circle cx="500.67" cy="253.40" r="1.45" fill="#520908"/>
<circle cx="504.94" cy="253.40" r="1.45" fill="#6f0f0c"/>
<circle cx="509.21" cy="253.40" r="1.45" fill="#580b09"/>
<circle cx="513.48" cy="253.40" r="1.45" fill="#580b09"/>
<circle cx="517.75" cy="253.40" r="1.45" fill="#500908"/>
<circle cx="522.02" cy="253.40" r="1.45" fill="#6f0f0c"/>
<circle cx="526.29" cy="253.40" r="1.45" fill="#580b09"/>
<circle cx="530.56" cy="253.40" r="1.45" fill="#580b09"/>
<circle cx="534.83" cy="253.40" r="1.45" fill="#500908"/>
<circle cx="539.10" cy="253.40" r="1.45" fill="#6f0f0c"/>
<circle cx="543.37" cy="253.40" r="1.45" fill="#580b09"/>
<circle cx="547.64" cy="253.40" r="1.45" fill="#580b09"/>
<circle cx="551.91" cy="253.40" r="1.45" fill="#500908"/>
<circle cx="556.18" cy="253.40" r="1.45" fill="#6f0f0c"/>
<circle cx="560.45" cy="253.40" r="1.45" fill="#580b09"/>
<circle cx="564.72" cy="253.40" r="1.45" fill="#580b09"/>
<circle cx="568.99" cy="253.40" r="1.45" fill="#500908"/>
<circle cx="573.26" cy="253.40" r="1.45" fill="#6f0f0c"/>
<circle cx="577.53" cy="253.40" r="1.45" fill="#580b09"/>
<circle cx="581.80" cy="253.40" r="1.45" fill="#580b09"/>
<circle cx="586.07" cy="253.40" r="1.45" fill="#520908"/>
<circle cx="590.34" cy="253.40" r="1.45" fill="#6f0f0c"/>
<circle cx="594.61" cy="253.40" r="1.45" fill="#580b09"/>
<circle cx="598.88" cy="253.40" r="1.45" fill="#520908"/>
<circle cx="603.15" cy="253.40" r="1.45" fill="#500908"/>
<circle cx="607.42" cy="253.40" r="1.45" fill="#7f130e"/>
<circle cx="611.69" cy="253.40" r="1.45" fill="#620d0a"/>
<circle cx="615.96" cy="253.40" r="1.45" fill="#580b09"/>
<circle cx="620.23" cy="253.40" r="1.45" fill="#520908"/>
<circle cx="453.70" cy="257.60" r="1.45" fill="#6f0f0c"/>
<circle cx="457.97" cy="257.60" r="1.45" fill="#620d0a"/>
<circle cx="462.24" cy="257.60" r="1.45" fill="#580b09"/>
<circle cx="466.51" cy="257.60" r="1.45" fill="#580b09"/>
<circle cx="470.78" cy="257.60" r="1.45" fill="#921711"/>
<circle cx="475.05" cy="257.60" r="1.45" fill="#6f0f0c"/>
<circle cx="479.32" cy="257.60" r="1.45" fill="#580b09"/>
<circle cx="483.59" cy="257.60" r="1.45" fill="#580b09"/>
<circle cx="487.86" cy="257.60" r="1.45" fill="#6f0f0c"/>
<circle cx="492.13" cy="257.60" r="1.45" fill="#6f0f0c"/>
<circle cx="496.40" cy="257.60" r="1.45" fill="#580b09"/>
<circle cx="500.67" cy="257.60" r="1.45" fill="#520908"/>
<circle cx="504.94" cy="257.60" r="1.45" fill="#6f0f0c"/>
<circle cx="509.21" cy="257.60" r="1.45" fill="#580b09"/>
<circle cx="513.48" cy="257.60" r="1.45" fill="#580b09"/>
<circle cx="517.75" cy="257.60" r="1.45" fill="#500908"/>
<circle cx="522.02" cy="257.60" r="1.45" fill="#6f0f0c"/>
<circle cx="526.29" cy="257.60" r="1.45" fill="#580b09"/>
<circle cx="530.56" cy="257.60" r="1.45" fill="#580b09"/>
<circle cx="534.83" cy="257.60" r="1.45" fill="#500908"/>
<circle cx="539.10" cy="257.60" r="1.45" fill="#6f0f0c"/>
<circle cx="543.37" cy="257.60" r="1.45" fill="#580b09"/>
<circle cx="547.64" cy="257.60" r="1.45" fill="#580b09"/>
<circle cx="551.91" cy="257.60" r="1.45" fill="#500908"/>
<circle cx="556.18" cy="257.60" r="1.45" fill="#6f0f0c"/>
<circle cx="560.45" cy="257.60" r="1.45" fill="#580b09"/>
<circle cx="564.72" cy="257.60" r="1.45" fill="#580b09"/>
<circle cx="568.99" cy="257.60" r="1.45" fill="#500908"/>
<circle cx="573.26" cy="257.60" r="1.45" fill="#6f0f0c"/>
<circle cx="577.53" cy="257.60" r="1.45" fill="#580b09"/>
<circle cx="581.80" cy="257.60" r="1.45" fill="#580b09"/>
<circle cx="586.07" cy="257.60" r="1.45" fill="#520908"/>
<circle cx="590.34" cy="257.60" r="1.45" fill="#6f0f0c"/>
<circle cx="594.61" cy="257.60" r="1.45" fill="#580b09"/>
<circle cx="598.88" cy="257.60" r="1.45" fill="#520908"/>
<circle cx="603.15" cy="257.60" r="1.45" fill="#500908"/>
<circle cx="607.42" cy="257.60" r="1.45" fill="#7f130e"/>
<circle cx="611.69" cy="257.60" r="1.45" fill="#620d0a"/>
<circle cx="615.96" cy="257.60" r="1.45" fill="#580b09"/>
<circle cx="620.23" cy="257.60" r="1.45" fill="#520908"/>
<circle cx="453.70" cy="261.80" r="1.45" fill="#580b09"/>
<circle cx="457.97" cy="261.80" r="1.45" fill="#580b09"/>
<circle cx="462.24" cy="261.80" r="1.45" fill="#500908"/>
<circle cx="466.51" cy="261.80" r="1.45" fill="#500908"/>
<circle cx="470.78" cy="261.80" r="1.45" fill="#6f0f0c"/>
<circle cx="475.05" cy="261.80" r="1.45" fill="#580b09"/>
<circle cx="479.32" cy="261.80" r="1.45" fill="#580b09"/>
<circle cx="483.59" cy="261.80" r="1.45" fill="#580b09"/>
<circle cx="487.86" cy="261.80" r="1.45" fill="#921711"/>
<circle cx="492.13" cy="261.80" r="1.45" fill="#6f0f0c"/>
<circle cx="496.40" cy="261.80" r="1.45" fill="#620d0a"/>
<circle cx="500.67" cy="261.80" r="1.45" fill="#580b09"/>
<circle cx="504.94" cy="261.80" r="1.45" fill="#6f0f0c"/>
<circle cx="509.21" cy="261.80" r="1.45" fill="#580b09"/>
<circle cx="513.48" cy="261.80" r="1.45" fill="#580b09"/>
<circle cx="517.75" cy="261.80" r="1.45" fill="#500908"/>
<circle cx="522.02" cy="261.80" r="1.45" fill="#921711"/>
<circle cx="526.29" cy="261.80" r="1.45" fill="#6f0f0c"/>
<circle cx="530.56" cy="261.80" r="1.45" fill="#6f0f0c"/>
<circle cx="534.83" cy="261.80" r="1.45" fill="#580b09"/>
<circle cx="539.10" cy="261.80" r="1.45" fill="#7f130e"/>
<circle cx="543.37" cy="261.80" r="1.45" fill="#6f0f0c"/>
<circle cx="547.64" cy="261.80" r="1.45" fill="#580b09"/>
<circle cx="551.91" cy="261.80" r="1.45" fill="#500908"/>
<circle cx="556.18" cy="261.80" r="1.45" fill="#6f0f0c"/>
<circle cx="560.45" cy="261.80" r="1.45" fill="#580b09"/>
<circle cx="564.72" cy="261.80" r="1.45" fill="#580b09"/>
<circle cx="568.99" cy="261.80" r="1.45" fill="#500908"/>
<circle cx="573.26" cy="261.80" r="1.45" fill="#921711"/>
<circle cx="577.53" cy="261.80" r="1.45" fill="#6f0f0c"/>
<circle cx="581.80" cy="261.80" r="1.45" fill="#620d0a"/>
<circle cx="586.07" cy="261.80" r="1.45" fill="#580b09"/>
<circle cx="590.34" cy="261.80" r="1.45" fill="#7f130e"/>
<circle cx="594.61" cy="261.80" r="1.45" fill="#6f0f0c"/>
<circle cx="598.88" cy="261.80" r="1.45" fill="#580b09"/>
<circle cx="603.15" cy="261.80" r="1.45" fill="#520908"/>
<circle cx="607.42" cy="261.80" r="1.45" fill="#6f0f0c"/>
<circle cx="611.69" cy="261.80" r="1.45" fill="#580b09"/>
<circle cx="615.96" cy="261.80" r="1.45" fill="#520908"/>
<circle cx="620.23" cy="261.80" r="1.45" fill="#500908"/>
<circle cx="453.70" cy="266.00" r="1.45" fill="#580b09"/>
<circle cx="457.97" cy="266.00" r="1.45" fill="#580b09"/>
<circle cx="462.24" cy="266.00" r="1.45" fill="#500908"/>
<circle cx="466.51" cy="266.00" r="1.45" fill="#500908"/>
<circle cx="470.78" cy="266.00" r="1.45" fill="#6f0f0c"/>
<circle cx="475.05" cy="266.00" r="1.45" fill="#580b09"/>
<circle cx="479.32" cy="266.00" r="1.45" fill="#580b09"/>
<circle cx="483.59" cy="266.00" r="1.45" fill="#580b09"/>
<circle cx="487.86" cy="266.00" r="1.45" fill="#921711"/>
<circle cx="492.13" cy="266.00" r="1.45" fill="#6f0f0c"/>
<circle cx="496.40" cy="266.00" r="1.45" fill="#620d0a"/>
<circle cx="500.67" cy="266.00" r="1.45" fill="#580b09"/>
<circle cx="504.94" cy="266.00" r="1.45" fill="#6f0f0c"/>
<circle cx="509.21" cy="266.00" r="1.45" fill="#580b09"/>
<circle cx="513.48" cy="266.00" r="1.45" fill="#580b09"/>
<circle cx="517.75" cy="266.00" r="1.45" fill="#500908"/>
<circle cx="522.02" cy="266.00" r="1.45" fill="#921711"/>
<circle cx="526.29" cy="266.00" r="1.45" fill="#6f0f0c"/>
<circle cx="530.56" cy="266.00" r="1.45" fill="#6f0f0c"/>
<circle cx="534.83" cy="266.00" r="1.45" fill="#580b09"/>
<circle cx="539.10" cy="266.00" r="1.45" fill="#7f130e"/>
<circle cx="543.37" cy="266.00" r="1.45" fill="#6f0f0c"/>
<circle cx="547.64" cy="266.00" r="1.45" fill="#580b09"/>
<circle cx="551.91" cy="266.00" r="1.45" fill="#500908"/>
<circle cx="556.18" cy="266.00" r="1.45" fill="#6f0f0c"/>
<circle cx="560.45" cy="266.00" r="1.45" fill="#580b09"/>
<circle cx="564.72" cy="266.00" r="1.45" fill="#580b09"/>
<circle cx="568.99" cy="266.00" r="1.45" fill="#500908"/>
<circle cx="573.26" cy="266.00" r="1.45" fill="#921711"/>
<circle cx="577.53" cy="266.00" r="1.45" fill="#6f0f0c"/>
<circle cx="581.80" cy="266.00" r="1.45" fill="#620d0a"/>
<circle cx="586.07" cy="266.00" r="1.45" fill="#580b09"/>
<circle cx="590.34" cy="266.00" r="1.45" fill="#7f130e"/>
<circle cx="594.61" cy="266.00" r="1.45" fill="#6f0f0c"/>
<circle cx="598.88" cy="266.00" r="1.45" fill="#580b09"/>
<circle cx="603.15" cy="266.00" r="1.45" fill="#520908"/>
<circle cx="607.42" cy="266.00" r="1.45" fill="#6f0f0c"/>
<circle cx="611.69" cy="266.00" r="1.45" fill="#580b09"/>
<circle cx="615.96" cy="266.00" r="1.45" fill="#520908"/>
<circle cx="620.23" cy="266.00" r="1.45" fill="#500908"/>
<circle cx="453.70" cy="270.20" r="1.45" fill="#c32118"/>
<circle cx="457.97" cy="270.20" r="1.45" fill="#921711"/>
<circle cx="462.24" cy="270.20" r="1.45" fill="#6f0f0c"/>
<circle cx="466.51" cy="270.20" r="1.45" fill="#580b09"/>
<circle cx="470.78" cy="270.20" r="1.45" fill="#921711"/>
<circle cx="475.05" cy="270.20" r="1.45" fill="#6f0f0c"/>
<circle cx="479.32" cy="270.20" r="1.45" fill="#580b09"/>
<circle cx="483.59" cy="270.20" r="1.45" fill="#580b09"/>
<circle cx="487.86" cy="270.20" r="1.45" fill="#c32118"/>
<circle cx="492.13" cy="270.20" r="1.45" fill="#921711"/>
<circle cx="496.40" cy="270.20" r="1.45" fill="#6f0f0c"/>
<circle cx="500.67" cy="270.20" r="1.45" fill="#580b09"/>
<circle cx="504.94" cy="270.20" r="1.45" fill="#c32118"/>
<circle cx="509.21" cy="270.20" r="1.45" fill="#921711"/>
<circle cx="513.48" cy="270.20" r="1.45" fill="#6f0f0c"/>
<circle cx="517.75" cy="270.20" r="1.45" fill="#580b09"/>
<circle cx="522.02" cy="270.20" r="1.45" fill="#c32118"/>
<circle cx="526.29" cy="270.20" r="1.45" fill="#921711"/>
<circle cx="530.56" cy="270.20" r="1.45" fill="#6f0f0c"/>
<circle cx="534.83" cy="270.20" r="1.45" fill="#580b09"/>
<circle cx="539.10" cy="270.20" r="1.45" fill="#a91c14"/>
<circle cx="543.37" cy="270.20" r="1.45" fill="#921711"/>
<circle cx="547.64" cy="270.20" r="1.45" fill="#620d0a"/>
<circle cx="551.91" cy="270.20" r="1.45" fill="#580b09"/>
<circle cx="556.18" cy="270.20" r="1.45" fill="#6f0f0c"/>
<circle cx="560.45" cy="270.20" r="1.45" fill="#580b09"/>
<circle cx="564.72" cy="270.20" r="1.45" fill="#580b09"/>
<circle cx="568.99" cy="270.20" r="1.45" fill="#500908"/>
<circle cx="573.26" cy="270.20" r="1.45" fill="#921711"/>
<circle cx="577.53" cy="270.20" r="1.45" fill="#6f0f0c"/>
<circle cx="581.80" cy="270.20" r="1.45" fill="#620d0a"/>
<circle cx="586.07" cy="270.20" r="1.45" fill="#580b09"/>
<circle cx="590.34" cy="270.20" r="1.45" fill="#7f130e"/>
<circle cx="594.61" cy="270.20" r="1.45" fill="#620d0a"/>
<circle cx="598.88" cy="270.20" r="1.45" fill="#580b09"/>
<circle cx="603.15" cy="270.20" r="1.45" fill="#500908"/>
<circle cx="607.42" cy="270.20" r="1.45" fill="#6f0f0c"/>
<circle cx="611.69" cy="270.20" r="1.45" fill="#620d0a"/>
<circle cx="615.96" cy="270.20" r="1.45" fill="#580b09"/>
<circle cx="620.23" cy="270.20" r="1.45" fill="#500908"/>
<circle cx="453.70" cy="274.40" r="1.45" fill="#c32118"/>
<circle cx="457.97" cy="274.40" r="1.45" fill="#921711"/>
<circle cx="462.24" cy="274.40" r="1.45" fill="#6f0f0c"/>
<circle cx="466.51" cy="274.40" r="1.45" fill="#580b09"/>
<circle cx="470.78" cy="274.40" r="1.45" fill="#921711"/>
<circle cx="475.05" cy="274.40" r="1.45" fill="#6f0f0c"/>
<circle cx="479.32" cy="274.40" r="1.45" fill="#580b09"/>
<circle cx="483.59" cy="274.40" r="1.45" fill="#580b09"/>
<circle cx="487.86" cy="274.40" r="1.45" fill="#c32118"/>
<circle cx="492.13" cy="274.40" r="1.45" fill="#921711"/>
<circle cx="496.40" cy="274.40" r="1.45" fill="#6f0f0c"/>
<circle cx="500.67" cy="274.40" r="1.45" fill="#580b09"/>
<circle cx="504.94" cy="274.40" r="1.45" fill="#c32118"/>
<circle cx="509.21" cy="274.40" r="1.45" fill="#921711"/>
<circle cx="513.48" cy="274.40" r="1.45" fill="#6f0f0c"/>
<circle cx="517.75" cy="274.40" r="1.45" fill="#580b09"/>
<circle cx="522.02" cy="274.40" r="1.45" fill="#c32118"/>
<circle cx="526.29" cy="274.40" r="1.45" fill="#921711"/>
<circle cx="530.56" cy="274.40" r="1.45" fill="#6f0f0c"/>
<circle cx="534.83" cy="274.40" r="1.45" fill="#580b09"/>
<circle cx="539.10" cy="274.40" r="1.45" fill="#a91c14"/>
<circle cx="543.37" cy="274.40" r="1.45" fill="#921711"/>
<circle cx="547.64" cy="274.40" r="1.45" fill="#620d0a"/>
<circle cx="551.91" cy="274.40" r="1.45" fill="#580b09"/>
<circle cx="556.18" cy="274.40" r="1.45" fill="#6f0f0c"/>
<circle cx="560.45" cy="274.40" r="1.45" fill="#580b09"/>
<circle cx="564.72" cy="274.40" r="1.45" fill="#580b09"/>
<circle cx="568.99" cy="274.40" r="1.45" fill="#500908"/>
<circle cx="573.26" cy="274.40" r="1.45" fill="#921711"/>
<circle cx="577.53" cy="274.40" r="1.45" fill="#6f0f0c"/>
<circle cx="581.80" cy="274.40" r="1.45" fill="#620d0a"/>
<circle cx="586.07" cy="274.40" r="1.45" fill="#580b09"/>
<circle cx="590.34" cy="274.40" r="1.45" fill="#7f130e"/>
<circle cx="594.61" cy="274.40" r="1.45" fill="#620d0a"/>
<circle cx="598.88" cy="274.40" r="1.45" fill="#580b09"/>
<circle cx="603.15" cy="274.40" r="1.45" fill="#500908"/>
<circle cx="607.42" cy="274.40" r="1.45" fill="#6f0f0c"/>
<circle cx="611.69" cy="274.40" r="1.45" fill="#620d0a"/>
<circle cx="615.96" cy="274.40" r="1.45" fill="#580b09"/>
<circle cx="620.23" cy="274.40" r="1.45" fill="#500908"/>
<circle cx="453.70" cy="278.60" r="1.45" fill="#6f0f0c"/>
<circle cx="457.97" cy="278.60" r="1.45" fill="#6f0f0c"/>
<circle cx="462.24" cy="278.60" r="1.45" fill="#580b09"/>
<circle cx="466.51" cy="278.60" r="1.45" fill="#500908"/>
<circle cx="470.78" cy="278.60" r="1.45" fill="#6f0f0c"/>
<circle cx="475.05" cy="278.60" r="1.45" fill="#580b09"/>
<circle cx="479.32" cy="278.60" r="1.45" fill="#580b09"/>
<circle cx="483.59" cy="278.60" r="1.45" fill="#500908"/>
<circle cx="487.86" cy="278.60" r="1.45" fill="#6f0f0c"/>
<circle cx="492.13" cy="278.60" r="1.45" fill="#580b09"/>
<circle cx="496.40" cy="278.60" r="1.45" fill="#580b09"/>
<circle cx="500.67" cy="278.60" r="1.45" fill="#520908"/>
<circle cx="504.94" cy="278.60" r="1.45" fill="#a91c14"/>
<circle cx="509.21" cy="278.60" r="1.45" fill="#921711"/>
<circle cx="513.48" cy="278.60" r="1.45" fill="#6f0f0c"/>
<circle cx="517.75" cy="278.60" r="1.45" fill="#580b09"/>
<circle cx="522.02" cy="278.60" r="1.45" fill="#921711"/>
<circle cx="526.29" cy="278.60" r="1.45" fill="#921711"/>
<circle cx="530.56" cy="278.60" r="1.45" fill="#6f0f0c"/>
<circle cx="534.83" cy="278.60" r="1.45" fill="#580b09"/>
<circle cx="539.10" cy="278.60" r="1.45" fill="#a91c14"/>
<circle cx="543.37" cy="278.60" r="1.45" fill="#921711"/>
<circle cx="547.64" cy="278.60" r="1.45" fill="#6f0f0c"/>
<circle cx="551.91" cy="278.60" r="1.45" fill="#580b09"/>
<circle cx="556.18" cy="278.60" r="1.45" fill="#921711"/>
<circle cx="560.45" cy="278.60" r="1.45" fill="#7f130e"/>
<circle cx="564.72" cy="278.60" r="1.45" fill="#6f0f0c"/>
<circle cx="568.99" cy="278.60" r="1.45" fill="#580b09"/>
<circle cx="573.26" cy="278.60" r="1.45" fill="#921711"/>
<circle cx="577.53" cy="278.60" r="1.45" fill="#6f0f0c"/>
<circle cx="581.80" cy="278.60" r="1.45" fill="#580b09"/>
<circle cx="586.07" cy="278.60" r="1.45" fill="#520908"/>
<circle cx="590.34" cy="278.60" r="1.45" fill="#620d0a"/>
<circle cx="594.61" cy="278.60" r="1.45" fill="#580b09"/>
<circle cx="598.88" cy="278.60" r="1.45" fill="#520908"/>
<circle cx="603.15" cy="278.60" r="1.45" fill="#500908"/>
<circle cx="607.42" cy="278.60" r="1.45" fill="#580b09"/>
<circle cx="611.69" cy="278.60" r="1.45" fill="#520908"/>
<circle cx="615.96" cy="278.60" r="1.45" fill="#520908"/>
<circle cx="620.23" cy="278.60" r="1.45" fill="#500908"/>
<circle cx="453.70" cy="282.80" r="1.45" fill="#6f0f0c"/>
<circle cx="457.97" cy="282.80" r="1.45" fill="#6f0f0c"/>
<circle cx="462.24" cy="282.80" r="1.45" fill="#580b09"/>
<circle cx="466.51" cy="282.80" r="1.45" fill="#500908"/>
<circle cx="470.78" cy="282.80" r="1.45" fill="#6f0f0c"/>
<circle cx="475.05" cy="282.80" r="1.45" fill="#580b09"/>
<circle cx="479.32" cy="282.80" r="1.45" fill="#580b09"/>
<circle cx="483.59" cy="282.80" r="1.45" fill="#500908"/>
<circle cx="487.86" cy="282.80" r="1.45" fill="#6f0f0c"/>
<circle cx="492.13" cy="282.80" r="1.45" fill="#580b09"/>
<circle cx="496.40" cy="282.80" r="1.45" fill="#580b09"/>
<circle cx="500.67" cy="282.80" r="1.45" fill="#520908"/>
<circle cx="504.94" cy="282.80" r="1.45" fill="#a91c14"/>
<circle cx="509.21" cy="282.80" r="1.45" fill="#921711"/>
<circle cx="513.48" cy="282.80" r="1.45" fill="#6f0f0c"/>
<circle cx="517.75" cy="282.80" r="1.45" fill="#580b09"/>
<circle cx="522.02" cy="282.80" r="1.45" fill="#921711"/>
<circle cx="526.29" cy="282.80" r="1.45" fill="#921711"/>
<circle cx="530.56" cy="282.80" r="1.45" fill="#6f0f0c"/>
<circle cx="534.83" cy="282.80" r="1.45" fill="#580b09"/>
<circle cx="539.10" cy="282.80" r="1.45" fill="#a91c14"/>
<circle cx="543.37" cy="282.80" r="1.45" fill="#921711"/>
<circle cx="547.64" cy="282.80" r="1.45" fill="#6f0f0c"/>
<circle cx="551.91" cy="282.80" r="1.45" fill="#580b09"/>
<circle cx="556.18" cy="282.80" r="1.45" fill="#921711"/>
<circle cx="560.45" cy="282.80" r="1.45" fill="#7f130e"/>
<circle cx="564.72" cy="282.80" r="1.45" fill="#6f0f0c"/>
<circle cx="568.99" cy="282.80" r="1.45" fill="#580b09"/>
<circle cx="573.26" cy="282.80" r="1.45" fill="#921711"/>
<circle cx="577.53" cy="282.80" r="1.45" fill="#6f0f0c"/>
<circle cx="581.80" cy="282.80" r="1.45" fill="#580b09"/>
<circle cx="586.07" cy="282.80" r="1.45" fill="#520908"/>
<circle cx="590.34" cy="282.80" r="1.45" fill="#620d0a"/>
<circle cx="594.61" cy="282.80" r="1.45" fill="#580b09"/>
<circle cx="598.88" cy="282.80" r="1.45" fill="#520908"/>
<circle cx="603.15" cy="282.80" r="1.45" fill="#500908"/>
<circle cx="607.42" cy="282.80" r="1.45" fill="#580b09"/>
<circle cx="611.69" cy="282.80" r="1.45" fill="#520908"/>
<circle cx="615.96" cy="282.80" r="1.45" fill="#520908"/>
<circle cx="620.23" cy="282.80" r="1.45" fill="#500908"/>
<circle cx="453.70" cy="287.00" r="1.45" fill="#6f0f0c"/>
<circle cx="457.97" cy="287.00" r="1.45" fill="#6f0f0c"/>
<circle cx="462.24" cy="287.00" r="1.45" fill="#580b09"/>
<circle cx="466.51" cy="287.00" r="1.45" fill="#580b09"/>
<circle cx="470.78" cy="287.00" r="1.45" fill="#500908"/>
<circle cx="475.05" cy="287.00" r="1.45" fill="#500908"/>
<circle cx="479.32" cy="287.00" r="1.45" fill="#500908"/>
<circle cx="483.59" cy="287.00" r="1.45" fill="#500908"/>
<circle cx="487.86" cy="287.00" r="1.45" fill="#6f0f0c"/>
<circle cx="492.13" cy="287.00" r="1.45" fill="#580b09"/>
<circle cx="496.40" cy="287.00" r="1.45" fill="#580b09"/>
<circle cx="500.67" cy="287.00" r="1.45" fill="#520908"/>
<circle cx="504.94" cy="287.00" r="1.45" fill="#921711"/>
<circle cx="509.21" cy="287.00" r="1.45" fill="#921711"/>
<circle cx="513.48" cy="287.00" r="1.45" fill="#6f0f0c"/>
<circle cx="517.75" cy="287.00" r="1.45" fill="#580b09"/>
<circle cx="522.02" cy="287.00" r="1.45" fill="#6f0f0c"/>
<circle cx="526.29" cy="287.00" r="1.45" fill="#6f0f0c"/>
<circle cx="530.56" cy="287.00" r="1.45" fill="#580b09"/>
<circle cx="534.83" cy="287.00" r="1.45" fill="#580b09"/>
<circle cx="539.10" cy="287.00" r="1.45" fill="#620d0a"/>
<circle cx="543.37" cy="287.00" r="1.45" fill="#580b09"/>
<circle cx="547.64" cy="287.00" r="1.45" fill="#500908"/>
<circle cx="551.91" cy="287.00" r="1.45" fill="#500908"/>
<circle cx="556.18" cy="287.00" r="1.45" fill="#620d0a"/>
<circle cx="560.45" cy="287.00" r="1.45" fill="#580b09"/>
<circle cx="564.72" cy="287.00" r="1.45" fill="#500908"/>
<circle cx="568.99" cy="287.00" r="1.45" fill="#500908"/>
<circle cx="573.26" cy="287.00" r="1.45" fill="#620d0a"/>
<circle cx="577.53" cy="287.00" r="1.45" fill="#580b09"/>
<circle cx="581.80" cy="287.00" r="1.45" fill="#520908"/>
<circle cx="586.07" cy="287.00" r="1.45" fill="#500908"/>
<circle cx="590.34" cy="287.00" r="1.45" fill="#ff2e20"/>
<circle cx="594.61" cy="287.00" r="1.45" fill="#ff2e20"/>
<circle cx="598.88" cy="287.00" r="1.45" fill="#df271c"/>
<circle cx="603.15" cy="287.00" r="1.45" fill="#c32118"/>
<circle cx="607.42" cy="287.00" r="1.45" fill="#921711"/>
<circle cx="611.69" cy="287.00" r="1.45" fill="#7f130e"/>
<circle cx="615.96" cy="287.00" r="1.45" fill="#620d0a"/>
<circle cx="620.23" cy="287.00" r="1.45" fill="#580b09"/>
<circle cx="453.70" cy="291.20" r="1.45" fill="#6f0f0c"/>
<circle cx="457.97" cy="291.20" r="1.45" fill="#6f0f0c"/>
<circle cx="462.24" cy="291.20" r="1.45" fill="#580b09"/>
<circle cx="466.51" cy="291.20" r="1.45" fill="#580b09"/>
<circle cx="470.78" cy="291.20" r="1.45" fill="#500908"/>
<circle cx="475.05" cy="291.20" r="1.45" fill="#500908"/>
<circle cx="479.32" cy="291.20" r="1.45" fill="#500908"/>
<circle cx="483.59" cy="291.20" r="1.45" fill="#500908"/>
<circle cx="487.86" cy="291.20" r="1.45" fill="#6f0f0c"/>
<circle cx="492.13" cy="291.20" r="1.45" fill="#580b09"/>
<circle cx="496.40" cy="291.20" r="1.45" fill="#580b09"/>
<circle cx="500.67" cy="291.20" r="1.45" fill="#520908"/>
<circle cx="504.94" cy="291.20" r="1.45" fill="#921711"/>
<circle cx="509.21" cy="291.20" r="1.45" fill="#921711"/>
<circle cx="513.48" cy="291.20" r="1.45" fill="#6f0f0c"/>
<circle cx="517.75" cy="291.20" r="1.45" fill="#580b09"/>
<circle cx="522.02" cy="291.20" r="1.45" fill="#6f0f0c"/>
<circle cx="526.29" cy="291.20" r="1.45" fill="#6f0f0c"/>
<circle cx="530.56" cy="291.20" r="1.45" fill="#580b09"/>
<circle cx="534.83" cy="291.20" r="1.45" fill="#580b09"/>
<circle cx="539.10" cy="291.20" r="1.45" fill="#620d0a"/>
<circle cx="543.37" cy="291.20" r="1.45" fill="#580b09"/>
<circle cx="547.64" cy="291.20" r="1.45" fill="#500908"/>
<circle cx="551.91" cy="291.20" r="1.45" fill="#500908"/>
<circle cx="556.18" cy="291.20" r="1.45" fill="#620d0a"/>
<circle cx="560.45" cy="291.20" r="1.45" fill="#580b09"/>
<circle cx="564.72" cy="291.20" r="1.45" fill="#500908"/>
<circle cx="568.99" cy="291.20" r="1.45" fill="#500908"/>
<circle cx="573.26" cy="291.20" r="1.45" fill="#620d0a"/>
<circle cx="577.53" cy="291.20" r="1.45" fill="#580b09"/>
<circle cx="581.80" cy="291.20" r="1.45" fill="#520908"/>
<circle cx="586.07" cy="291.20" r="1.45" fill="#500908"/>
<circle cx="590.34" cy="291.20" r="1.45" fill="#ff2e20"/>
<circle cx="594.61" cy="291.20" r="1.45" fill="#ff2e20"/>
<circle cx="598.88" cy="291.20" r="1.45" fill="#df271c"/>
<circle cx="603.15" cy="291.20" r="1.45" fill="#c32118"/>
<circle cx="607.42" cy="291.20" r="1.45" fill="#921711"/>
<circle cx="611.69" cy="291.20" r="1.45" fill="#7f130e"/>
<circle cx="615.96" cy="291.20" r="1.45" fill="#620d0a"/>
<circle cx="620.23" cy="291.20" r="1.45" fill="#580b09"/>
<circle cx="453.70" cy="295.40" r="1.45" fill="#580b09"/>
<circle cx="457.97" cy="295.40" r="1.45" fill="#580b09"/>
<circle cx="462.24" cy="295.40" r="1.45" fill="#580b09"/>
<circle cx="466.51" cy="295.40" r="1.45" fill="#500908"/>
<circle cx="470.78" cy="295.40" r="1.45" fill="#6f0f0c"/>
<circle cx="475.05" cy="295.40" r="1.45" fill="#580b09"/>
<circle cx="479.32" cy="295.40" r="1.45" fill="#580b09"/>
<circle cx="483.59" cy="295.40" r="1.45" fill="#500908"/>
<circle cx="487.86" cy="295.40" r="1.45" fill="#580b09"/>
<circle cx="492.13" cy="295.40" r="1.45" fill="#580b09"/>
<circle cx="496.40" cy="295.40" r="1.45" fill="#520908"/>
<circle cx="500.67" cy="295.40" r="1.45" fill="#500908"/>
<circle cx="504.94" cy="295.40" r="1.45" fill="#6f0f0c"/>
<circle cx="509.21" cy="295.40" r="1.45" fill="#580b09"/>
<circle cx="513.48" cy="295.40" r="1.45" fill="#580b09"/>
<circle cx="517.75" cy="295.40" r="1.45" fill="#500908"/>
<circle cx="522.02" cy="295.40" r="1.45" fill="#6f0f0c"/>
<circle cx="526.29" cy="295.40" r="1.45" fill="#580b09"/>
<circle cx="530.56" cy="295.40" r="1.45" fill="#580b09"/>
<circle cx="534.83" cy="295.40" r="1.45" fill="#500908"/>
<circle cx="539.10" cy="295.40" r="1.45" fill="#6f0f0c"/>
<circle cx="543.37" cy="295.40" r="1.45" fill="#580b09"/>
<circle cx="547.64" cy="295.40" r="1.45" fill="#580b09"/>
<circle cx="551.91" cy="295.40" r="1.45" fill="#500908"/>
<circle cx="556.18" cy="295.40" r="1.45" fill="#7f130e"/>
<circle cx="560.45" cy="295.40" r="1.45" fill="#6f0f0c"/>
<circle cx="564.72" cy="295.40" r="1.45" fill="#580b09"/>
<circle cx="568.99" cy="295.40" r="1.45" fill="#500908"/>
<circle cx="573.26" cy="295.40" r="1.45" fill="#6f0f0c"/>
<circle cx="577.53" cy="295.40" r="1.45" fill="#580b09"/>
<circle cx="581.80" cy="295.40" r="1.45" fill="#520908"/>
<circle cx="586.07" cy="295.40" r="1.45" fill="#500908"/>
<circle cx="590.34" cy="295.40" r="1.45" fill="#620d0a"/>
<circle cx="594.61" cy="295.40" r="1.45" fill="#580b09"/>
<circle cx="598.88" cy="295.40" r="1.45" fill="#520908"/>
<circle cx="603.15" cy="295.40" r="1.45" fill="#500908"/>
<circle cx="607.42" cy="295.40" r="1.45" fill="#6f0f0c"/>
<circle cx="611.69" cy="295.40" r="1.45" fill="#620d0a"/>
<circle cx="615.96" cy="295.40" r="1.45" fill="#580b09"/>
<circle cx="620.23" cy="295.40" r="1.45" fill="#520908"/>
<circle cx="453.70" cy="299.60" r="1.45" fill="#580b09"/>
<circle cx="457.97" cy="299.60" r="1.45" fill="#580b09"/>
<circle cx="462.24" cy="299.60" r="1.45" fill="#580b09"/>
<circle cx="466.51" cy="299.60" r="1.45" fill="#500908"/>
<circle cx="470.78" cy="299.60" r="1.45" fill="#6f0f0c"/>
<circle cx="475.05" cy="299.60" r="1.45" fill="#580b09"/>
<circle cx="479.32" cy="299.60" r="1.45" fill="#580b09"/>
<circle cx="483.59" cy="299.60" r="1.45" fill="#500908"/>
<circle cx="487.86" cy="299.60" r="1.45" fill="#580b09"/>
<circle cx="492.13" cy="299.60" r="1.45" fill="#580b09"/>
<circle cx="496.40" cy="299.60" r="1.45" fill="#520908"/>
<circle cx="500.67" cy="299.60" r="1.45" fill="#500908"/>
<circle cx="504.94" cy="299.60" r="1.45" fill="#6f0f0c"/>
<circle cx="509.21" cy="299.60" r="1.45" fill="#580b09"/>
<circle cx="513.48" cy="299.60" r="1.45" fill="#580b09"/>
<circle cx="517.75" cy="299.60" r="1.45" fill="#500908"/>
<circle cx="522.02" cy="299.60" r="1.45" fill="#6f0f0c"/>
<circle cx="526.29" cy="299.60" r="1.45" fill="#580b09"/>
<circle cx="530.56" cy="299.60" r="1.45" fill="#580b09"/>
<circle cx="534.83" cy="299.60" r="1.45" fill="#500908"/>
<circle cx="539.10" cy="299.60" r="1.45" fill="#6f0f0c"/>
<circle cx="543.37" cy="299.60" r="1.45" fill="#580b09"/>
<circle cx="547.64" cy="299.60" r="1.45" fill="#580b09"/>
<circle cx="551.91" cy="299.60" r="1.45" fill="#500908"/>
<circle cx="556.18" cy="299.60" r="1.45" fill="#7f130e"/>
<circle cx="560.45" cy="299.60" r="1.45" fill="#6f0f0c"/>
<circle cx="564.72" cy="299.60" r="1.45" fill="#580b09"/>
<circle cx="568.99" cy="299.60" r="1.45" fill="#500908"/>
<circle cx="573.26" cy="299.60" r="1.45" fill="#6f0f0c"/>
<circle cx="577.53" cy="299.60" r="1.45" fill="#580b09"/>
<circle cx="581.80" cy="299.60" r="1.45" fill="#520908"/>
<circle cx="586.07" cy="299.60" r="1.45" fill="#500908"/>
<circle cx="590.34" cy="299.60" r="1.45" fill="#620d0a"/>
<circle cx="594.61" cy="299.60" r="1.45" fill="#580b09"/>
<circle cx="598.88" cy="299.60" r="1.45" fill="#520908"/>
<circle cx="603.15" cy="299.60" r="1.45" fill="#500908"/>
<circle cx="607.42" cy="299.60" r="1.45" fill="#6f0f0c"/>
<circle cx="611.69" cy="299.60" r="1.45" fill="#620d0a"/>
<circle cx="615.96" cy="299.60" r="1.45" fill="#580b09"/>
<circle cx="620.23" cy="299.60" r="1.45" fill="#520908"/>
<circle cx="415.2" cy="255.6" r="5.9" fill="none" stroke="#d0d0d0" stroke-width="0.6"/>
<path d="M372,241.5 L409,249 M386,278 L408,264" stroke="#333" stroke-width="0.6"/>
<circle cx="367.7" cy="262.5" r="24" fill="#1b4614" stroke="#0e2a0a" stroke-width="0.8"/>
<clipPath id="gcc"><circle cx="367.7" cy="262.5" r="23.6"/></clipPath><g clip-path="url(#gcc)">
<circle cx="351.0" cy="246.4" r="5.6" fill="#38862a"/>
<circle cx="368.2" cy="246.4" r="5.6" fill="#22561a"/>
<circle cx="385.4" cy="246.4" r="5.6" fill="#28621c"/>
<circle cx="351.0" cy="262.0" r="5.6" fill="#52f032"/>
<circle cx="368.2" cy="262.0" r="5.6" fill="#48c232"/>
<circle cx="385.4" cy="262.0" r="5.6" fill="#3c9c2a"/>
<circle cx="351.0" cy="277.6" r="5.6" fill="#52f032"/>
<circle cx="368.2" cy="277.6" r="5.6" fill="#48c232"/>
<circle cx="385.4" cy="277.6" r="5.6" fill="#3c9c2a"/>
</g>
<path d="M227.5,270.1 L262.5,247.4 L301.7,260.3 L282.1,290.3 Z" fill="#6e6e6e"/>
<path d="M261.2,248.8 L262.7,245.9 L264.2,248.8 Z" fill="rgb(162,162,162)"/>
<path d="M265.0,248.9 L266.1,246.3 L267.1,248.9 Z" fill="rgb(157,157,157)"/>
<path d="M270.1,250.3 L271.0,243.9 L271.9,250.3 Z" fill="rgb(157,157,157)"/>
<path d="M260.9,250.5 L262.2,246.7 L263.5,250.5 Z" fill="rgb(179,179,179)"/>
<path d="M262.0,251.4 L263.4,245.6 L264.8,251.4 Z" fill="rgb(183,183,183)"/>
<path d="M268.7,251.7 L269.9,246.6 L271.0,251.7 Z" fill="rgb(186,186,186)"/>
<path d="M265.9,252.6 L267.7,245.7 L269.5,252.6 Z" fill="rgb(176,176,176)"/>
<path d="M268.3,252.9 L269.9,247.3 L271.5,252.9 Z" fill="rgb(184,184,184)"/>
<path d="M258.8,253.0 L259.7,247.7 L260.5,253.0 Z" fill="rgb(177,177,177)"/>
<path d="M264.6,253.7 L265.9,246.9 L267.2,253.7 Z" fill="rgb(152,152,152)"/>
<path d="M266.0,255.0 L267.1,250.3 L268.2,255.0 Z" fill="rgb(180,180,180)"/>
<path d="M258.9,255.3 L260.6,251.6 L262.3,255.3 Z" fill="rgb(157,157,157)"/>
<path d="M275.3,255.9 L276.8,252.6 L278.2,255.9 Z" fill="rgb(188,188,188)"/>
<path d="M259.9,256.3 L261.4,254.1 L262.8,256.3 Z" fill="rgb(155,155,155)"/>
<path d="M259.3,256.4 L260.3,254.5 L261.4,256.4 Z" fill="rgb(152,152,152)"/>
<path d="M267.4,256.6 L268.3,255.0 L269.2,256.6 Z" fill="rgb(155,155,155)"/>
<path d="M251.8,256.8 L253.5,249.9 L255.1,256.8 Z" fill="rgb(172,172,172)"/>
<path d="M248.9,256.9 L249.9,252.8 L250.9,256.9 Z" fill="rgb(181,181,181)"/>
<path d="M251.7,257.0 L252.8,251.2 L253.9,257.0 Z" fill="rgb(152,152,152)"/>
<path d="M268.4,257.1 L269.3,254.8 L270.3,257.1 Z" fill="rgb(183,183,183)"/>
<path d="M273.9,257.2 L275.3,252.8 L276.8,257.2 Z" fill="rgb(142,142,142)"/>
<path d="M262.4,257.2 L263.3,254.2 L264.2,257.2 Z" fill="rgb(180,180,180)"/>
<path d="M273.7,257.3 L275.2,255.3 L276.8,257.3 Z" fill="rgb(143,143,143)"/>
<path d="M287.6,257.5 L289.1,255.9 L290.5,257.5 Z" fill="rgb(140,140,140)"/>
<path d="M271.2,257.7 L272.5,253.1 L273.8,257.7 Z" fill="rgb(157,157,157)"/>
<path d="M288.2,258.0 L289.2,254.9 L290.1,258.0 Z" fill="rgb(156,156,156)"/>
<path d="M271.5,258.2 L272.9,251.9 L274.2,258.2 Z" fill="rgb(167,167,167)"/>
<path d="M250.6,258.3 L252.0,255.5 L253.4,258.3 Z" fill="rgb(141,141,141)"/>
<path d="M280.6,258.4 L281.5,255.9 L282.5,258.4 Z" fill="rgb(179,179,179)"/>
<path d="M279.5,258.6 L280.5,253.7 L281.6,258.6 Z" fill="rgb(142,142,142)"/>
<path d="M288.3,258.6 L290.1,256.0 L291.8,258.6 Z" fill="rgb(146,146,146)"/>
<path d="M286.2,258.7 L287.1,251.8 L288.0,258.7 Z" fill="rgb(154,154,154)"/>
<path d="M248.4,258.9 L250.1,253.4 L251.8,258.9 Z" fill="rgb(174,174,174)"/>
<path d="M272.8,259.5 L274.1,256.2 L275.3,259.5 Z" fill="rgb(157,157,157)"/>
<path d="M243.6,259.6 L244.5,254.1 L245.5,259.6 Z" fill="rgb(144,144,144)"/>
<path d="M265.3,259.9 L267.0,253.4 L268.6,259.9 Z" fill="rgb(188,188,188)"/>
<path d="M276.2,259.9 L278.0,256.6 L279.7,259.9 Z" fill="rgb(145,145,145)"/>
<path d="M274.3,260.3 L275.7,256.0 L277.2,260.3 Z" fill="rgb(183,183,183)"/>
<path d="M285.6,260.4 L286.8,255.4 L288.0,260.4 Z" fill="rgb(150,150,150)"/>
<path d="M300.0,260.4 L301.5,254.3 L303.0,260.4 Z" fill="rgb(175,175,175)"/>
<path d="M250.1,260.5 L251.1,257.7 L252.1,260.5 Z" fill="rgb(155,155,155)"/>
<path d="M268.2,260.7 L269.2,259.1 L270.2,260.7 Z" fill="rgb(180,180,180)"/>
<path d="M272.2,260.7 L274.0,257.4 L275.8,260.7 Z" fill="rgb(163,163,163)"/>
<path d="M277.1,260.7 L277.9,256.5 L278.8,260.7 Z" fill="rgb(170,170,170)"/>
<path d="M285.0,260.8 L286.2,258.3 L287.5,260.8 Z" fill="rgb(170,170,170)"/>
<path d="M249.6,261.1 L251.3,255.0 L252.9,261.1 Z" fill="rgb(162,162,162)"/>
<path d="M298.9,261.1 L300.3,256.0 L301.7,261.1 Z" fill="rgb(153,153,153)"/>
<path d="M280.9,261.2 L282.0,259.2 L283.1,261.2 Z" fill="rgb(161,161,161)"/>
<path d="M273.8,261.4 L275.3,255.3 L276.8,261.4 Z" fill="rgb(161,161,161)"/>
<path d="M263.7,261.6 L265.2,259.5 L266.7,261.6 Z" fill="rgb(171,171,171)"/>
<path d="M278.0,261.6 L279.7,259.9 L281.4,261.6 Z" fill="rgb(187,187,187)"/>
<path d="M299.6,261.7 L300.7,256.2 L301.7,261.7 Z" fill="rgb(148,148,148)"/>
<path d="M269.4,261.7 L270.5,257.7 L271.6,261.7 Z" fill="rgb(144,144,144)"/>
<path d="M254.7,261.8 L256.2,258.7 L257.8,261.8 Z" fill="rgb(147,147,147)"/>
<path d="M284.9,261.8 L286.5,256.8 L288.0,261.8 Z" fill="rgb(168,168,168)"/>
<path d="M278.8,262.0 L280.4,258.3 L282.0,262.0 Z" fill="rgb(179,179,179)"/>
<path d="M247.8,262.0 L249.6,257.1 L251.3,262.0 Z" fill="rgb(189,189,189)"/>
<path d="M241.0,262.0 L241.6,239.5 L243.6,238.0 L246.0,239.2 L248.4,240.5 L249.0,262.0 Z" fill="url(#prism)"/>
<path d="M241.0,262.0 L241.6,239.5 L243.6,238.0 L246.0,239.2 L248.4,240.5 L249.0,262.0 Z" fill="url(#prism2)"/>
<path d="M297.2,262.0 L298.5,259.0 L299.7,262.0 Z" fill="rgb(189,189,189)"/>
<path d="M250.3,262.1 L251.6,259.6 L252.9,262.1 Z" fill="rgb(153,153,153)"/>
<path d="M239.0,262.2 L240.5,257.2 L241.9,262.2 Z" fill="rgb(168,168,168)"/>
<path d="M247.1,262.4 L248.8,256.4 L250.5,262.4 Z" fill="rgb(167,167,167)"/>
<path d="M246.8,262.5 L247.8,259.9 L248.9,262.5 Z" fill="rgb(187,187,187)"/>
<path d="M271.8,262.7 L272.9,258.7 L274.0,262.7 Z" fill="rgb(156,156,156)"/>
<path d="M282.9,262.8 L284.1,257.1 L285.3,262.8 Z" fill="rgb(164,164,164)"/>
<path d="M290.0,263.0 L290.6,253.8 L292.6,252.3 L295.0,253.5 L297.4,254.8 L298.0,263.0 Z" fill="url(#prism)"/>
<path d="M290.0,263.0 L290.6,253.8 L292.6,252.3 L295.0,253.5 L297.4,254.8 L298.0,263.0 Z" fill="url(#prism2)"/>
<path d="M263.1,263.2 L264.7,256.9 L266.3,263.2 Z" fill="rgb(149,149,149)"/>
<path d="M250.4,263.7 L252.1,257.8 L253.8,263.7 Z" fill="rgb(163,163,163)"/>
<path d="M241.9,264.1 L243.5,257.3 L245.0,264.1 Z" fill="rgb(149,149,149)"/>
<path d="M296.0,264.3 L297.0,262.8 L298.0,264.3 Z" fill="rgb(181,181,181)"/>
<path d="M293.3,264.5 L294.3,261.6 L295.3,264.5 Z" fill="rgb(178,178,178)"/>
<path d="M266.6,264.7 L267.9,258.1 L269.2,264.7 Z" fill="rgb(160,160,160)"/>
<path d="M250.1,264.8 L251.5,258.6 L253.0,264.8 Z" fill="rgb(158,158,158)"/>
<path d="M269.9,264.8 L271.2,262.3 L272.5,264.8 Z" fill="rgb(175,175,175)"/>
<path d="M271.2,264.9 L272.3,261.4 L273.4,264.9 Z" fill="rgb(188,188,188)"/>
<path d="M276.7,264.9 L278.5,259.0 L280.2,264.9 Z" fill="rgb(187,187,187)"/>
<path d="M282.7,265.2 L284.4,259.4 L286.1,265.2 Z" fill="rgb(151,151,151)"/>
<path d="M253.0,265.4 L254.0,263.6 L255.0,265.4 Z" fill="rgb(167,167,167)"/>
<path d="M294.9,265.8 L296.6,262.6 L298.3,265.8 Z" fill="rgb(181,181,181)"/>
<path d="M278.2,266.0 L278.8,237.9 L280.7,236.4 L283.0,237.6 L285.2,238.9 L285.8,266.0 Z" fill="url(#prism)"/>
<path d="M278.2,266.0 L278.8,237.9 L280.7,236.4 L283.0,237.6 L285.2,238.9 L285.8,266.0 Z" fill="url(#prism2)"/>
<path d="M259.8,266.1 L261.1,259.3 L262.3,266.1 Z" fill="rgb(163,163,163)"/>
<path d="M241.3,266.7 L242.1,264.6 L243.0,266.7 Z" fill="rgb(177,177,177)"/>
<path d="M254.3,266.9 L256.0,260.7 L257.7,266.9 Z" fill="rgb(146,146,146)"/>
<path d="M251.7,267.1 L253.0,261.7 L254.3,267.1 Z" fill="rgb(169,169,169)"/>
<path d="M270.3,267.5 L271.3,262.9 L272.2,267.5 Z" fill="rgb(160,160,160)"/>
<path d="M269.6,267.6 L271.0,260.8 L272.4,267.6 Z" fill="rgb(145,145,145)"/>
<path d="M276.5,267.8 L277.7,263.3 L278.9,267.8 Z" fill="rgb(174,174,174)"/>
<path d="M275.7,267.9 L277.2,264.9 L278.8,267.9 Z" fill="rgb(145,145,145)"/>
<path d="M265.4,268.0 L266.1,228.1 L268.7,226.6 L271.7,227.8 L274.6,229.1 L275.4,268.0 Z" fill="url(#prism)"/>
<path d="M265.4,268.0 L266.1,228.1 L268.7,226.6 L271.7,227.8 L274.6,229.1 L275.4,268.0 Z" fill="url(#prism2)"/>
<path d="M244.4,268.1 L245.6,266.4 L246.9,268.1 Z" fill="rgb(167,167,167)"/>
<path d="M274.3,268.5 L275.7,262.3 L277.1,268.5 Z" fill="rgb(176,176,176)"/>
<path d="M244.3,268.5 L245.4,263.3 L246.5,268.5 Z" fill="rgb(176,176,176)"/>
<path d="M271.6,268.6 L273.2,261.7 L274.8,268.6 Z" fill="rgb(171,171,171)"/>
<path d="M274.2,268.7 L275.5,262.6 L276.9,268.7 Z" fill="rgb(183,183,183)"/>
<path d="M242.3,268.9 L244.1,262.8 L245.9,268.9 Z" fill="rgb(169,169,169)"/>
<path d="M266.5,269.1 L267.3,264.3 L268.1,269.1 Z" fill="rgb(159,159,159)"/>
<path d="M267.0,269.2 L268.2,265.6 L269.4,269.2 Z" fill="rgb(189,189,189)"/>
<path d="M272.6,269.3 L274.2,266.0 L275.8,269.3 Z" fill="rgb(140,140,140)"/>
<path d="M242.5,270.1 L244.0,263.6 L245.4,270.1 Z" fill="rgb(144,144,144)"/>
<path d="M292.7,270.3 L294.1,265.0 L295.5,270.3 Z" fill="rgb(159,159,159)"/>
<path d="M287.7,270.3 L288.6,266.5 L289.5,270.3 Z" fill="rgb(153,153,153)"/>
<path d="M276.0,270.4 L277.7,265.5 L279.4,270.4 Z" fill="rgb(182,182,182)"/>
<path d="M268.9,270.6 L270.2,264.8 L271.5,270.6 Z" fill="rgb(178,178,178)"/>
<path d="M250.8,270.7 L251.6,267.6 L252.5,270.7 Z" fill="rgb(145,145,145)"/>
<path d="M293.1,271.0 L294.7,265.7 L296.2,271.0 Z" fill="rgb(184,184,184)"/>
<path d="M293.5,271.1 L294.4,265.1 L295.3,271.1 Z" fill="rgb(159,159,159)"/>
<path d="M260.9,271.4 L262.3,268.9 L263.7,271.4 Z" fill="rgb(171,171,171)"/>
<path d="M276.5,271.6 L278.1,264.7 L279.8,271.6 Z" fill="rgb(186,186,186)"/>
<path d="M235.5,271.8 L236.7,266.9 L238.0,271.8 Z" fill="rgb(188,188,188)"/>
<path d="M232.0,272.0 L233.0,232.4 L236.3,230.9 L240.2,232.1 L244.0,233.4 L245.0,272.0 Z" fill="url(#prism)"/>
<path d="M232.0,272.0 L233.0,232.4 L236.3,230.9 L240.2,232.1 L244.0,233.4 L245.0,272.0 Z" fill="url(#prism2)"/>
<path d="M258.6,272.1 L259.8,269.4 L261.0,272.1 Z" fill="rgb(184,184,184)"/>
<path d="M234.6,272.1 L236.3,270.5 L238.0,272.1 Z" fill="rgb(160,160,160)"/>
<path d="M239.2,272.2 L240.1,270.1 L240.9,272.2 Z" fill="rgb(158,158,158)"/>
<path d="M269.9,272.3 L271.3,267.6 L272.7,272.3 Z" fill="rgb(149,149,149)"/>
<path d="M235.7,272.9 L236.6,268.5 L237.4,272.9 Z" fill="rgb(154,154,154)"/>
<path d="M239.4,273.0 L240.3,268.6 L241.2,273.0 Z" fill="rgb(162,162,162)"/>
<path d="M269.7,273.0 L270.3,247.7 L272.5,246.2 L275.1,247.4 L277.7,248.7 L278.3,273.0 Z" fill="url(#prism)"/>
<path d="M269.7,273.0 L270.3,247.7 L272.5,246.2 L275.1,247.4 L277.7,248.7 L278.3,273.0 Z" fill="url(#prism2)"/>
<path d="M276.5,273.6 L277.4,271.1 L278.4,273.6 Z" fill="rgb(182,182,182)"/>
<path d="M275.1,273.9 L276.5,268.4 L277.9,273.9 Z" fill="rgb(186,186,186)"/>
<path d="M277.4,274.3 L278.6,268.1 L279.8,274.3 Z" fill="rgb(160,160,160)"/>
<path d="M288.3,274.6 L289.2,267.9 L290.1,274.6 Z" fill="rgb(163,163,163)"/>
<path d="M285.9,274.7 L287.1,267.8 L288.3,274.7 Z" fill="rgb(147,147,147)"/>
<path d="M281.4,274.8 L282.3,268.9 L283.2,274.8 Z" fill="rgb(160,160,160)"/>
<path d="M279.4,274.9 L281.1,268.5 L282.8,274.9 Z" fill="rgb(185,185,185)"/>
<path d="M240.3,275.0 L241.8,271.8 L243.3,275.0 Z" fill="rgb(168,168,168)"/>
<path d="M249.2,275.2 L250.9,272.3 L252.6,275.2 Z" fill="rgb(176,176,176)"/>
<path d="M287.5,275.5 L288.5,270.4 L289.5,275.5 Z" fill="rgb(178,178,178)"/>
<path d="M243.2,275.7 L244.1,272.9 L244.9,275.7 Z" fill="rgb(183,183,183)"/>
<path d="M245.2,276.0 L246.0,228.7 L248.9,227.2 L252.2,228.4 L255.6,229.7 L256.4,276.0 Z" fill="url(#prism)"/>
<path d="M245.2,276.0 L246.0,228.7 L248.9,227.2 L252.2,228.4 L255.6,229.7 L256.4,276.0 Z" fill="url(#prism2)"/>
<path d="M262.7,276.3 L264.0,271.8 L265.3,276.3 Z" fill="rgb(157,157,157)"/>
<path d="M276.4,276.4 L277.3,273.3 L278.2,276.4 Z" fill="rgb(168,168,168)"/>
<path d="M289.3,276.4 L290.1,274.5 L290.9,276.4 Z" fill="rgb(173,173,173)"/>
<path d="M259.3,276.5 L260.7,273.9 L262.1,276.5 Z" fill="rgb(159,159,159)"/>
<path d="M282.7,276.7 L283.8,272.0 L284.9,276.7 Z" fill="rgb(169,169,169)"/>
<path d="M280.6,277.3 L281.8,275.3 L283.1,277.3 Z" fill="rgb(160,160,160)"/>
<path d="M252.4,277.5 L253.5,275.1 L254.7,277.5 Z" fill="rgb(154,154,154)"/>
<path d="M255.8,278.0 L256.5,225.6 L259.0,224.1 L261.8,225.3 L264.7,226.6 L265.4,278.0 Z" fill="url(#prism)"/>
<path d="M255.8,278.0 L256.5,225.6 L259.0,224.1 L261.8,225.3 L264.7,226.6 L265.4,278.0 Z" fill="url(#prism2)"/>
<path d="M283.0,278.0 L283.5,263.5 L285.3,262.0 L287.4,263.2 L289.5,264.5 L290.0,278.0 Z" fill="url(#prism)"/>
<path d="M283.0,278.0 L283.5,263.5 L285.3,262.0 L287.4,263.2 L289.5,264.5 L290.0,278.0 Z" fill="url(#prism2)"/>
<path d="M260.5,278.1 L262.2,274.6 L263.9,278.1 Z" fill="rgb(165,165,165)"/>
<path d="M268.8,278.4 L269.7,274.3 L270.7,278.4 Z" fill="rgb(186,186,186)"/>
<path d="M252.0,278.6 L253.0,272.6 L254.1,278.6 Z" fill="rgb(173,173,173)"/>
<path d="M281.7,279.1 L283.5,275.8 L285.2,279.1 Z" fill="rgb(155,155,155)"/>
<path d="M262.2,279.2 L263.4,274.2 L264.7,279.2 Z" fill="rgb(145,145,145)"/>
<path d="M254.3,280.0 L255.9,273.6 L257.5,280.0 Z" fill="rgb(163,163,163)"/>
<path d="M277.7,280.7 L279.4,275.1 L281.0,280.7 Z" fill="rgb(163,163,163)"/>
<path d="M261.1,280.9 L262.4,274.2 L263.6,280.9 Z" fill="rgb(141,141,141)"/>
<path d="M273.8,281.1 L275.1,276.6 L276.3,281.1 Z" fill="rgb(163,163,163)"/>
<path d="M259.9,281.6 L261.3,274.7 L262.6,281.6 Z" fill="rgb(183,183,183)"/>
<path d="M265.6,282.2 L266.8,277.8 L268.0,282.2 Z" fill="rgb(165,165,165)"/>
<path d="M283.8,282.5 L285.5,278.1 L287.2,282.5 Z" fill="rgb(177,177,177)"/>
<path d="M280.8,282.6 L281.8,281.0 L282.9,282.6 Z" fill="rgb(164,164,164)"/>
<path d="M267.4,282.7 L268.6,279.3 L269.9,282.7 Z" fill="rgb(190,190,190)"/>
<path d="M259.4,283.0 L260.0,256.3 L262.2,254.8 L264.8,256.0 L267.4,257.3 L268.0,283.0 Z" fill="url(#prism)"/>
<path d="M259.4,283.0 L260.0,256.3 L262.2,254.8 L264.8,256.0 L267.4,257.3 L268.0,283.0 Z" fill="url(#prism2)"/>
<path d="M267.8,283.8 L269.5,276.9 L271.3,283.8 Z" fill="rgb(152,152,152)"/>
<path d="M272.1,284.6 L273.1,278.7 L274.1,284.6 Z" fill="rgb(187,187,187)"/>
<path d="M279.9,285.0 L280.7,279.2 L281.5,285.0 Z" fill="rgb(176,176,176)"/>
<path d="M277.3,285.8 L278.8,279.2 L280.3,285.8 Z" fill="rgb(163,163,163)"/>
<path d="M273.4,286.0 L274.1,268.5 L276.7,267.0 L279.7,268.2 L282.6,269.5 L283.4,286.0 Z" fill="url(#prism)"/>
<path d="M273.4,286.0 L274.1,268.5 L276.7,267.0 L279.7,268.2 L282.6,269.5 L283.4,286.0 Z" fill="url(#prism2)"/>
<path d="M278.3,286.0 L280.1,284.2 L281.8,286.0 Z" fill="rgb(164,164,164)"/>
<path d="M274.7,286.5 L276.1,281.1 L277.4,286.5 Z" fill="rgb(174,174,174)"/>
<path d="M279.9,289.2 L281.5,284.3 L283.0,289.2 Z" fill="rgb(149,149,149)"/>
<path d="M48.6,207.2 L48.6,297.5 L201.7,297.5" fill="none" stroke="#9a9a9a" stroke-width="0.8"/>
<path d="M47.2,217.20 L48.6,217.20" stroke="#9a9a9a" stroke-width="0.6"/>
<text x="47.50" y="219.00" font-size="5" fill="#555" text-anchor="end" font-weight="normal" >7500</text>
<path d="M47.2,242.20 L48.6,242.20" stroke="#9a9a9a" stroke-width="0.6"/>
<text x="47.50" y="244.00" font-size="5" fill="#555" text-anchor="end" font-weight="normal" >5000</text>
<path d="M47.2,267.20 L48.6,267.20" stroke="#9a9a9a" stroke-width="0.6"/>
<text x="47.50" y="269.00" font-size="5" fill="#555" text-anchor="end" font-weight="normal" >2500</text>
<path d="M47.2,292.20 L48.6,292.20" stroke="#9a9a9a" stroke-width="0.6"/>
<text x="47.50" y="294.00" font-size="5" fill="#555" text-anchor="end" font-weight="normal" >0</text>
<text x="31.60" y="240.20" font-size="6.5" fill="#333" text-anchor="middle" font-weight="normal" transform="rotate(-90 31.6 240.2)">RAU/mg/ml</text>
<text x="125.30" y="303.60" font-size="6.5" fill="#333" text-anchor="middle" font-weight="normal" >Samples</text>
<circle cx="49.80" cy="292.20" r="1.45" fill="#d4d4d4" stroke="#8e8e8e" stroke-width="0.55"/>
<circle cx="50.95" cy="292.20" r="1.45" fill="#d4d4d4" stroke="#8e8e8e" stroke-width="0.55"/>
<circle cx="52.10" cy="291.57" r="1.45" fill="#d4d4d4" stroke="#8e8e8e" stroke-width="0.55"/>
<circle cx="53.25" cy="288.02" r="1.45" fill="#d4d4d4" stroke="#8e8e8e" stroke-width="0.55"/>
<circle cx="54.40" cy="287.35" r="1.45" fill="#d4d4d4" stroke="#8e8e8e" stroke-width="0.55"/>
<circle cx="55.55" cy="286.83" r="1.45" fill="#d4d4d4" stroke="#8e8e8e" stroke-width="0.55"/>
<circle cx="56.70" cy="286.48" r="1.45" fill="#d4d4d4" stroke="#8e8e8e" stroke-width="0.55"/>
<circle cx="57.85" cy="286.12" r="1.45" fill="#d4d4d4" stroke="#8e8e8e" stroke-width="0.55"/>
<circle cx="59.00" cy="285.77" r="1.45" fill="#d4d4d4" stroke="#8e8e8e" stroke-width="0.55"/>
<circle cx="60.15" cy="285.42" r="1.45" fill="#d4d4d4" stroke="#8e8e8e" stroke-width="0.55"/>
<circle cx="61.30" cy="285.06" r="1.45" fill="#d4d4d4" stroke="#8e8e8e" stroke-width="0.55"/>
<circle cx="62.45" cy="284.88" r="1.45" fill="#d4d4d4" stroke="#8e8e8e" stroke-width="0.55"/>
<circle cx="63.60" cy="284.72" r="1.45" fill="#d4d4d4" stroke="#8e8e8e" stroke-width="0.55"/>
<circle cx="64.75" cy="284.57" r="1.45" fill="#d4d4d4" stroke="#8e8e8e" stroke-width="0.55"/>
<circle cx="65.90" cy="284.42" r="1.45" fill="#d4d4d4" stroke="#8e8e8e" stroke-width="0.55"/>
<circle cx="67.05" cy="284.27" r="1.45" fill="#d4d4d4" stroke="#8e8e8e" stroke-width="0.55"/>
<circle cx="68.20" cy="284.12" r="1.45" fill="#d4d4d4" stroke="#8e8e8e" stroke-width="0.55"/>
<circle cx="69.35" cy="283.97" r="1.45" fill="#d4d4d4" stroke="#8e8e8e" stroke-width="0.55"/>
<circle cx="70.50" cy="283.82" r="1.45" fill="#d4d4d4" stroke="#8e8e8e" stroke-width="0.55"/>
<circle cx="71.65" cy="283.67" r="1.45" fill="#d4d4d4" stroke="#8e8e8e" stroke-width="0.55"/>
<circle cx="72.80" cy="283.52" r="1.45" fill="#d4d4d4" stroke="#8e8e8e" stroke-width="0.55"/>
<circle cx="73.95" cy="283.37" r="1.45" fill="#d4d4d4" stroke="#8e8e8e" stroke-width="0.55"/>
<circle cx="75.10" cy="283.22" r="1.45" fill="#d4d4d4" stroke="#8e8e8e" stroke-width="0.55"/>
<circle cx="76.25" cy="283.08" r="1.45" fill="#d4d4d4" stroke="#8e8e8e" stroke-width="0.55"/>
<circle cx="77.40" cy="283.00" r="1.45" fill="#d4d4d4" stroke="#8e8e8e" stroke-width="0.55"/>
<circle cx="78.55" cy="282.93" r="1.45" fill="#d4d4d4" stroke="#8e8e8e" stroke-width="0.55"/>
<circle cx="79.70" cy="282.85" r="1.45" fill="#d4d4d4" stroke="#8e8e8e" stroke-width="0.55"/>
<circle cx="80.85" cy="282.77" r="1.45" fill="#d4d4d4" stroke="#8e8e8e" stroke-width="0.55"/>
<circle cx="82.00" cy="282.69" r="1.45" fill="#d4d4d4" stroke="#8e8e8e" stroke-width="0.55"/>
<circle cx="83.15" cy="282.61" r="1.45" fill="#d4d4d4" stroke="#8e8e8e" stroke-width="0.55"/>
<circle cx="84.30" cy="282.53" r="1.45" fill="#d4d4d4" stroke="#8e8e8e" stroke-width="0.55"/>
<circle cx="85.45" cy="282.46" r="1.45" fill="#d4d4d4" stroke="#8e8e8e" stroke-width="0.55"/>
<circle cx="86.60" cy="282.38" r="1.45" fill="#d4d4d4" stroke="#8e8e8e" stroke-width="0.55"/>
<circle cx="87.75" cy="282.30" r="1.45" fill="#d4d4d4" stroke="#8e8e8e" stroke-width="0.55"/>
<circle cx="88.90" cy="282.22" r="1.45" fill="#d4d4d4" stroke="#8e8e8e" stroke-width="0.55"/>
<circle cx="90.05" cy="282.14" r="1.45" fill="#d4d4d4" stroke="#8e8e8e" stroke-width="0.55"/>
<circle cx="91.20" cy="282.06" r="1.45" fill="#d4d4d4" stroke="#8e8e8e" stroke-width="0.55"/>
<circle cx="92.35" cy="281.99" r="1.45" fill="#d4d4d4" stroke="#8e8e8e" stroke-width="0.55"/>
<circle cx="93.50" cy="281.91" r="1.45" fill="#d4d4d4" stroke="#8e8e8e" stroke-width="0.55"/>
<circle cx="94.65" cy="281.83" r="1.45" fill="#d4d4d4" stroke="#8e8e8e" stroke-width="0.55"/>
<circle cx="95.80" cy="281.75" r="1.45" fill="#d4d4d4" stroke="#8e8e8e" stroke-width="0.55"/>
<circle cx="96.95" cy="281.67" r="1.45" fill="#d4d4d4" stroke="#8e8e8e" stroke-width="0.55"/>
<circle cx="98.10" cy="281.59" r="1.45" fill="#d4d4d4" stroke="#8e8e8e" stroke-width="0.55"/>
<circle cx="99.25" cy="281.50" r="1.45" fill="#d4d4d4" stroke="#8e8e8e" stroke-width="0.55"/>
<circle cx="100.40" cy="281.41" r="1.45" fill="#d4d4d4" stroke="#8e8e8e" stroke-width="0.55"/>
<circle cx="101.55" cy="281.32" r="1.45" fill="#d4d4d4" stroke="#8e8e8e" stroke-width="0.55"/>
<circle cx="102.70" cy="281.22" r="1.45" fill="#d4d4d4" stroke="#8e8e8e" stroke-width="0.55"/>
<circle cx="103.85" cy="281.13" r="1.45" fill="#d4d4d4" stroke="#8e8e8e" stroke-width="0.55"/>
<circle cx="105.00" cy="281.04" r="1.45" fill="#d4d4d4" stroke="#8e8e8e" stroke-width="0.55"/>
<circle cx="106.15" cy="280.95" r="1.45" fill="#d4d4d4" stroke="#8e8e8e" stroke-width="0.55"/>
<circle cx="107.30" cy="280.86" r="1.45" fill="#d4d4d4" stroke="#8e8e8e" stroke-width="0.55"/>
<circle cx="108.45" cy="280.77" r="1.45" fill="#d4d4d4" stroke="#8e8e8e" stroke-width="0.55"/>
<circle cx="109.60" cy="280.67" r="1.45" fill="#d4d4d4" stroke="#8e8e8e" stroke-width="0.55"/>
<circle cx="110.75" cy="280.58" r="1.45" fill="#d4d4d4" stroke="#8e8e8e" stroke-width="0.55"/>
<circle cx="111.90" cy="280.49" r="1.45" fill="#d4d4d4" stroke="#8e8e8e" stroke-width="0.55"/>
<circle cx="113.05" cy="280.40" r="1.45" fill="#d4d4d4" stroke="#8e8e8e" stroke-width="0.55"/>
<circle cx="114.20" cy="280.31" r="1.45" fill="#d4d4d4" stroke="#8e8e8e" stroke-width="0.55"/>
<circle cx="115.35" cy="280.21" r="1.45" fill="#d4d4d4" stroke="#8e8e8e" stroke-width="0.55"/>
<circle cx="116.50" cy="280.12" r="1.45" fill="#d4d4d4" stroke="#8e8e8e" stroke-width="0.55"/>
<circle cx="117.65" cy="280.03" r="1.45" fill="#d4d4d4" stroke="#8e8e8e" stroke-width="0.55"/>
<circle cx="118.80" cy="279.94" r="1.45" fill="#d4d4d4" stroke="#8e8e8e" stroke-width="0.55"/>
<circle cx="119.95" cy="279.85" r="1.45" fill="#d4d4d4" stroke="#8e8e8e" stroke-width="0.55"/>
<circle cx="121.10" cy="279.76" r="1.45" fill="#d4d4d4" stroke="#8e8e8e" stroke-width="0.55"/>
<circle cx="122.25" cy="279.66" r="1.45" fill="#d4d4d4" stroke="#8e8e8e" stroke-width="0.55"/>
<circle cx="123.40" cy="279.57" r="1.45" fill="#d4d4d4" stroke="#8e8e8e" stroke-width="0.55"/>
<circle cx="124.55" cy="279.47" r="1.45" fill="#d4d4d4" stroke="#8e8e8e" stroke-width="0.55"/>
<circle cx="125.70" cy="279.32" r="1.45" fill="#d4d4d4" stroke="#8e8e8e" stroke-width="0.55"/>
<circle cx="126.85" cy="279.18" r="1.45" fill="#d4d4d4" stroke="#8e8e8e" stroke-width="0.55"/>
<circle cx="128.00" cy="279.04" r="1.45" fill="#d4d4d4" stroke="#8e8e8e" stroke-width="0.55"/>
<circle cx="129.15" cy="278.89" r="1.45" fill="#d4d4d4" stroke="#8e8e8e" stroke-width="0.55"/>
<circle cx="130.30" cy="278.75" r="1.45" fill="#d4d4d4" stroke="#8e8e8e" stroke-width="0.55"/>
<circle cx="131.45" cy="278.61" r="1.45" fill="#d4d4d4" stroke="#8e8e8e" stroke-width="0.55"/>
<circle cx="132.60" cy="278.46" r="1.45" fill="#d4d4d4" stroke="#8e8e8e" stroke-width="0.55"/>
<circle cx="133.75" cy="278.32" r="1.45" fill="#d4d4d4" stroke="#8e8e8e" stroke-width="0.55"/>
<circle cx="134.90" cy="278.17" r="1.45" fill="#d4d4d4" stroke="#8e8e8e" stroke-width="0.55"/>
<circle cx="136.05" cy="278.03" r="1.45" fill="#d4d4d4" stroke="#8e8e8e" stroke-width="0.55"/>
<circle cx="137.20" cy="277.89" r="1.45" fill="#d4d4d4" stroke="#8e8e8e" stroke-width="0.55"/>
<circle cx="138.35" cy="277.74" r="1.45" fill="#d4d4d4" stroke="#8e8e8e" stroke-width="0.55"/>
<circle cx="139.50" cy="277.60" r="1.45" fill="#d4d4d4" stroke="#8e8e8e" stroke-width="0.55"/>
<circle cx="140.65" cy="277.46" r="1.45" fill="#d4d4d4" stroke="#8e8e8e" stroke-width="0.55"/>
<circle cx="141.80" cy="277.31" r="1.45" fill="#d4d4d4" stroke="#8e8e8e" stroke-width="0.55"/>
<circle cx="142.95" cy="277.18" r="1.45" fill="#d4d4d4" stroke="#8e8e8e" stroke-width="0.55"/>
<circle cx="144.10" cy="277.05" r="1.45" fill="#d4d4d4" stroke="#8e8e8e" stroke-width="0.55"/>
<circle cx="145.25" cy="276.92" r="1.45" fill="#d4d4d4" stroke="#8e8e8e" stroke-width="0.55"/>
<circle cx="146.40" cy="276.78" r="1.45" fill="#d4d4d4" stroke="#8e8e8e" stroke-width="0.55"/>
<circle cx="147.55" cy="276.65" r="1.45" fill="#d4d4d4" stroke="#8e8e8e" stroke-width="0.55"/>
<circle cx="148.70" cy="276.52" r="1.45" fill="#d4d4d4" stroke="#8e8e8e" stroke-width="0.55"/>
<circle cx="149.85" cy="276.39" r="1.45" fill="#d4d4d4" stroke="#8e8e8e" stroke-width="0.55"/>
<circle cx="151.00" cy="276.26" r="1.45" fill="#d4d4d4" stroke="#8e8e8e" stroke-width="0.55"/>
<circle cx="152.15" cy="276.13" r="1.45" fill="#d4d4d4" stroke="#8e8e8e" stroke-width="0.55"/>
<circle cx="153.30" cy="275.99" r="1.45" fill="#d4d4d4" stroke="#8e8e8e" stroke-width="0.55"/>
<circle cx="154.45" cy="275.86" r="1.45" fill="#d4d4d4" stroke="#8e8e8e" stroke-width="0.55"/>
<circle cx="155.60" cy="275.63" r="1.45" fill="#d4d4d4" stroke="#8e8e8e" stroke-width="0.55"/>
<circle cx="156.75" cy="275.30" r="1.45" fill="#d4d4d4" stroke="#8e8e8e" stroke-width="0.55"/>
<circle cx="157.90" cy="274.98" r="1.45" fill="#d4d4d4" stroke="#8e8e8e" stroke-width="0.55"/>
<circle cx="159.05" cy="274.65" r="1.45" fill="#d4d4d4" stroke="#8e8e8e" stroke-width="0.55"/>
<circle cx="160.20" cy="274.32" r="1.45" fill="#d4d4d4" stroke="#8e8e8e" stroke-width="0.55"/>
<circle cx="161.35" cy="274.00" r="1.45" fill="#d4d4d4" stroke="#8e8e8e" stroke-width="0.55"/>
<circle cx="162.50" cy="273.67" r="1.45" fill="#d4d4d4" stroke="#8e8e8e" stroke-width="0.55"/>
<circle cx="163.65" cy="273.34" r="1.45" fill="#d4d4d4" stroke="#8e8e8e" stroke-width="0.55"/>
<circle cx="164.80" cy="272.94" r="1.45" fill="#d4d4d4" stroke="#8e8e8e" stroke-width="0.55"/>
<circle cx="165.95" cy="272.53" r="1.45" fill="#d4d4d4" stroke="#8e8e8e" stroke-width="0.55"/>
<circle cx="167.10" cy="272.12" r="1.45" fill="#d4d4d4" stroke="#8e8e8e" stroke-width="0.55"/>
<circle cx="168.25" cy="271.72" r="1.45" fill="#d4d4d4" stroke="#8e8e8e" stroke-width="0.55"/>
<circle cx="169.40" cy="271.31" r="1.45" fill="#d4d4d4" stroke="#8e8e8e" stroke-width="0.55"/>
<circle cx="170.55" cy="270.90" r="1.45" fill="#d4d4d4" stroke="#8e8e8e" stroke-width="0.55"/>
<circle cx="171.70" cy="269.91" r="1.45" fill="#d4d4d4" stroke="#8e8e8e" stroke-width="0.55"/>
<circle cx="172.85" cy="268.39" r="1.45" fill="#d4d4d4" stroke="#8e8e8e" stroke-width="0.55"/>
<circle cx="174.00" cy="266.88" r="1.45" fill="#d4d4d4" stroke="#8e8e8e" stroke-width="0.55"/>
<circle cx="175.15" cy="265.36" r="1.45" fill="#d4d4d4" stroke="#8e8e8e" stroke-width="0.55"/>
<circle cx="176.30" cy="264.39" r="1.45" fill="#d4d4d4" stroke="#8e8e8e" stroke-width="0.55"/>
<circle cx="177.45" cy="263.66" r="1.45" fill="#d4d4d4" stroke="#8e8e8e" stroke-width="0.55"/>
<circle cx="178.60" cy="262.92" r="1.45" fill="#d4d4d4" stroke="#8e8e8e" stroke-width="0.55"/>
<circle cx="179.75" cy="262.19" r="1.45" fill="#d4d4d4" stroke="#8e8e8e" stroke-width="0.55"/>
<circle cx="180.90" cy="261.46" r="1.45" fill="#d4d4d4" stroke="#8e8e8e" stroke-width="0.55"/>
<circle cx="182.05" cy="260.70" r="1.45" fill="#d4d4d4" stroke="#8e8e8e" stroke-width="0.55"/>
<circle cx="183.20" cy="259.93" r="1.45" fill="#d4d4d4" stroke="#8e8e8e" stroke-width="0.55"/>
<circle cx="184.35" cy="259.17" r="1.45" fill="#d4d4d4" stroke="#8e8e8e" stroke-width="0.55"/>
<circle cx="185.50" cy="258.40" r="1.45" fill="#d4d4d4" stroke="#8e8e8e" stroke-width="0.55"/>
<circle cx="186.65" cy="257.63" r="1.45" fill="#d4d4d4" stroke="#8e8e8e" stroke-width="0.55"/>
<circle cx="187.80" cy="256.87" r="1.45" fill="#d4d4d4" stroke="#8e8e8e" stroke-width="0.55"/>
<circle cx="189.30" cy="252.50" r="1.45" fill="#d4d4d4" stroke="#8e8e8e" stroke-width="0.55"/>
<circle cx="190.20" cy="250.20" r="1.45" fill="#d4d4d4" stroke="#8e8e8e" stroke-width="0.55"/>
<circle cx="191.30" cy="247.60" r="1.45" fill="#d4d4d4" stroke="#8e8e8e" stroke-width="0.55"/>
<circle cx="192.30" cy="245.50" r="1.45" fill="#d4d4d4" stroke="#8e8e8e" stroke-width="0.55"/>
<circle cx="194.50" cy="241.00" r="1.45" fill="#d4d4d4" stroke="#8e8e8e" stroke-width="0.55"/>
<circle cx="195.30" cy="239.20" r="1.45" fill="#d4d4d4" stroke="#8e8e8e" stroke-width="0.55"/>
<circle cx="196.60" cy="226.50" r="1.45" fill="#d4d4d4" stroke="#8e8e8e" stroke-width="0.55"/>
<circle cx="197.40" cy="224.50" r="1.45" fill="#d4d4d4" stroke="#8e8e8e" stroke-width="0.55"/>
<circle cx="198.10" cy="222.60" r="1.45" fill="#d4d4d4" stroke="#8e8e8e" stroke-width="0.55"/>
<circle cx="198.80" cy="221.00" r="1.45" fill="#d4d4d4" stroke="#8e8e8e" stroke-width="0.55"/>
<circle cx="200.00" cy="214.60" r="1.45" fill="#d4d4d4" stroke="#8e8e8e" stroke-width="0.55"/>
<path d="M1,312.4 L683,312.4" stroke="#444" stroke-width="1"/>
<path d="M1,549.5 L683,549.5" stroke="#555" stroke-width="0.9"/>
<path d="M338.6,312.4 L339.6,549.5 L341,798" stroke="#555" stroke-width="1" fill="none"/>
<text x="7.70" y="334.50" font-size="14" fill="#111" text-anchor="start" font-weight="normal" >B - TTNT with T-DXd by RPPA HER2 quartiles</text>
<path d="M90.7,350.6 L99.9,350.6" stroke="#4a86cf" stroke-width="1.1"/>
<text x="104.50" y="352.80" font-size="6.2" fill="#222" text-anchor="start" font-weight="normal" >LE 25%</text>
<path d="M132.1,350.6 L140.7,350.6" stroke="#e8cc50" stroke-width="1.1"/>
<text x="145.30" y="352.80" font-size="6.2" fill="#222" text-anchor="start" font-weight="normal" >GT 25%-50%</text>
<path d="M187.3,350.6 L196.5,350.6" stroke="#8c8c8c" stroke-width="1.1"/>
<text x="200.50" y="352.80" font-size="6.2" fill="#222" text-anchor="start" font-weight="normal" >GT 50%-75%</text>
<path d="M242.5,350.6 L251.7,350.6" stroke="#d24f4f" stroke-width="1.1"/>
<text x="255.70" y="352.80" font-size="6.2" fill="#222" text-anchor="start" font-weight="normal" >GT 75%</text>
<path d="M38.8,365.1 L38.8,468.5 L326.7,468.5" fill="none" stroke="#8f8f8f" stroke-width="1.1"/>
<path d="M36.4,464.34 L38.8,464.34" stroke="#8f8f8f" stroke-width="0.8"/>
<text x="34.60" y="467.84" font-size="7" fill="#333" text-anchor="end" font-weight="normal" >0.0</text>
<path d="M36.4,445.42 L38.8,445.42" stroke="#8f8f8f" stroke-width="0.8"/>
<text x="34.60" y="448.92" font-size="7" fill="#333" text-anchor="end" font-weight="normal" >0.2</text>
<path d="M36.4,426.50 L38.8,426.50" stroke="#8f8f8f" stroke-width="0.8"/>
<text x="34.60" y="430.00" font-size="7" fill="#333" text-anchor="end" font-weight="normal" >0.4</text>
<path d="M36.4,407.58 L38.8,407.58" stroke="#8f8f8f" stroke-width="0.8"/>
<text x="34.60" y="411.08" font-size="7" fill="#333" text-anchor="end" font-weight="normal" >0.6</text>
<path d="M36.4,388.66 L38.8,388.66" stroke="#8f8f8f" stroke-width="0.8"/>
<text x="34.60" y="392.16" font-size="7" fill="#333" text-anchor="end" font-weight="normal" >0.8</text>
<path d="M36.4,369.74 L38.8,369.74" stroke="#8f8f8f" stroke-width="0.8"/>
<text x="34.60" y="373.24" font-size="7" fill="#333" text-anchor="end" font-weight="normal" >1.0</text>
<path d="M51.30,468.5 L51.30,470.9" stroke="#8f8f8f" stroke-width="0.8"/>
<text x="51.30" y="477.80" font-size="7" fill="#333" text-anchor="middle" font-weight="normal" >0</text>
<path d="M103.68,468.5 L103.68,470.9" stroke="#8f8f8f" stroke-width="0.8"/>
<text x="103.68" y="477.80" font-size="7" fill="#333" text-anchor="middle" font-weight="normal" >6</text>
<path d="M156.06,468.5 L156.06,470.9" stroke="#8f8f8f" stroke-width="0.8"/>
<text x="156.06" y="477.80" font-size="7" fill="#333" text-anchor="middle" font-weight="normal" >12</text>
<path d="M208.44,468.5 L208.44,470.9" stroke="#8f8f8f" stroke-width="0.8"/>
<text x="208.44" y="477.80" font-size="7" fill="#333" text-anchor="middle" font-weight="normal" >18</text>
<path d="M260.82,468.5 L260.82,470.9" stroke="#8f8f8f" stroke-width="0.8"/>
<text x="260.82" y="477.80" font-size="7" fill="#333" text-anchor="middle" font-weight="normal" >24</text>
<path d="M313.20,468.5 L313.20,470.9" stroke="#8f8f8f" stroke-width="0.8"/>
<text x="313.20" y="477.80" font-size="7" fill="#333" text-anchor="middle" font-weight="normal" >30</text>
<text x="182.50" y="486.50" font-size="9.35" fill="#222" text-anchor="middle" font-weight="normal" >Months from TDXd</text>
<text x="20.60" y="416.40" font-size="8.4" fill="#222" text-anchor="middle" font-weight="normal" transform="rotate(-90 20.6 416.4)">Time to Next Treatment</text>
<rect x="191.2" y="369.7" width="135.60" height="41.90" fill="#bfbfbf"/>
<text x="260.80" y="375.40" font-size="6.38" fill="#1e1e1e" text-anchor="middle" font-weight="normal" >Median TTNT</text>
<text x="260.80" y="383.40" font-size="6.38" fill="#1e1e1e" text-anchor="middle" font-weight="normal" >HER2 LE 25% = 4.0 months</text>
<text x="260.80" y="391.40" font-size="6.38" fill="#1e1e1e" text-anchor="middle" font-weight="normal" >HER2 GT 25%-50% = 5.8 months</text>
<text x="260.80" y="399.40" font-size="6.38" fill="#1e1e1e" text-anchor="middle" font-weight="normal" >HER2 GT 50%-75% = 8.0 months</text>
<text x="260.80" y="407.40" font-size="6.38" fill="#1e1e1e" text-anchor="middle" font-weight="normal" >HER2 GT 75% = 9.1 months</text>
<text x="51.60" y="462.30" font-size="5.2" fill="#222" text-anchor="start" font-weight="normal" >Log Rank = 0.019</text>
<path d="M78.90,369.74 H79.50 V380.25 H94.60 V390.76 H98.60 V401.27 H108.50 V411.78 H121.10 V422.30 H152.70 V432.81 H153.70 V443.32 H259.60 V453.83 H326.80" fill="none" stroke="#8c8c8c" stroke-width="1.15" stroke-linejoin="miter"/>
<path d="M64.90,369.74 H65.50 V380.25 H69.70 V401.27 H73.40 V411.78 H102.40 V422.30 H113.20 V432.81 H124.50 V443.32 H166.80 V453.83 H169.70 V464.34" fill="none" stroke="#e8cc50" stroke-width="1.15" stroke-linejoin="miter"/>
<path d="M69.10,369.74 H69.70 V379.20 H72.70 V388.66 H76.80 V398.12 H78.50 V407.58 H83.90 V417.04 H89.30 V426.50 H92.00 V435.96 H97.40 V445.42 H98.40 V454.88 H189.50 V464.34" fill="none" stroke="#4a86cf" stroke-width="1.15" stroke-linejoin="miter"/>
<path d="M51.30,369.74 H92.40 V379.20 H95.30 V388.66 H102.50 V398.12 H103.40 V407.58 H115.80 V417.04 H145.40 V426.50 H167.60 V435.96 H249.80 V445.42 H253.40 V454.88 H270.60 V464.34" fill="none" stroke="#d24f4f" stroke-width="1.15" stroke-linejoin="miter"/>
<text x="72.40" y="501.00" font-size="7.6" fill="#222" text-anchor="start" font-weight="normal" >Number at risk (number censored)</text>
<text x="69.50" y="513.10" font-size="7.4" fill="#5a8fd8" text-anchor="end" font-weight="normal" >LE 25%</text>
<text x="84.60" y="513.80" font-size="8.0" fill="#1e1e1e" text-anchor="middle" font-weight="normal" >10 (0)</text>
<text x="130.70" y="513.80" font-size="8.0" fill="#1e1e1e" text-anchor="middle" font-weight="normal" >1 (0)</text>
<text x="176.80" y="513.80" font-size="8.0" fill="#1e1e1e" text-anchor="middle" font-weight="normal" >1 (0)</text>
<text x="222.90" y="513.80" font-size="8.0" fill="#1e1e1e" text-anchor="middle" font-weight="normal" >0 (0)</text>
<text x="269.00" y="513.80" font-size="8.0" fill="#1e1e1e" text-anchor="middle" font-weight="normal" >0 (0)</text>
<text x="315.10" y="513.80" font-size="8.0" fill="#1e1e1e" text-anchor="middle" font-weight="normal" >0 (0)</text>
<text x="69.50" y="520.93" font-size="7.4" fill="#e3c445" text-anchor="end" font-weight="normal" >GT 25%-50%</text>
<text x="84.60" y="521.63" font-size="8.0" fill="#1e1e1e" text-anchor="middle" font-weight="normal" >9 (0)</text>
<text x="130.70" y="521.63" font-size="8.0" fill="#1e1e1e" text-anchor="middle" font-weight="normal" >4 (0)</text>
<text x="176.80" y="521.63" font-size="8.0" fill="#1e1e1e" text-anchor="middle" font-weight="normal" >2 (0)</text>
<text x="222.90" y="521.63" font-size="8.0" fill="#1e1e1e" text-anchor="middle" font-weight="normal" >0 (0)</text>
<text x="269.00" y="521.63" font-size="8.0" fill="#1e1e1e" text-anchor="middle" font-weight="normal" >0 (0)</text>
<text x="315.10" y="521.63" font-size="8.0" fill="#1e1e1e" text-anchor="middle" font-weight="normal" >0 (0)</text>
<text x="69.50" y="528.76" font-size="7.4" fill="#a9a9a9" text-anchor="end" font-weight="normal" >GT 50%-75%</text>
<text x="84.60" y="529.46" font-size="8.0" fill="#1e1e1e" text-anchor="middle" font-weight="normal" >9 (0)</text>
<text x="130.70" y="529.46" font-size="8.0" fill="#1e1e1e" text-anchor="middle" font-weight="normal" >6 (0)</text>
<text x="176.80" y="529.46" font-size="8.0" fill="#1e1e1e" text-anchor="middle" font-weight="normal" >2 (0)</text>
<text x="222.90" y="529.46" font-size="8.0" fill="#1e1e1e" text-anchor="middle" font-weight="normal" >2 (0)</text>
<text x="269.00" y="529.46" font-size="8.0" fill="#1e1e1e" text-anchor="middle" font-weight="normal" >1 (0)</text>
<text x="315.10" y="529.46" font-size="8.0" fill="#1e1e1e" text-anchor="middle" font-weight="normal" >1 (0)</text>
<text x="69.50" y="536.59" font-size="7.4" fill="#d45858" text-anchor="end" font-weight="normal" >GT 75%</text>
<text x="84.60" y="537.29" font-size="8.0" fill="#1e1e1e" text-anchor="middle" font-weight="normal" >10 (0)</text>
<text x="130.70" y="537.29" font-size="8.0" fill="#1e1e1e" text-anchor="middle" font-weight="normal" >6 (0)</text>
<text x="176.80" y="537.29" font-size="8.0" fill="#1e1e1e" text-anchor="middle" font-weight="normal" >4 (0)</text>
<text x="222.90" y="537.29" font-size="8.0" fill="#1e1e1e" text-anchor="middle" font-weight="normal" >3 (0)</text>
<text x="269.00" y="537.29" font-size="8.0" fill="#1e1e1e" text-anchor="middle" font-weight="normal" >1 (0)</text>
<text x="315.10" y="537.29" font-size="8.0" fill="#1e1e1e" text-anchor="middle" font-weight="normal" >0 (0)</text>
<text x="348.80" y="335.50" font-size="14" fill="#111" text-anchor="start" font-weight="normal" >C - OS with T-DXd by RPPA HER2 quartiles</text>
<path d="M434.5,350.6 L443.7,350.6" stroke="#4a86cf" stroke-width="1.1"/>
<path d="M439.1,348.40000000000003 L439.1,352.8" stroke="#4a86cf" stroke-width="0.9"/>
<text x="448.10" y="352.80" font-size="6.1" fill="#222" text-anchor="start" font-weight="normal" >LE 25%</text>
<path d="M474.6,350.6 L483.7,350.6" stroke="#e8cc50" stroke-width="1.1"/>
<text x="488.10" y="352.80" font-size="6.1" fill="#222" text-anchor="start" font-weight="normal" >GT 25%-50%</text>
<path d="M529.0,350.6 L538.2,350.6" stroke="#8c8c8c" stroke-width="1.1"/>
<path d="M533.6,348.40000000000003 L533.6,352.8" stroke="#8c8c8c" stroke-width="0.9"/>
<text x="542.60" y="352.80" font-size="6.1" fill="#222" text-anchor="start" font-weight="normal" >GT 50%-75%</text>
<path d="M583.1,350.6 L592.3,350.6" stroke="#d24f4f" stroke-width="1.1"/>
<path d="M587.7,348.40000000000003 L587.7,352.8" stroke="#d24f4f" stroke-width="0.9"/>
<text x="597.10" y="352.80" font-size="6.1" fill="#222" text-anchor="start" font-weight="normal" >GT 75%</text>
<path d="M383.5,365.2 L383.5,468.7 L666.5,468.7" fill="none" stroke="#8f8f8f" stroke-width="1.1"/>
<path d="M381.1,464.94 L383.5,464.94" stroke="#8f8f8f" stroke-width="0.8"/>
<text x="379.30" y="467.64" font-size="7" fill="#333" text-anchor="end" font-weight="normal" >0.0</text>
<path d="M381.1,445.95 L383.5,445.95" stroke="#8f8f8f" stroke-width="0.8"/>
<text x="379.30" y="448.65" font-size="7" fill="#333" text-anchor="end" font-weight="normal" >0.2</text>
<path d="M381.1,426.97 L383.5,426.97" stroke="#8f8f8f" stroke-width="0.8"/>
<text x="379.30" y="429.67" font-size="7" fill="#333" text-anchor="end" font-weight="normal" >0.4</text>
<path d="M381.1,407.98 L383.5,407.98" stroke="#8f8f8f" stroke-width="0.8"/>
<text x="379.30" y="410.68" font-size="7" fill="#333" text-anchor="end" font-weight="normal" >0.6</text>
<path d="M381.1,389.00 L383.5,389.00" stroke="#8f8f8f" stroke-width="0.8"/>
<text x="379.30" y="391.70" font-size="7" fill="#333" text-anchor="end" font-weight="normal" >0.8</text>
<path d="M381.1,370.01 L383.5,370.01" stroke="#8f8f8f" stroke-width="0.8"/>
<text x="379.30" y="372.71" font-size="7" fill="#333" text-anchor="end" font-weight="normal" >1.0</text>
<path d="M395.80,468.7 L395.80,471.09999999999997" stroke="#8f8f8f" stroke-width="0.8"/>
<text x="395.80" y="477.90" font-size="7" fill="#333" text-anchor="middle" font-weight="normal" >0</text>
<path d="M426.75,468.7 L426.75,471.09999999999997" stroke="#8f8f8f" stroke-width="0.8"/>
<text x="426.75" y="477.90" font-size="7" fill="#333" text-anchor="middle" font-weight="normal" >6</text>
<path d="M457.70,468.7 L457.70,471.09999999999997" stroke="#8f8f8f" stroke-width="0.8"/>
<text x="457.70" y="477.90" font-size="7" fill="#333" text-anchor="middle" font-weight="normal" >12</text>
<path d="M488.64,468.7 L488.64,471.09999999999997" stroke="#8f8f8f" stroke-width="0.8"/>
<text x="488.64" y="477.90" font-size="7" fill="#333" text-anchor="middle" font-weight="normal" >18</text>
<path d="M519.59,468.7 L519.59,471.09999999999997" stroke="#8f8f8f" stroke-width="0.8"/>
<text x="519.59" y="477.90" font-size="7" fill="#333" text-anchor="middle" font-weight="normal" >24</text>
<path d="M550.54,468.7 L550.54,471.09999999999997" stroke="#8f8f8f" stroke-width="0.8"/>
<text x="550.54" y="477.90" font-size="7" fill="#333" text-anchor="middle" font-weight="normal" >30</text>
<path d="M581.49,468.7 L581.49,471.09999999999997" stroke="#8f8f8f" stroke-width="0.8"/>
<text x="581.49" y="477.90" font-size="7" fill="#333" text-anchor="middle" font-weight="normal" >36</text>
<path d="M612.44,468.7 L612.44,471.09999999999997" stroke="#8f8f8f" stroke-width="0.8"/>
<text x="612.44" y="477.90" font-size="7" fill="#333" text-anchor="middle" font-weight="normal" >42</text>
<path d="M643.38,468.7 L643.38,471.09999999999997" stroke="#8f8f8f" stroke-width="0.8"/>
<text x="643.38" y="477.90" font-size="7" fill="#333" text-anchor="middle" font-weight="normal" >48</text>
<text x="526.40" y="487.50" font-size="9.35" fill="#222" text-anchor="middle" font-weight="normal" >Months from TDXd</text>
<text x="366.30" y="417.40" font-size="8.3" fill="#222" text-anchor="middle" font-weight="normal" transform="rotate(-90 366.3 417.4)">Overall Survival</text>
<rect x="545.3" y="369.7" width="113.40" height="41.90" fill="#bfbfbf"/>
<text x="601.90" y="374.90" font-size="6.29" fill="#1e1e1e" text-anchor="middle" font-weight="normal" >Median OS</text>
<text x="601.90" y="382.90" font-size="6.29" fill="#1e1e1e" text-anchor="middle" font-weight="normal" >HER2 LE 25% = 6.5 months</text>
<text x="601.90" y="390.90" font-size="6.29" fill="#1e1e1e" text-anchor="middle" font-weight="normal" >HER2 GT 25%=50% = 11.9 months</text>
<text x="601.90" y="398.90" font-size="6.29" fill="#1e1e1e" text-anchor="middle" font-weight="normal" >HER2 GT 50%-75% = 27.2 months</text>
<text x="601.90" y="406.90" font-size="6.29" fill="#1e1e1e" text-anchor="middle" font-weight="normal" >HER2 GT 75% = 25.1 months</text>
<text x="395.70" y="457.40" font-size="6.15" fill="#222" text-anchor="start" font-weight="normal" >Log Rank &lt; 0.001</text>
<path d="M411.80,370.01 H412.40 V380.56 H449.70 V391.11 H500.10 V405.00 H536.40 V419.00 H579.50 V434.40 H647.80 V464.94" fill="none" stroke="#8c8c8c" stroke-width="1.15" stroke-linejoin="miter"/>
<path d="M407.20,370.01 H407.80 V380.56 H408.80 V391.11 H421.40 V401.65 H445.00 V412.20 H456.80 V422.75 H469.00 V433.30 H481.40 V443.84 H494.90 V454.39 H511.40 V464.94" fill="none" stroke="#e8cc50" stroke-width="1.15" stroke-linejoin="miter"/>
<path d="M409.20,370.01 H409.80 V379.50 H410.90 V389.00 H414.90 V398.49 H420.00 V407.98 H423.00 V417.48 H425.00 V426.97 H436.20 V436.46 H445.00 V445.95 H479.60 V455.45 H497.80" fill="none" stroke="#4a86cf" stroke-width="1.15" stroke-linejoin="miter"/>
<path d="M395.80,370.01 H420.50 V379.50 H463.20 V389.00 H492.00 V399.82 H514.50 V412.82 H524.90 V425.92 H587.50 V464.94" fill="none" stroke="#d24f4f" stroke-width="1.15" stroke-linejoin="miter"/>
<path d="M436.40,380.56 L441.20,380.56 M438.80,378.46 L438.80,382.66" stroke="#8c8c8c" stroke-width="1.0"/>
<path d="M498.20,405.00 L503.00,405.00 M500.60,402.90 L500.60,407.10" stroke="#8c8c8c" stroke-width="1.0"/>
<path d="M640.50,434.40 L645.30,434.40 M642.90,432.30 L642.90,436.50" stroke="#8c8c8c" stroke-width="1.0"/>
<path d="M474.50,389.00 L479.30,389.00 M476.90,386.90 L476.90,391.10" stroke="#d24f4f" stroke-width="1.0"/>
<path d="M510.30,399.82 L515.10,399.82 M512.70,397.72 L512.70,401.92" stroke="#d24f4f" stroke-width="1.0"/>
<path d="M533.90,425.92 L538.70,425.92 M536.30,423.82 L536.30,428.02" stroke="#d24f4f" stroke-width="1.0"/>
<path d="M538.70,425.92 L543.50,425.92 M541.10,423.82 L541.10,428.02" stroke="#d24f4f" stroke-width="1.0"/>
<path d="M495.40,455.45 L500.20,455.45 M497.80,453.35 L497.80,457.55" stroke="#4a86cf" stroke-width="1.0"/>
<text x="416.60" y="501.20" font-size="7.35" fill="#222" text-anchor="start" font-weight="normal" >Number at risk (number censored)</text>
<text x="413.10" y="513.00" font-size="7.3" fill="#5a8fd8" text-anchor="end" font-weight="normal" >LE 25%</text>
<text x="428.40" y="513.70" font-size="7.9" fill="#1e1e1e" text-anchor="middle" font-weight="normal" >10 (0)</text>
<text x="455.50" y="513.70" font-size="7.9" fill="#1e1e1e" text-anchor="middle" font-weight="normal" >4 (0)</text>
<text x="482.60" y="513.70" font-size="7.9" fill="#1e1e1e" text-anchor="middle" font-weight="normal" >2 (0)</text>
<text x="509.70" y="513.70" font-size="7.9" fill="#1e1e1e" text-anchor="middle" font-weight="normal" >1 (0)</text>
<text x="536.80" y="513.70" font-size="7.9" fill="#1e1e1e" text-anchor="middle" font-weight="normal" >0 (1)</text>
<text x="563.90" y="513.70" font-size="7.9" fill="#1e1e1e" text-anchor="middle" font-weight="normal" >0 (1)</text>
<text x="591.00" y="513.70" font-size="7.9" fill="#1e1e1e" text-anchor="middle" font-weight="normal" >0 (1)</text>
<text x="618.10" y="513.70" font-size="7.9" fill="#1e1e1e" text-anchor="middle" font-weight="normal" >0 (1)</text>
<text x="645.20" y="513.70" font-size="7.9" fill="#1e1e1e" text-anchor="middle" font-weight="normal" >0 (1)</text>
<text x="413.10" y="520.85" font-size="7.3" fill="#e3c445" text-anchor="end" font-weight="normal" >GT 25%-50%</text>
<text x="428.40" y="521.55" font-size="7.9" fill="#1e1e1e" text-anchor="middle" font-weight="normal" >9 (0)</text>
<text x="455.50" y="521.55" font-size="7.9" fill="#1e1e1e" text-anchor="middle" font-weight="normal" >6 (0)</text>
<text x="482.60" y="521.55" font-size="7.9" fill="#1e1e1e" text-anchor="middle" font-weight="normal" >4 (0)</text>
<text x="509.70" y="521.55" font-size="7.9" fill="#1e1e1e" text-anchor="middle" font-weight="normal" >2 (0)</text>
<text x="536.80" y="521.55" font-size="7.9" fill="#1e1e1e" text-anchor="middle" font-weight="normal" >0 (0)</text>
<text x="563.90" y="521.55" font-size="7.9" fill="#1e1e1e" text-anchor="middle" font-weight="normal" >0 (0)</text>
<text x="591.00" y="521.55" font-size="7.9" fill="#1e1e1e" text-anchor="middle" font-weight="normal" >0 (0)</text>
<text x="618.10" y="521.55" font-size="7.9" fill="#1e1e1e" text-anchor="middle" font-weight="normal" >0 (0)</text>
<text x="645.20" y="521.55" font-size="7.9" fill="#1e1e1e" text-anchor="middle" font-weight="normal" >0 (0)</text>
<text x="413.10" y="528.70" font-size="7.3" fill="#a9a9a9" text-anchor="end" font-weight="normal" >GT 50%-75%</text>
<text x="428.40" y="529.40" font-size="7.9" fill="#1e1e1e" text-anchor="middle" font-weight="normal" >9 (0)</text>
<text x="455.50" y="529.40" font-size="7.9" fill="#1e1e1e" text-anchor="middle" font-weight="normal" >8 (0)</text>
<text x="482.60" y="529.40" font-size="7.9" fill="#1e1e1e" text-anchor="middle" font-weight="normal" >6 (1)</text>
<text x="509.70" y="529.40" font-size="7.9" fill="#1e1e1e" text-anchor="middle" font-weight="normal" >6 (1)</text>
<text x="536.80" y="529.40" font-size="7.9" fill="#1e1e1e" text-anchor="middle" font-weight="normal" >4 (2)</text>
<text x="563.90" y="529.40" font-size="7.9" fill="#1e1e1e" text-anchor="middle" font-weight="normal" >3 (2)</text>
<text x="591.00" y="529.40" font-size="7.9" fill="#1e1e1e" text-anchor="middle" font-weight="normal" >2 (2)</text>
<text x="618.10" y="529.40" font-size="7.9" fill="#1e1e1e" text-anchor="middle" font-weight="normal" >2 (2)</text>
<text x="645.20" y="529.40" font-size="7.9" fill="#1e1e1e" text-anchor="middle" font-weight="normal" >2 (2)</text>
<text x="413.10" y="536.55" font-size="7.3" fill="#d45858" text-anchor="end" font-weight="normal" >GT 75%</text>
<text x="428.40" y="537.25" font-size="7.9" fill="#1e1e1e" text-anchor="middle" font-weight="normal" >10 (0)</text>
<text x="455.50" y="537.25" font-size="7.9" fill="#1e1e1e" text-anchor="middle" font-weight="normal" >9 (0)</text>
<text x="482.60" y="537.25" font-size="7.9" fill="#1e1e1e" text-anchor="middle" font-weight="normal" >9 (0)</text>
<text x="509.70" y="537.25" font-size="7.9" fill="#1e1e1e" text-anchor="middle" font-weight="normal" >7 (1)</text>
<text x="536.80" y="537.25" font-size="7.9" fill="#1e1e1e" text-anchor="middle" font-weight="normal" >4 (2)</text>
<text x="563.90" y="537.25" font-size="7.9" fill="#1e1e1e" text-anchor="middle" font-weight="normal" >1 (4)</text>
<text x="591.00" y="537.25" font-size="7.9" fill="#1e1e1e" text-anchor="middle" font-weight="normal" >1 (4)</text>
<text x="618.10" y="537.25" font-size="7.9" fill="#1e1e1e" text-anchor="middle" font-weight="normal" >0 (4)</text>
<text x="645.20" y="537.25" font-size="7.9" fill="#1e1e1e" text-anchor="middle" font-weight="normal" >0 (4)</text>
<text x="9.10" y="572.10" font-size="14" fill="#111" text-anchor="start" font-weight="normal" >D - TTNT with T-DXd by RPPA phospho HER2</text>
<path d="M93.6,586.6 L101.9,586.6" stroke="#4a86cf" stroke-width="1.1"/>
<text x="106.50" y="588.80" font-size="6.4" fill="#222" text-anchor="start" font-weight="normal" >LE 25%</text>
<path d="M134.7,586.6 L143.2,586.6" stroke="#e8cc50" stroke-width="1.1"/>
<text x="148.50" y="588.80" font-size="6.4" fill="#222" text-anchor="start" font-weight="normal" >GT 25%-50%</text>
<path d="M190.8,586.6 L200.0,586.6" stroke="#8c8c8c" stroke-width="1.1"/>
<text x="204.60" y="588.80" font-size="6.4" fill="#222" text-anchor="start" font-weight="normal" >GT 50%-75%</text>
<path d="M247.5,586.6 L256.7,586.6" stroke="#d24f4f" stroke-width="1.1"/>
<text x="261.30" y="588.80" font-size="6.4" fill="#222" text-anchor="start" font-weight="normal" >GT 75%</text>
<path d="M39.6,602.2 L39.6,709.3 L333.3,709.3" fill="none" stroke="#8f8f8f" stroke-width="1.1"/>
<path d="M37.2,704.74 L39.6,704.74" stroke="#8f8f8f" stroke-width="0.8"/>
<text x="35.40" y="707.94" font-size="7" fill="#333" text-anchor="end" font-weight="normal" >0.0</text>
<path d="M37.2,685.21 L39.6,685.21" stroke="#8f8f8f" stroke-width="0.8"/>
<text x="35.40" y="688.41" font-size="7" fill="#333" text-anchor="end" font-weight="normal" >0.2</text>
<path d="M37.2,665.68 L39.6,665.68" stroke="#8f8f8f" stroke-width="0.8"/>
<text x="35.40" y="668.88" font-size="7" fill="#333" text-anchor="end" font-weight="normal" >0.4</text>
<path d="M37.2,646.16 L39.6,646.16" stroke="#8f8f8f" stroke-width="0.8"/>
<text x="35.40" y="649.36" font-size="7" fill="#333" text-anchor="end" font-weight="normal" >0.6</text>
<path d="M37.2,626.63 L39.6,626.63" stroke="#8f8f8f" stroke-width="0.8"/>
<text x="35.40" y="629.83" font-size="7" fill="#333" text-anchor="end" font-weight="normal" >0.8</text>
<path d="M37.2,607.10 L39.6,607.10" stroke="#8f8f8f" stroke-width="0.8"/>
<text x="35.40" y="610.30" font-size="7" fill="#333" text-anchor="end" font-weight="normal" >1.0</text>
<path d="M52.60,709.3 L52.60,711.6999999999999" stroke="#8f8f8f" stroke-width="0.8"/>
<text x="52.60" y="718.70" font-size="7" fill="#333" text-anchor="middle" font-weight="normal" >0</text>
<path d="M106.00,709.3 L106.00,711.6999999999999" stroke="#8f8f8f" stroke-width="0.8"/>
<text x="106.00" y="718.70" font-size="7" fill="#333" text-anchor="middle" font-weight="normal" >6</text>
<path d="M159.40,709.3 L159.40,711.6999999999999" stroke="#8f8f8f" stroke-width="0.8"/>
<text x="159.40" y="718.70" font-size="7" fill="#333" text-anchor="middle" font-weight="normal" >12</text>
<path d="M212.80,709.3 L212.80,711.6999999999999" stroke="#8f8f8f" stroke-width="0.8"/>
<text x="212.80" y="718.70" font-size="7" fill="#333" text-anchor="middle" font-weight="normal" >18</text>
<path d="M266.20,709.3 L266.20,711.6999999999999" stroke="#8f8f8f" stroke-width="0.8"/>
<text x="266.20" y="718.70" font-size="7" fill="#333" text-anchor="middle" font-weight="normal" >24</text>
<path d="M319.60,709.3 L319.60,711.6999999999999" stroke="#8f8f8f" stroke-width="0.8"/>
<text x="319.60" y="718.70" font-size="7" fill="#333" text-anchor="middle" font-weight="normal" >30</text>
<text x="186.20" y="728.50" font-size="9.35" fill="#222" text-anchor="middle" font-weight="normal" >Months from TDXd</text>
<text x="20.60" y="655.90" font-size="8.75" fill="#222" text-anchor="middle" font-weight="normal" transform="rotate(-90 20.6 655.9)">Time to Next Treatment</text>
<rect x="194.8" y="607.0" width="139.30" height="43.80" fill="#bfbfbf"/>
<text x="265.90" y="613.00" font-size="6.5" fill="#1e1e1e" text-anchor="middle" font-weight="normal" >Median TTNT</text>
<text x="265.90" y="621.30" font-size="6.5" fill="#1e1e1e" text-anchor="middle" font-weight="normal" >HER2 Y1248 LE 25% = 5.2 months</text>
<text x="265.90" y="629.60" font-size="6.5" fill="#1e1e1e" text-anchor="middle" font-weight="normal" >HER2 Y1248 GT 25%=50% = 4.4 months</text>
<text x="265.90" y="637.90" font-size="6.5" fill="#1e1e1e" text-anchor="middle" font-weight="normal" >HER2 Y1248 GT 50%-75% = 7.0 months</text>
<text x="265.90" y="646.20" font-size="6.5" fill="#1e1e1e" text-anchor="middle" font-weight="normal" >HER2 Y1248 GT 75% = 6.9 months</text>
<text x="52.20" y="697.90" font-size="6.6" fill="#222" text-anchor="start" font-weight="normal" >Log Rank = 0.26</text>
<path d="M71.10,607.10 H71.70 V617.95 H80.20 V628.80 H96.30 V639.65 H105.40 V650.50 H115.20 V661.34 H126.80 V672.19 H170.60 V683.04 H192.60 V693.89 H264.40 V704.74" fill="none" stroke="#8c8c8c" stroke-width="1.15" stroke-linejoin="miter"/>
<path d="M66.50,607.10 H67.10 V619.31 H71.30 V631.51 H75.20 V643.72 H78.50 V655.92 H104.40 V668.12 H156.60 V680.33 H170.30 V692.53 H258.50 V704.74" fill="none" stroke="#e8cc50" stroke-width="1.15" stroke-linejoin="miter"/>
<path d="M71.80,607.10 H72.40 V615.98 H74.50 V624.85 H85.10 V633.73 H91.40 V642.61 H93.50 V651.48 H99.10 V660.36 H99.80 V669.23 H110.30 V678.11 H118.10 V686.99 H155.20 V695.86 H173.40 V704.74" fill="none" stroke="#4a86cf" stroke-width="1.15" stroke-linejoin="miter"/>
<path d="M52.60,607.10 H81.10 V616.86 H94.60 V626.63 H97.00 V636.39 H100.50 V646.16 H104.70 V655.92 H123.30 V665.68 H148.10 V675.45 H254.60 V685.21 H275.80 V694.98 H333.40" fill="none" stroke="#d24f4f" stroke-width="1.15" stroke-linejoin="miter"/>
<text x="74.00" y="743.20" font-size="7.7" fill="#222" text-anchor="start" font-weight="normal" >Number at risk (number censored)</text>
<text x="69.80" y="754.90" font-size="7.5" fill="#5a8fd8" text-anchor="end" font-weight="normal" >LE 25%</text>
<text x="86.40" y="755.90" font-size="8.1" fill="#1e1e1e" text-anchor="middle" font-weight="normal" >11 (0)</text>
<text x="133.40" y="755.90" font-size="8.1" fill="#1e1e1e" text-anchor="middle" font-weight="normal" >4 (0)</text>
<text x="180.40" y="755.90" font-size="8.1" fill="#1e1e1e" text-anchor="middle" font-weight="normal" >1 (0)</text>
<text x="227.40" y="755.90" font-size="8.1" fill="#1e1e1e" text-anchor="middle" font-weight="normal" >0 (0)</text>
<text x="274.40" y="755.90" font-size="8.1" fill="#1e1e1e" text-anchor="middle" font-weight="normal" >0 (0)</text>
<text x="321.40" y="755.90" font-size="8.1" fill="#1e1e1e" text-anchor="middle" font-weight="normal" >0 (0)</text>
<text x="69.80" y="762.85" font-size="7.5" fill="#e3c445" text-anchor="end" font-weight="normal" >GT 25%-50%</text>
<text x="86.40" y="763.85" font-size="8.1" fill="#1e1e1e" text-anchor="middle" font-weight="normal" >8 (0)</text>
<text x="133.40" y="763.85" font-size="8.1" fill="#1e1e1e" text-anchor="middle" font-weight="normal" >3 (0)</text>
<text x="180.40" y="763.85" font-size="8.1" fill="#1e1e1e" text-anchor="middle" font-weight="normal" >2 (0)</text>
<text x="227.40" y="763.85" font-size="8.1" fill="#1e1e1e" text-anchor="middle" font-weight="normal" >1 (0)</text>
<text x="274.40" y="763.85" font-size="8.1" fill="#1e1e1e" text-anchor="middle" font-weight="normal" >0 (0)</text>
<text x="321.40" y="763.85" font-size="8.1" fill="#1e1e1e" text-anchor="middle" font-weight="normal" >0 (0)</text>
<text x="69.80" y="770.80" font-size="7.5" fill="#a9a9a9" text-anchor="end" font-weight="normal" >GT 50%-75%</text>
<text x="86.40" y="771.80" font-size="8.1" fill="#1e1e1e" text-anchor="middle" font-weight="normal" >9 (0)</text>
<text x="133.40" y="771.80" font-size="8.1" fill="#1e1e1e" text-anchor="middle" font-weight="normal" >5 (0)</text>
<text x="180.40" y="771.80" font-size="8.1" fill="#1e1e1e" text-anchor="middle" font-weight="normal" >3 (0)</text>
<text x="227.40" y="771.80" font-size="8.1" fill="#1e1e1e" text-anchor="middle" font-weight="normal" >1 (0)</text>
<text x="274.40" y="771.80" font-size="8.1" fill="#1e1e1e" text-anchor="middle" font-weight="normal" >0 (0)</text>
<text x="321.40" y="771.80" font-size="8.1" fill="#1e1e1e" text-anchor="middle" font-weight="normal" >0 (0)</text>
<text x="69.80" y="778.75" font-size="7.5" fill="#d45858" text-anchor="end" font-weight="normal" >GT 75%</text>
<text x="86.40" y="779.75" font-size="8.1" fill="#1e1e1e" text-anchor="middle" font-weight="normal" >10 (0)</text>
<text x="133.40" y="779.75" font-size="8.1" fill="#1e1e1e" text-anchor="middle" font-weight="normal" >5 (0)</text>
<text x="180.40" y="779.75" font-size="8.1" fill="#1e1e1e" text-anchor="middle" font-weight="normal" >3 (0)</text>
<text x="227.40" y="779.75" font-size="8.1" fill="#1e1e1e" text-anchor="middle" font-weight="normal" >3 (0)</text>
<text x="274.40" y="779.75" font-size="8.1" fill="#1e1e1e" text-anchor="middle" font-weight="normal" >2 (0)</text>
<text x="321.40" y="779.75" font-size="8.1" fill="#1e1e1e" text-anchor="middle" font-weight="normal" >1 (0)</text>
<text x="347.90" y="574.10" font-size="14" fill="#111" text-anchor="start" font-weight="normal" >E - OS with T-DXd by RPPA phospho HER2</text>
<path d="M428.8,587.6 L437.5,587.6" stroke="#4a86cf" stroke-width="1.1"/>
<path d="M433.15,585.4 L433.15,589.8000000000001" stroke="#4a86cf" stroke-width="0.9"/>
<text x="442.80" y="589.80" font-size="6.4" fill="#222" text-anchor="start" font-weight="normal" >LE 25%</text>
<path d="M470.2,587.6 L479.9,587.6" stroke="#e8cc50" stroke-width="1.1"/>
<text x="484.80" y="589.80" font-size="6.4" fill="#222" text-anchor="start" font-weight="normal" >GT 25%-50%</text>
<path d="M527.4,587.6 L536.8,587.6" stroke="#8c8c8c" stroke-width="1.1"/>
<path d="M532.0999999999999,585.4 L532.0999999999999,589.8000000000001" stroke="#8c8c8c" stroke-width="0.9"/>
<text x="542.00" y="589.80" font-size="6.4" fill="#222" text-anchor="start" font-weight="normal" >GT 50%-75%</text>
<path d="M585.0,587.6 L594.6,587.6" stroke="#d24f4f" stroke-width="1.1"/>
<path d="M589.8,585.4 L589.8,589.8000000000001" stroke="#d24f4f" stroke-width="0.9"/>
<text x="598.70" y="589.80" font-size="6.4" fill="#222" text-anchor="start" font-weight="normal" >GT 75%</text>
<path d="M374.7,603.6 L374.7,715.6 L671.8,715.6" fill="none" stroke="#8f8f8f" stroke-width="1.1"/>
<path d="M372.3,711.60 L374.7,711.60" stroke="#8f8f8f" stroke-width="0.8"/>
<text x="370.50" y="714.70" font-size="7" fill="#333" text-anchor="end" font-weight="normal" >0.0</text>
<path d="M372.3,691.04 L374.7,691.04" stroke="#8f8f8f" stroke-width="0.8"/>
<text x="370.50" y="694.14" font-size="7" fill="#333" text-anchor="end" font-weight="normal" >0.2</text>
<path d="M372.3,670.48 L374.7,670.48" stroke="#8f8f8f" stroke-width="0.8"/>
<text x="370.50" y="673.58" font-size="7" fill="#333" text-anchor="end" font-weight="normal" >0.4</text>
<path d="M372.3,649.92 L374.7,649.92" stroke="#8f8f8f" stroke-width="0.8"/>
<text x="370.50" y="653.02" font-size="7" fill="#333" text-anchor="end" font-weight="normal" >0.6</text>
<path d="M372.3,629.36 L374.7,629.36" stroke="#8f8f8f" stroke-width="0.8"/>
<text x="370.50" y="632.46" font-size="7" fill="#333" text-anchor="end" font-weight="normal" >0.8</text>
<path d="M372.3,608.80 L374.7,608.80" stroke="#8f8f8f" stroke-width="0.8"/>
<text x="370.50" y="611.90" font-size="7" fill="#333" text-anchor="end" font-weight="normal" >1.0</text>
<path d="M388.00,715.6 L388.00,718.0" stroke="#8f8f8f" stroke-width="0.8"/>
<text x="388.00" y="726.20" font-size="7" fill="#333" text-anchor="middle" font-weight="normal" >0</text>
<path d="M420.38,715.6 L420.38,718.0" stroke="#8f8f8f" stroke-width="0.8"/>
<text x="420.38" y="726.20" font-size="7" fill="#333" text-anchor="middle" font-weight="normal" >6</text>
<path d="M452.75,715.6 L452.75,718.0" stroke="#8f8f8f" stroke-width="0.8"/>
<text x="452.75" y="726.20" font-size="7" fill="#333" text-anchor="middle" font-weight="normal" >12</text>
<path d="M485.13,715.6 L485.13,718.0" stroke="#8f8f8f" stroke-width="0.8"/>
<text x="485.13" y="726.20" font-size="7" fill="#333" text-anchor="middle" font-weight="normal" >18</text>
<path d="M517.50,715.6 L517.50,718.0" stroke="#8f8f8f" stroke-width="0.8"/>
<text x="517.50" y="726.20" font-size="7" fill="#333" text-anchor="middle" font-weight="normal" >24</text>
<path d="M549.88,715.6 L549.88,718.0" stroke="#8f8f8f" stroke-width="0.8"/>
<text x="549.88" y="726.20" font-size="7" fill="#333" text-anchor="middle" font-weight="normal" >30</text>
<path d="M582.26,715.6 L582.26,718.0" stroke="#8f8f8f" stroke-width="0.8"/>
<text x="582.26" y="726.20" font-size="7" fill="#333" text-anchor="middle" font-weight="normal" >36</text>
<path d="M614.63,715.6 L614.63,718.0" stroke="#8f8f8f" stroke-width="0.8"/>
<text x="614.63" y="726.20" font-size="7" fill="#333" text-anchor="middle" font-weight="normal" >42</text>
<path d="M647.01,715.6 L647.01,718.0" stroke="#8f8f8f" stroke-width="0.8"/>
<text x="647.01" y="726.20" font-size="7" fill="#333" text-anchor="middle" font-weight="normal" >48</text>
<text x="523.00" y="736.50" font-size="9.35" fill="#222" text-anchor="middle" font-weight="normal" >Months from TDXd</text>
<text x="356.60" y="659.70" font-size="9.1" fill="#222" text-anchor="middle" font-weight="normal" transform="rotate(-90 356.6 659.7)">Overall Survival</text>
<rect x="529.1" y="608.6" width="139.90" height="43.40" fill="#bfbfbf"/>
<text x="598.50" y="614.60" font-size="6.52" fill="#1e1e1e" text-anchor="middle" font-weight="normal" >Median OS</text>
<text x="598.50" y="623.35" font-size="6.52" fill="#1e1e1e" text-anchor="middle" font-weight="normal" >HER2 Y1248 LE 25% = 5.7 months</text>
<text x="598.50" y="632.10" font-size="6.52" fill="#1e1e1e" text-anchor="middle" font-weight="normal" >HER2 Y1248 GT 25%=50% = 13.1 months</text>
<text x="598.50" y="640.85" font-size="6.52" fill="#1e1e1e" text-anchor="middle" font-weight="normal" >HER2 Y1248 GT 50%-75% = 18.6 months</text>
<text x="598.50" y="649.60" font-size="6.52" fill="#1e1e1e" text-anchor="middle" font-weight="normal" >HER2 Y1248 GT 75% = 35.6 months</text>
<text x="387.70" y="703.90" font-size="7.25" fill="#222" text-anchor="start" font-weight="normal" >Log Rank = 0.014</text>
<path d="M404.70,608.80 H430.20 V620.22 H439.30 V631.64 H444.40 V643.07 H452.10 V654.49 H488.60 V665.91 H509.10 V680.80 H588.90 V696.40 H646.80" fill="none" stroke="#8c8c8c" stroke-width="1.15" stroke-linejoin="miter"/>
<path d="M399.50,608.80 H400.10 V621.65 H401.30 V634.50 H403.70 V647.35 H439.30 V660.20 H477.90 V673.05 H491.40 V685.90 H512.50 V698.75 H535.40 V711.60" fill="none" stroke="#e8cc50" stroke-width="1.15" stroke-linejoin="miter"/>
<path d="M400.70,608.80 H401.30 V618.15 H408.40 V627.49 H413.10 V636.84 H415.10 V646.18 H416.70 V655.53 H418.60 V664.87 H458.50 V676.10 H464.80 V687.60 H475.30 V699.50 H498.00" fill="none" stroke="#4a86cf" stroke-width="1.15" stroke-linejoin="miter"/>
<path d="M388.00,608.80 H405.30 V619.08 H413.40 V629.36 H496.80 V640.90 H523.20 V655.00 H580.30 V683.00 H652.30 V711.60" fill="none" stroke="#d24f4f" stroke-width="1.15" stroke-linejoin="miter"/>
<path d="M430.60,664.87 L435.40,664.87 M433.00,662.77 L433.00,666.97" stroke="#4a86cf" stroke-width="1.0"/>
<path d="M495.60,699.50 L500.40,699.50 M498.00,697.40 L498.00,701.60" stroke="#4a86cf" stroke-width="1.0"/>
<path d="M492.40,665.91 L497.20,665.91 M494.80,663.81 L494.80,668.01" stroke="#8c8c8c" stroke-width="1.0"/>
<path d="M644.40,696.40 L649.20,696.40 M646.80,694.30 L646.80,698.50" stroke="#8c8c8c" stroke-width="1.0"/>
<path d="M470.80,629.36 L475.60,629.36 M473.20,627.26 L473.20,631.46" stroke="#d24f4f" stroke-width="1.0"/>
<path d="M507.50,640.90 L512.30,640.90 M509.90,638.80 L509.90,643.00" stroke="#d24f4f" stroke-width="1.0"/>
<path d="M533.00,655.00 L537.80,655.00 M535.40,652.90 L535.40,657.10" stroke="#d24f4f" stroke-width="1.0"/>
<path d="M538.00,655.00 L542.80,655.00 M540.40,652.90 L540.40,657.10" stroke="#d24f4f" stroke-width="1.0"/>
<text x="409.20" y="751.10" font-size="7.75" fill="#222" text-anchor="start" font-weight="normal" >Number at risk (number censored)</text>
<text x="405.80" y="763.50" font-size="7.8" fill="#5a8fd8" text-anchor="end" font-weight="normal" >LE 25%</text>
<text x="422.60" y="764.90" font-size="8.3" fill="#1e1e1e" text-anchor="middle" font-weight="normal" >11 (0)</text>
<text x="451.03" y="764.90" font-size="8.3" fill="#1e1e1e" text-anchor="middle" font-weight="normal" >5 (0)</text>
<text x="479.46" y="764.90" font-size="8.3" fill="#1e1e1e" text-anchor="middle" font-weight="normal" >4 (1)</text>
<text x="507.89" y="764.90" font-size="8.3" fill="#1e1e1e" text-anchor="middle" font-weight="normal" >1 (1)</text>
<text x="536.32" y="764.90" font-size="8.3" fill="#1e1e1e" text-anchor="middle" font-weight="normal" >0 (2)</text>
<text x="564.75" y="764.90" font-size="8.3" fill="#1e1e1e" text-anchor="middle" font-weight="normal" >0 (2)</text>
<text x="593.18" y="764.90" font-size="8.3" fill="#1e1e1e" text-anchor="middle" font-weight="normal" >0 (2)</text>
<text x="621.61" y="764.90" font-size="8.3" fill="#1e1e1e" text-anchor="middle" font-weight="normal" >0 (2)</text>
<text x="650.04" y="764.90" font-size="8.3" fill="#1e1e1e" text-anchor="middle" font-weight="normal" >0 (2)</text>
<text x="405.80" y="771.77" font-size="7.8" fill="#e3c445" text-anchor="end" font-weight="normal" >GT 25%-50%</text>
<text x="422.60" y="773.17" font-size="8.3" fill="#1e1e1e" text-anchor="middle" font-weight="normal" >8 (0)</text>
<text x="451.03" y="773.17" font-size="8.3" fill="#1e1e1e" text-anchor="middle" font-weight="normal" >5 (0)</text>
<text x="479.46" y="773.17" font-size="8.3" fill="#1e1e1e" text-anchor="middle" font-weight="normal" >4 (0)</text>
<text x="507.89" y="773.17" font-size="8.3" fill="#1e1e1e" text-anchor="middle" font-weight="normal" >3 (0)</text>
<text x="536.32" y="773.17" font-size="8.3" fill="#1e1e1e" text-anchor="middle" font-weight="normal" >1 (0)</text>
<text x="564.75" y="773.17" font-size="8.3" fill="#1e1e1e" text-anchor="middle" font-weight="normal" >0 (0)</text>
<text x="593.18" y="773.17" font-size="8.3" fill="#1e1e1e" text-anchor="middle" font-weight="normal" >0 (0)</text>
<text x="621.61" y="773.17" font-size="8.3" fill="#1e1e1e" text-anchor="middle" font-weight="normal" >0 (0)</text>
<text x="650.04" y="773.17" font-size="8.3" fill="#1e1e1e" text-anchor="middle" font-weight="normal" >0 (0)</text>
<text x="405.80" y="780.04" font-size="7.8" fill="#a9a9a9" text-anchor="end" font-weight="normal" >GT 50%-75%</text>
<text x="422.60" y="781.44" font-size="8.3" fill="#1e1e1e" text-anchor="middle" font-weight="normal" >9 (0)</text>
<text x="451.03" y="781.44" font-size="8.3" fill="#1e1e1e" text-anchor="middle" font-weight="normal" >9 (0)</text>
<text x="479.46" y="781.44" font-size="8.3" fill="#1e1e1e" text-anchor="middle" font-weight="normal" >5 (0)</text>
<text x="507.89" y="781.44" font-size="8.3" fill="#1e1e1e" text-anchor="middle" font-weight="normal" >5 (0)</text>
<text x="536.32" y="781.44" font-size="8.3" fill="#1e1e1e" text-anchor="middle" font-weight="normal" >2 (1)</text>
<text x="564.75" y="781.44" font-size="8.3" fill="#1e1e1e" text-anchor="middle" font-weight="normal" >2 (1)</text>
<text x="593.18" y="781.44" font-size="8.3" fill="#1e1e1e" text-anchor="middle" font-weight="normal" >2 (1)</text>
<text x="621.61" y="781.44" font-size="8.3" fill="#1e1e1e" text-anchor="middle" font-weight="normal" >1 (1)</text>
<text x="650.04" y="781.44" font-size="8.3" fill="#1e1e1e" text-anchor="middle" font-weight="normal" >1 (1)</text>
<text x="405.80" y="788.31" font-size="7.8" fill="#d45858" text-anchor="end" font-weight="normal" >GT 75%</text>
<text x="422.60" y="789.71" font-size="8.3" fill="#1e1e1e" text-anchor="middle" font-weight="normal" >10 (0)</text>
<text x="451.03" y="789.71" font-size="8.3" fill="#1e1e1e" text-anchor="middle" font-weight="normal" >8 (0)</text>
<text x="479.46" y="789.71" font-size="8.3" fill="#1e1e1e" text-anchor="middle" font-weight="normal" >8 (0)</text>
<text x="507.89" y="789.71" font-size="8.3" fill="#1e1e1e" text-anchor="middle" font-weight="normal" >7 (1)</text>
<text x="536.32" y="789.71" font-size="8.3" fill="#1e1e1e" text-anchor="middle" font-weight="normal" >5 (2)</text>
<text x="564.75" y="789.71" font-size="8.3" fill="#1e1e1e" text-anchor="middle" font-weight="normal" >2 (4)</text>
<text x="593.18" y="789.71" font-size="8.3" fill="#1e1e1e" text-anchor="middle" font-weight="normal" >1 (4)</text>
<text x="621.61" y="789.71" font-size="8.3" fill="#1e1e1e" text-anchor="middle" font-weight="normal" >1 (4)</text>
<text x="650.04" y="789.71" font-size="8.3" fill="#1e1e1e" text-anchor="middle" font-weight="normal" >1 (4)</text>
</svg>
</body></html>
